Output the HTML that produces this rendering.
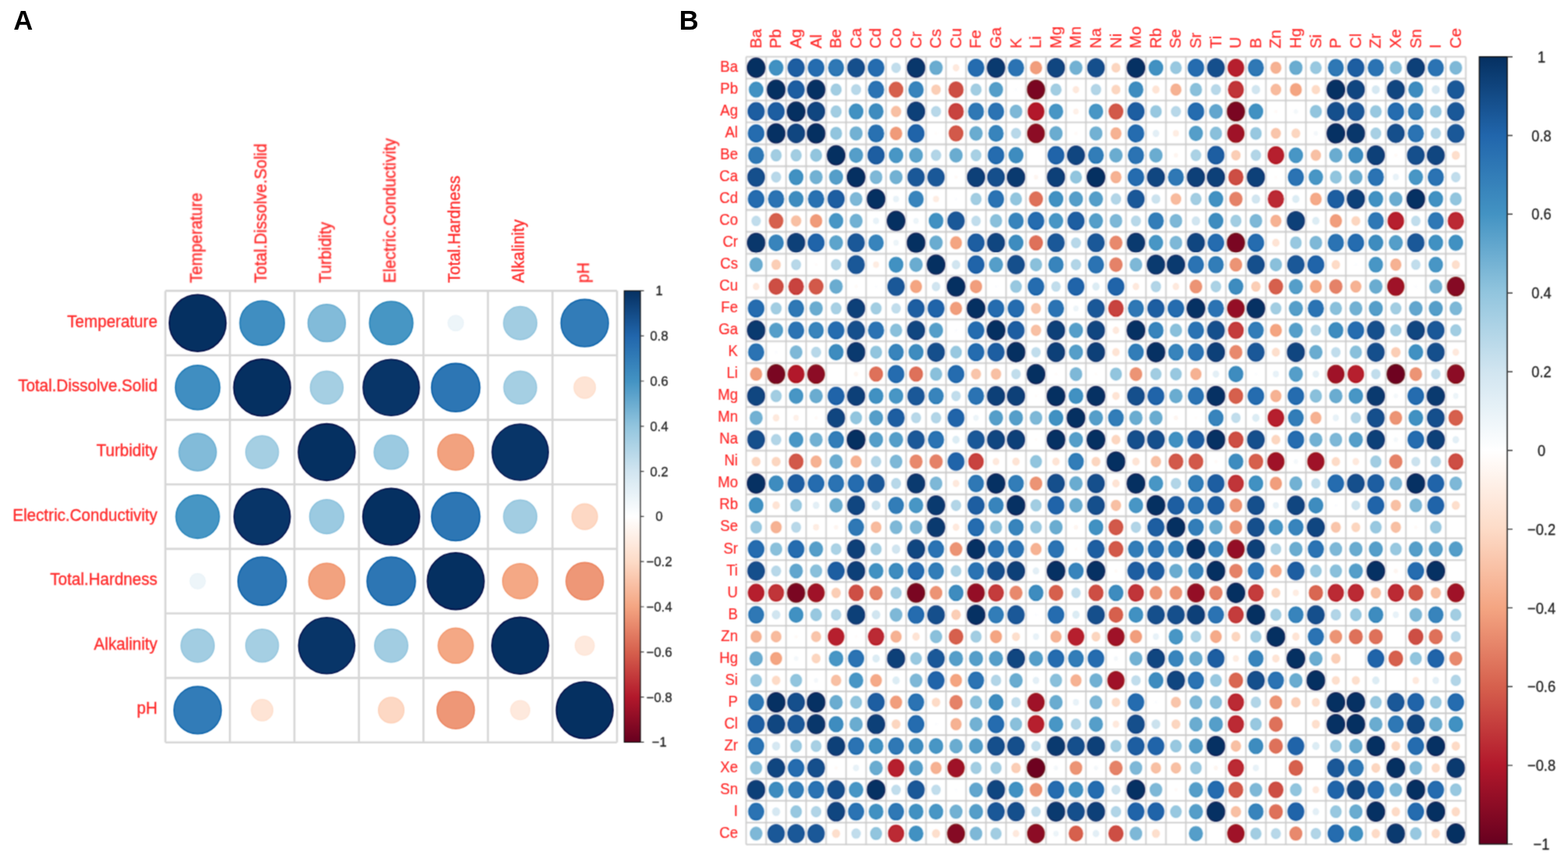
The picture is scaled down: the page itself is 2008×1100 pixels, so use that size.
<!DOCTYPE html>
<html><head><meta charset="utf-8"><title>Correlation plots</title>
<style>html,body{margin:0;padding:0;background:#fff;width:2008px;height:1100px;overflow:hidden}svg{display:block}</style>
</head><body>
<svg width="2008" height="1100" viewBox="0 0 2008 1100">
<style>text{font-family:"Liberation Sans",Arial,Helvetica,sans-serif}.t{fill:#ff2a2a;stroke:#ff2a2a;stroke-width:0.35px}.ta{font-size:20.6px}.tb{font-size:18.56px;stroke-width:0.2px}.e{text-anchor:end}.m{text-anchor:middle}.k{fill:#222;stroke:#222;stroke-width:0.3px}.ka{font-size:16.7px}.kb{font-size:18.3px}.p{font-weight:bold;font-size:34.5px;fill:#000}.h{fill:#fff}</style>
<defs><linearGradient id="cb" x1="0" y1="1" x2="0" y2="0"><stop offset="0.0" stop-color="#67001F"/><stop offset="0.1" stop-color="#B2182B"/><stop offset="0.2" stop-color="#D6604D"/><stop offset="0.3" stop-color="#F4A582"/><stop offset="0.4" stop-color="#FDDBC7"/><stop offset="0.5" stop-color="#FFFFFF"/><stop offset="0.6" stop-color="#D1E5F0"/><stop offset="0.7" stop-color="#92C5DE"/><stop offset="0.8" stop-color="#4393C3"/><stop offset="0.9" stop-color="#2166AC"/><stop offset="1.0" stop-color="#053061"/></linearGradient><filter id="soft" filterUnits="userSpaceOnUse" x="0" y="0" width="2008" height="1100" color-interpolation-filters="sRGB"><feConvolveMatrix order="3" kernelMatrix="1 2 1 2 8 2 1 2 1" divisor="20" edgeMode="duplicate"/></filter></defs>
<rect width="2008" height="1100" fill="#fff"/>
<text class="p" x="17.2" y="37.6">A</text>
<text class="p" x="869.8" y="37.6">B</text>
<g filter="url(#soft)">
<path d="M211.8 372.4V950.74M294.42 372.4V950.74M377.04 372.4V950.74M459.66 372.4V950.74M542.28 372.4V950.74M624.9 372.4V950.74M707.52 372.4V950.74M790.14 372.4V950.74M211.8 372.4H790.14M211.8 455.02H790.14M211.8 537.64H790.14M211.8 620.26H790.14M211.8 702.88H790.14M211.8 785.5H790.14M211.8 868.12H790.14M211.8 950.74H790.14" fill="none" stroke="#d6d6d6" stroke-width="2.6"/>
<circle class="h" cx="253.1" cy="413.7" r="38.68"/>
<circle class="h" cx="335.7" cy="413.7" r="30.77"/>
<circle class="h" cx="418.4" cy="413.7" r="26.16"/>
<circle class="h" cx="501" cy="413.7" r="30.06"/>
<circle class="h" cx="583.6" cy="413.7" r="12.02"/>
<circle class="h" cx="666.2" cy="413.7" r="23.5"/>
<circle class="h" cx="748.8" cy="413.7" r="32.61"/>
<circle class="h" cx="253.1" cy="496.3" r="30.77"/>
<circle class="h" cx="335.7" cy="496.3" r="38.68"/>
<circle class="h" cx="418.4" cy="496.3" r="23.18"/>
<circle class="h" cx="501" cy="496.3" r="38.31"/>
<circle class="h" cx="583.6" cy="496.3" r="33.27"/>
<circle class="h" cx="666.2" cy="496.3" r="23.18"/>
<circle class="h" cx="748.8" cy="496.3" r="15.9"/>
<circle class="h" cx="253.1" cy="579" r="26.16"/>
<circle class="h" cx="335.7" cy="579" r="23.18"/>
<circle class="h" cx="418.4" cy="579" r="38.68"/>
<circle class="h" cx="501" cy="579" r="24.12"/>
<circle class="h" cx="583.6" cy="579" r="25.31"/>
<circle class="h" cx="666.2" cy="579" r="38.31"/>
<circle class="h" cx="253.1" cy="661.6" r="30.06"/>
<circle class="h" cx="335.7" cy="661.6" r="38.31"/>
<circle class="h" cx="418.4" cy="661.6" r="24.12"/>
<circle class="h" cx="501" cy="661.6" r="38.68"/>
<circle class="h" cx="583.6" cy="661.6" r="33.27"/>
<circle class="h" cx="666.2" cy="661.6" r="23.5"/>
<circle class="h" cx="748.8" cy="661.6" r="18.54"/>
<circle class="h" cx="253.1" cy="744.2" r="12.02"/>
<circle class="h" cx="335.7" cy="744.2" r="33.27"/>
<circle class="h" cx="418.4" cy="744.2" r="25.31"/>
<circle class="h" cx="501" cy="744.2" r="33.27"/>
<circle class="h" cx="583.6" cy="744.2" r="38.68"/>
<circle class="h" cx="666.2" cy="744.2" r="24.72"/>
<circle class="h" cx="748.8" cy="744.2" r="26.16"/>
<circle class="h" cx="253.1" cy="826.8" r="23.5"/>
<circle class="h" cx="335.7" cy="826.8" r="23.18"/>
<circle class="h" cx="418.4" cy="826.8" r="38.31"/>
<circle class="h" cx="501" cy="826.8" r="23.5"/>
<circle class="h" cx="583.6" cy="826.8" r="24.72"/>
<circle class="h" cx="666.2" cy="826.8" r="38.68"/>
<circle class="h" cx="748.8" cy="826.8" r="14.38"/>
<circle class="h" cx="253.1" cy="909.4" r="32.61"/>
<circle class="h" cx="335.7" cy="909.4" r="15.9"/>
<circle class="h" cx="501" cy="909.4" r="18.54"/>
<circle class="h" cx="583.6" cy="909.4" r="26.16"/>
<circle class="h" cx="666.2" cy="909.4" r="14.38"/>
<circle class="h" cx="748.8" cy="909.4" r="38.68"/>
<circle cx="253.1" cy="413.7" r="36.38" fill="#053061" stroke="#000b45" stroke-width="1.6"/>
<circle cx="335.7" cy="413.7" r="28.47" fill="#408ec1" stroke="#1e7ab6" stroke-width="1.6"/>
<circle cx="418.4" cy="413.7" r="23.86" fill="#82bbd9" stroke="#6cafd2" stroke-width="1.6"/>
<circle cx="501" cy="413.7" r="27.76" fill="#4796c4" stroke="#2683b9" stroke-width="1.6"/>
<circle cx="583.6" cy="413.7" r="9.72" fill="#edf5f9" stroke="#eaf3f8" stroke-width="1.6"/>
<circle cx="666.2" cy="413.7" r="21.2" fill="#a2cde2" stroke="#91c4dd" stroke-width="1.6"/>
<circle cx="748.8" cy="413.7" r="30.31" fill="#327cb8" stroke="#0d64ab" stroke-width="1.6"/>
<circle cx="253.1" cy="496.3" r="28.47" fill="#408ec1" stroke="#1e7ab6" stroke-width="1.6"/>
<circle cx="335.7" cy="496.3" r="36.38" fill="#053061" stroke="#000b45" stroke-width="1.6"/>
<circle cx="418.4" cy="496.3" r="20.88" fill="#a5cfe3" stroke="#95c6de" stroke-width="1.6"/>
<circle cx="501" cy="496.3" r="36.01" fill="#083568" stroke="#00114d" stroke-width="1.6"/>
<circle cx="583.6" cy="496.3" r="30.97" fill="#2d76b4" stroke="#075da6" stroke-width="1.6"/>
<circle cx="666.2" cy="496.3" r="20.88" fill="#a5cfe3" stroke="#95c6de" stroke-width="1.6"/>
<circle cx="748.8" cy="496.3" r="13.6" fill="#fee4d5" stroke="#fedfcd" stroke-width="1.6"/>
<circle cx="253.1" cy="579" r="23.86" fill="#82bbd9" stroke="#6cafd2" stroke-width="1.6"/>
<circle cx="335.7" cy="579" r="20.88" fill="#a5cfe3" stroke="#95c6de" stroke-width="1.6"/>
<circle cx="418.4" cy="579" r="36.38" fill="#053061" stroke="#000b45" stroke-width="1.6"/>
<circle cx="501" cy="579" r="21.82" fill="#9bcae1" stroke="#89c0dc" stroke-width="1.6"/>
<circle cx="583.6" cy="579" r="23.01" fill="#f2a27f" stroke="#f09168" stroke-width="1.6"/>
<circle cx="666.2" cy="579" r="36.01" fill="#083568" stroke="#00114d" stroke-width="1.6"/>
<circle cx="253.1" cy="661.6" r="27.76" fill="#4796c4" stroke="#2683b9" stroke-width="1.6"/>
<circle cx="335.7" cy="661.6" r="36.01" fill="#083568" stroke="#00114d" stroke-width="1.6"/>
<circle cx="418.4" cy="661.6" r="21.82" fill="#9bcae1" stroke="#89c0dc" stroke-width="1.6"/>
<circle cx="501" cy="661.6" r="36.38" fill="#053061" stroke="#000b45" stroke-width="1.6"/>
<circle cx="583.6" cy="661.6" r="30.97" fill="#2d76b4" stroke="#075da6" stroke-width="1.6"/>
<circle cx="666.2" cy="661.6" r="21.2" fill="#a2cde2" stroke="#91c4dd" stroke-width="1.6"/>
<circle cx="748.8" cy="661.6" r="16.24" fill="#fdd8c4" stroke="#fdd1b9" stroke-width="1.6"/>
<circle cx="253.1" cy="744.2" r="9.72" fill="#edf5f9" stroke="#eaf3f8" stroke-width="1.6"/>
<circle cx="335.7" cy="744.2" r="30.97" fill="#2d76b4" stroke="#075da6" stroke-width="1.6"/>
<circle cx="418.4" cy="744.2" r="23.01" fill="#f2a27f" stroke="#f09168" stroke-width="1.6"/>
<circle cx="501" cy="744.2" r="30.97" fill="#2d76b4" stroke="#075da6" stroke-width="1.6"/>
<circle cx="583.6" cy="744.2" r="36.38" fill="#053061" stroke="#000b45" stroke-width="1.6"/>
<circle cx="666.2" cy="744.2" r="22.42" fill="#f4a885" stroke="#f2986f" stroke-width="1.6"/>
<circle cx="748.8" cy="744.2" r="23.86" fill="#ee9777" stroke="#eb845f" stroke-width="1.6"/>
<circle cx="253.1" cy="826.8" r="21.2" fill="#a2cde2" stroke="#91c4dd" stroke-width="1.6"/>
<circle cx="335.7" cy="826.8" r="20.88" fill="#a5cfe3" stroke="#95c6de" stroke-width="1.6"/>
<circle cx="418.4" cy="826.8" r="36.01" fill="#083568" stroke="#00114d" stroke-width="1.6"/>
<circle cx="501" cy="826.8" r="21.2" fill="#a2cde2" stroke="#91c4dd" stroke-width="1.6"/>
<circle cx="583.6" cy="826.8" r="22.42" fill="#f4a885" stroke="#f2986f" stroke-width="1.6"/>
<circle cx="666.2" cy="826.8" r="36.38" fill="#053061" stroke="#000b45" stroke-width="1.6"/>
<circle cx="748.8" cy="826.8" r="12.08" fill="#fee9dd" stroke="#fee5d7" stroke-width="1.6"/>
<circle cx="253.1" cy="909.4" r="30.31" fill="#327cb8" stroke="#0d64ab" stroke-width="1.6"/>
<circle cx="335.7" cy="909.4" r="13.6" fill="#fee4d5" stroke="#fedfcd" stroke-width="1.6"/>
<circle cx="501" cy="909.4" r="16.24" fill="#fdd8c4" stroke="#fdd1b9" stroke-width="1.6"/>
<circle cx="583.6" cy="909.4" r="23.86" fill="#ee9777" stroke="#eb845f" stroke-width="1.6"/>
<circle cx="666.2" cy="909.4" r="12.08" fill="#fee9dd" stroke="#fee5d7" stroke-width="1.6"/>
<circle cx="748.8" cy="909.4" r="36.38" fill="#053061" stroke="#000b45" stroke-width="1.6"/>
<text class="t ta e" transform="translate(201.6,418.7) scale(1,1.04)">Temperature</text>
<text class="t ta e" transform="translate(201.6,501.3) scale(1,1.04)">Total.Dissolve.Solid</text>
<text class="t ta e" transform="translate(201.6,584) scale(1,1.04)">Turbidity</text>
<text class="t ta e" transform="translate(201.6,666.6) scale(1,1.04)">Electric.Conductivity</text>
<text class="t ta e" transform="translate(201.6,749.2) scale(1,1.04)">Total.Hardness</text>
<text class="t ta e" transform="translate(201.6,831.8) scale(1,1.04)">Alkalinity</text>
<text class="t ta e" transform="translate(201.6,914.4) scale(1,1.04)">pH</text>
<text class="t ta" transform="translate(258.3,362.3) rotate(-90) scale(1,1.04)">Temperature</text>
<text class="t ta" transform="translate(340.9,362.3) rotate(-90) scale(1,1.04)">Total.Dissolve.Solid</text>
<text class="t ta" transform="translate(423.6,362.3) rotate(-90) scale(1,1.04)">Turbidity</text>
<text class="t ta" transform="translate(506.2,362.3) rotate(-90) scale(1,1.04)">Electric.Conductivity</text>
<text class="t ta" transform="translate(588.8,362.3) rotate(-90) scale(1,1.04)">Total.Hardness</text>
<text class="t ta" transform="translate(671.4,362.3) rotate(-90) scale(1,1.04)">Alkalinity</text>
<text class="t ta" transform="translate(754,362.3) rotate(-90) scale(1,1.04)">pH</text>
<rect x="799.4" y="372.4" width="20.7" height="578" fill="url(#cb)" stroke="#111" stroke-width="1.2"/>
<text class="k ka m" x="844.2" y="378.4">1</text>
<text class="k ka m" x="844.2" y="436.2">0.8</text>
<text class="k ka m" x="844.2" y="494">0.6</text>
<text class="k ka m" x="844.2" y="551.8">0.4</text>
<text class="k ka m" x="844.2" y="609.6">0.2</text>
<text class="k ka m" x="844.2" y="667.4">0</text>
<text class="k ka m" x="844.2" y="725.2">−0.2</text>
<text class="k ka m" x="844.2" y="783">−0.4</text>
<text class="k ka m" x="844.2" y="840.8">−0.6</text>
<text class="k ka m" x="844.2" y="898.6">−0.8</text>
<text class="k ka m" x="844.2" y="956.4">−1</text>
<path d="M820.1 372.4h4.5M820.1 430.2h4.5M820.1 488h4.5M820.1 545.8h4.5M820.1 603.6h4.5M820.1 661.4h4.5M820.1 719.2h4.5M820.1 777h4.5M820.1 834.8h4.5M820.1 892.6h4.5M820.1 950.4h4.5" stroke="#333" stroke-width="1.2"/>
<g transform="translate(955.5,72.7) scale(1,1.09453)">
<path d="M0 0V921.6M25.6 0V921.6M51.2 0V921.6M76.8 0V921.6M102.4 0V921.6M128 0V921.6M153.6 0V921.6M179.2 0V921.6M204.8 0V921.6M230.4 0V921.6M256 0V921.6M281.6 0V921.6M307.2 0V921.6M332.8 0V921.6M358.4 0V921.6M384 0V921.6M409.6 0V921.6M435.2 0V921.6M460.8 0V921.6M486.4 0V921.6M512 0V921.6M537.6 0V921.6M563.2 0V921.6M588.8 0V921.6M614.4 0V921.6M640 0V921.6M665.6 0V921.6M691.2 0V921.6M716.8 0V921.6M742.4 0V921.6M768 0V921.6M793.6 0V921.6M819.2 0V921.6M844.8 0V921.6M870.4 0V921.6M896 0V921.6M921.6 0V921.6M0 0H921.6M0 25.6H921.6M0 51.2H921.6M0 76.8H921.6M0 102.4H921.6M0 128H921.6M0 153.6H921.6M0 179.2H921.6M0 204.8H921.6M0 230.4H921.6M0 256H921.6M0 281.6H921.6M0 307.2H921.6M0 332.8H921.6M0 358.4H921.6M0 384H921.6M0 409.6H921.6M0 435.2H921.6M0 460.8H921.6M0 486.4H921.6M0 512H921.6M0 537.6H921.6M0 563.2H921.6M0 588.8H921.6M0 614.4H921.6M0 640H921.6M0 665.6H921.6M0 691.2H921.6M0 716.8H921.6M0 742.4H921.6M0 768H921.6M0 793.6H921.6M0 819.2H921.6M0 844.8H921.6M0 870.4H921.6M0 896H921.6M0 921.6H921.6" fill="none" stroke="#cacaca" stroke-width="1.7"/>
<circle class="h" cx="12.8" cy="12.8" r="12.9"/>
<circle class="h" cx="38.4" cy="12.8" r="10.3"/>
<circle class="h" cx="64" cy="12.8" r="11.85"/>
<circle class="h" cx="89.6" cy="12.8" r="11.48"/>
<circle class="h" cx="115.2" cy="12.8" r="11.1"/>
<circle class="h" cx="140.8" cy="12.8" r="12.2"/>
<circle class="h" cx="166.4" cy="12.8" r="11.48"/>
<circle class="h" cx="217.6" cy="12.8" r="12.74"/>
<circle class="h" cx="243.2" cy="12.8" r="9.42"/>
<circle class="h" cx="294.4" cy="12.8" r="11.48"/>
<circle class="h" cx="320" cy="12.8" r="12.68"/>
<circle class="h" cx="345.6" cy="12.8" r="11.25"/>
<circle class="h" cx="371.2" cy="12.8" r="8.71"/>
<circle class="h" cx="396.8" cy="12.8" r="12.41"/>
<circle class="h" cx="422.4" cy="12.8" r="9.25"/>
<circle class="h" cx="448" cy="12.8" r="12.2"/>
<circle class="h" cx="499.2" cy="12.8" r="12.87"/>
<circle class="h" cx="524.8" cy="12.8" r="10.3"/>
<circle class="h" cx="550.4" cy="12.8" r="8.34"/>
<circle class="h" cx="576" cy="12.8" r="11.48"/>
<circle class="h" cx="601.6" cy="12.8" r="12.2"/>
<circle class="h" cx="627.2" cy="12.8" r="11.51"/>
<circle class="h" cx="652.8" cy="12.8" r="11.1"/>
<circle class="h" cx="678.4" cy="12.8" r="8.04"/>
<circle class="h" cx="704" cy="12.8" r="9.42"/>
<circle class="h" cx="729.6" cy="12.8" r="8.34"/>
<circle class="h" cx="755.2" cy="12.8" r="11.1"/>
<circle class="h" cx="780.8" cy="12.8" r="11.85"/>
<circle class="h" cx="806.4" cy="12.8" r="11.25"/>
<circle class="h" cx="832" cy="12.8" r="8.71"/>
<circle class="h" cx="857.6" cy="12.8" r="12.54"/>
<circle class="h" cx="883.2" cy="12.8" r="11.25"/>
<circle class="h" cx="908.8" cy="12.8" r="8.99"/>
<circle class="h" cx="12.8" cy="38.4" r="10.3"/>
<circle class="h" cx="38.4" cy="38.4" r="12.9"/>
<circle class="h" cx="64" cy="38.4" r="11.85"/>
<circle class="h" cx="89.6" cy="38.4" r="12.87"/>
<circle class="h" cx="115.2" cy="38.4" r="8.04"/>
<circle class="h" cx="140.8" cy="38.4" r="7.3"/>
<circle class="h" cx="166.4" cy="38.4" r="11.25"/>
<circle class="h" cx="192" cy="38.4" r="10.22"/>
<circle class="h" cx="217.6" cy="38.4" r="10.71"/>
<circle class="h" cx="268.8" cy="38.4" r="10.6"/>
<circle class="h" cx="294.4" cy="38.4" r="8.04"/>
<circle class="h" cx="320" cy="38.4" r="9.87"/>
<circle class="h" cx="371.2" cy="38.4" r="12.6"/>
<circle class="h" cx="396.8" cy="38.4" r="8.04"/>
<circle class="h" cx="448" cy="38.4" r="7.52"/>
<circle class="h" cx="499.2" cy="38.4" r="10.46"/>
<circle class="h" cx="550.4" cy="38.4" r="8.04"/>
<circle class="h" cx="576" cy="38.4" r="8.71"/>
<circle class="h" cx="601.6" cy="38.4" r="7.3"/>
<circle class="h" cx="627.2" cy="38.4" r="11.1"/>
<circle class="h" cx="678.4" cy="38.4" r="7.73"/>
<circle class="h" cx="704" cy="38.4" r="8.53"/>
<circle class="h" cx="755.2" cy="38.4" r="12.87"/>
<circle class="h" cx="780.8" cy="38.4" r="12.41"/>
<circle class="h" cx="832" cy="38.4" r="12.41"/>
<circle class="h" cx="857.6" cy="38.4" r="10.46"/>
<circle class="h" cx="908.8" cy="38.4" r="11.99"/>
<circle class="h" cx="12.8" cy="64" r="11.85"/>
<circle class="h" cx="38.4" cy="64" r="11.85"/>
<circle class="h" cx="64" cy="64" r="12.9"/>
<circle class="h" cx="89.6" cy="64" r="12.41"/>
<circle class="h" cx="115.2" cy="64" r="8.04"/>
<circle class="h" cx="140.8" cy="64" r="10.3"/>
<circle class="h" cx="166.4" cy="64" r="10.46"/>
<circle class="h" cx="192" cy="64" r="7.52"/>
<circle class="h" cx="217.6" cy="64" r="12.54"/>
<circle class="h" cx="243.2" cy="64" r="7.3"/>
<circle class="h" cx="268.8" cy="64" r="10.82"/>
<circle class="h" cx="294.4" cy="64" r="11.1"/>
<circle class="h" cx="320" cy="64" r="11.25"/>
<circle class="h" cx="345.6" cy="64" r="8.99"/>
<circle class="h" cx="371.2" cy="64" r="11.65"/>
<circle class="h" cx="396.8" cy="64" r="10.13"/>
<circle class="h" cx="448" cy="64" r="10.13"/>
<circle class="h" cx="473.6" cy="64" r="10.37"/>
<circle class="h" cx="499.2" cy="64" r="11.85"/>
<circle class="h" cx="524.8" cy="64" r="8.34"/>
<circle class="h" cx="550.4" cy="64" r="7.3"/>
<circle class="h" cx="576" cy="64" r="11.48"/>
<circle class="h" cx="601.6" cy="64" r="9.6"/>
<circle class="h" cx="627.2" cy="64" r="12.6"/>
<circle class="h" cx="652.8" cy="64" r="10.3"/>
<circle class="h" cx="729.6" cy="64" r="8.53"/>
<circle class="h" cx="755.2" cy="64" r="12.2"/>
<circle class="h" cx="780.8" cy="64" r="11.99"/>
<circle class="h" cx="806.4" cy="64" r="8.34"/>
<circle class="h" cx="832" cy="64" r="11.48"/>
<circle class="h" cx="857.6" cy="64" r="10.95"/>
<circle class="h" cx="883.2" cy="64" r="8.34"/>
<circle class="h" cx="908.8" cy="64" r="11.99"/>
<circle class="h" cx="12.8" cy="89.6" r="11.48"/>
<circle class="h" cx="38.4" cy="89.6" r="12.87"/>
<circle class="h" cx="64" cy="89.6" r="12.41"/>
<circle class="h" cx="89.6" cy="89.6" r="12.9"/>
<circle class="h" cx="115.2" cy="89.6" r="8.53"/>
<circle class="h" cx="140.8" cy="89.6" r="9.25"/>
<circle class="h" cx="166.4" cy="89.6" r="11.33"/>
<circle class="h" cx="192" cy="89.6" r="8.81"/>
<circle class="h" cx="217.6" cy="89.6" r="11.7"/>
<circle class="h" cx="268.8" cy="89.6" r="10.37"/>
<circle class="h" cx="294.4" cy="89.6" r="9.42"/>
<circle class="h" cx="320" cy="89.6" r="10.71"/>
<circle class="h" cx="345.6" cy="89.6" r="7.3"/>
<circle class="h" cx="371.2" cy="89.6" r="12.29"/>
<circle class="h" cx="396.8" cy="89.6" r="9.42"/>
<circle class="h" cx="448" cy="89.6" r="9.25"/>
<circle class="h" cx="473.6" cy="89.6" r="8.04"/>
<circle class="h" cx="499.2" cy="89.6" r="11.48"/>
<circle class="h" cx="576" cy="89.6" r="9.87"/>
<circle class="h" cx="601.6" cy="89.6" r="8.71"/>
<circle class="h" cx="627.2" cy="89.6" r="11.97"/>
<circle class="h" cx="652.8" cy="89.6" r="8.34"/>
<circle class="h" cx="678.4" cy="89.6" r="7.3"/>
<circle class="h" cx="755.2" cy="89.6" r="12.87"/>
<circle class="h" cx="780.8" cy="89.6" r="12.74"/>
<circle class="h" cx="806.4" cy="89.6" r="7.84"/>
<circle class="h" cx="832" cy="89.6" r="12.2"/>
<circle class="h" cx="857.6" cy="89.6" r="11.25"/>
<circle class="h" cx="883.2" cy="89.6" r="7.52"/>
<circle class="h" cx="908.8" cy="89.6" r="11.99"/>
<circle class="h" cx="12.8" cy="115.2" r="11.1"/>
<circle class="h" cx="38.4" cy="115.2" r="8.04"/>
<circle class="h" cx="64" cy="115.2" r="8.04"/>
<circle class="h" cx="89.6" cy="115.2" r="8.53"/>
<circle class="h" cx="115.2" cy="115.2" r="12.9"/>
<circle class="h" cx="140.8" cy="115.2" r="9.87"/>
<circle class="h" cx="166.4" cy="115.2" r="11.85"/>
<circle class="h" cx="192" cy="115.2" r="10.13"/>
<circle class="h" cx="217.6" cy="115.2" r="9.69"/>
<circle class="h" cx="243.2" cy="115.2" r="7.52"/>
<circle class="h" cx="268.8" cy="115.2" r="9.42"/>
<circle class="h" cx="294.4" cy="115.2" r="7.84"/>
<circle class="h" cx="320" cy="115.2" r="11.48"/>
<circle class="h" cx="345.6" cy="115.2" r="10.46"/>
<circle class="h" cx="396.8" cy="115.2" r="11.7"/>
<circle class="h" cx="422.4" cy="115.2" r="12.41"/>
<circle class="h" cx="448" cy="115.2" r="10.95"/>
<circle class="h" cx="473.6" cy="115.2" r="9.42"/>
<circle class="h" cx="499.2" cy="115.2" r="11.25"/>
<circle class="h" cx="524.8" cy="115.2" r="9.42"/>
<circle class="h" cx="576" cy="115.2" r="7.73"/>
<circle class="h" cx="601.6" cy="115.2" r="11.85"/>
<circle class="h" cx="652.8" cy="115.2" r="7.52"/>
<circle class="h" cx="678.4" cy="115.2" r="11.51"/>
<circle class="h" cx="704" cy="115.2" r="10.13"/>
<circle class="h" cx="729.6" cy="115.2" r="7.52"/>
<circle class="h" cx="755.2" cy="115.2" r="9.42"/>
<circle class="h" cx="780.8" cy="115.2" r="10.46"/>
<circle class="h" cx="806.4" cy="115.2" r="12.54"/>
<circle class="h" cx="857.6" cy="115.2" r="12.2"/>
<circle class="h" cx="883.2" cy="115.2" r="12.41"/>
<circle class="h" cx="12.8" cy="140.8" r="12.2"/>
<circle class="h" cx="38.4" cy="140.8" r="7.3"/>
<circle class="h" cx="64" cy="140.8" r="10.3"/>
<circle class="h" cx="89.6" cy="140.8" r="9.25"/>
<circle class="h" cx="115.2" cy="140.8" r="9.87"/>
<circle class="h" cx="140.8" cy="140.8" r="12.9"/>
<circle class="h" cx="166.4" cy="140.8" r="8.99"/>
<circle class="h" cx="192" cy="140.8" r="9.25"/>
<circle class="h" cx="217.6" cy="140.8" r="11.99"/>
<circle class="h" cx="243.2" cy="140.8" r="11.99"/>
<circle class="h" cx="294.4" cy="140.8" r="12.54"/>
<circle class="h" cx="320" cy="140.8" r="12.2"/>
<circle class="h" cx="345.6" cy="140.8" r="12.68"/>
<circle class="h" cx="396.8" cy="140.8" r="12.54"/>
<circle class="h" cx="422.4" cy="140.8" r="8.53"/>
<circle class="h" cx="448" cy="140.8" r="12.9"/>
<circle class="h" cx="473.6" cy="140.8" r="8.04"/>
<circle class="h" cx="499.2" cy="140.8" r="11.48"/>
<circle class="h" cx="524.8" cy="140.8" r="12.41"/>
<circle class="h" cx="550.4" cy="140.8" r="11.1"/>
<circle class="h" cx="576" cy="140.8" r="12.54"/>
<circle class="h" cx="601.6" cy="140.8" r="12.54"/>
<circle class="h" cx="627.2" cy="140.8" r="10.6"/>
<circle class="h" cx="652.8" cy="140.8" r="12.54"/>
<circle class="h" cx="704" cy="140.8" r="11.25"/>
<circle class="h" cx="729.6" cy="140.8" r="10.13"/>
<circle class="h" cx="755.2" cy="140.8" r="8.53"/>
<circle class="h" cx="780.8" cy="140.8" r="9.42"/>
<circle class="h" cx="806.4" cy="140.8" r="11.25"/>
<circle class="h" cx="857.6" cy="140.8" r="10.13"/>
<circle class="h" cx="883.2" cy="140.8" r="11.25"/>
<circle class="h" cx="12.8" cy="166.4" r="11.48"/>
<circle class="h" cx="38.4" cy="166.4" r="11.25"/>
<circle class="h" cx="64" cy="166.4" r="10.46"/>
<circle class="h" cx="89.6" cy="166.4" r="11.33"/>
<circle class="h" cx="115.2" cy="166.4" r="11.85"/>
<circle class="h" cx="140.8" cy="166.4" r="8.99"/>
<circle class="h" cx="166.4" cy="166.4" r="12.9"/>
<circle class="h" cx="217.6" cy="166.4" r="10.71"/>
<circle class="h" cx="294.4" cy="166.4" r="8.04"/>
<circle class="h" cx="320" cy="166.4" r="11.25"/>
<circle class="h" cx="345.6" cy="166.4" r="8.53"/>
<circle class="h" cx="371.2" cy="166.4" r="9.83"/>
<circle class="h" cx="396.8" cy="166.4" r="10.3"/>
<circle class="h" cx="422.4" cy="166.4" r="9.87"/>
<circle class="h" cx="448" cy="166.4" r="9.87"/>
<circle class="h" cx="473.6" cy="166.4" r="7.52"/>
<circle class="h" cx="499.2" cy="166.4" r="11.99"/>
<circle class="h" cx="550.4" cy="166.4" r="7.73"/>
<circle class="h" cx="576" cy="166.4" r="8.04"/>
<circle class="h" cx="601.6" cy="166.4" r="10.3"/>
<circle class="h" cx="627.2" cy="166.4" r="9.42"/>
<circle class="h" cx="678.4" cy="166.4" r="11.31"/>
<circle class="h" cx="729.6" cy="166.4" r="8.34"/>
<circle class="h" cx="755.2" cy="166.4" r="11.85"/>
<circle class="h" cx="780.8" cy="166.4" r="12.54"/>
<circle class="h" cx="806.4" cy="166.4" r="10.3"/>
<circle class="h" cx="832" cy="166.4" r="9.42"/>
<circle class="h" cx="857.6" cy="166.4" r="12.87"/>
<circle class="h" cx="883.2" cy="166.4" r="10.3"/>
<circle class="h" cx="908.8" cy="166.4" r="8.53"/>
<circle class="h" cx="38.4" cy="192" r="10.22"/>
<circle class="h" cx="64" cy="192" r="7.52"/>
<circle class="h" cx="89.6" cy="192" r="8.81"/>
<circle class="h" cx="115.2" cy="192" r="10.13"/>
<circle class="h" cx="140.8" cy="192" r="9.25"/>
<circle class="h" cx="192" cy="192" r="12.9"/>
<circle class="h" cx="243.2" cy="192" r="10.3"/>
<circle class="h" cx="268.8" cy="192" r="11.99"/>
<circle class="h" cx="320" cy="192" r="8.71"/>
<circle class="h" cx="345.6" cy="192" r="10.71"/>
<circle class="h" cx="371.2" cy="192" r="11.48"/>
<circle class="h" cx="396.8" cy="192" r="10.13"/>
<circle class="h" cx="422.4" cy="192" r="11.85"/>
<circle class="h" cx="448" cy="192" r="9.87"/>
<circle class="h" cx="473.6" cy="192" r="8.99"/>
<circle class="h" cx="499.2" cy="192" r="7.3"/>
<circle class="h" cx="524.8" cy="192" r="10.95"/>
<circle class="h" cx="550.4" cy="192" r="8.99"/>
<circle class="h" cx="601.6" cy="192" r="10.46"/>
<circle class="h" cx="627.2" cy="192" r="8.04"/>
<circle class="h" cx="652.8" cy="192" r="8.99"/>
<circle class="h" cx="678.4" cy="192" r="8.04"/>
<circle class="h" cx="704" cy="192" r="12.54"/>
<circle class="h" cx="755.2" cy="192" r="8.71"/>
<circle class="h" cx="806.4" cy="192" r="11.1"/>
<circle class="h" cx="832" cy="192" r="11.51"/>
<circle class="h" cx="883.2" cy="192" r="11.1"/>
<circle class="h" cx="908.8" cy="192" r="11.31"/>
<circle class="h" cx="12.8" cy="217.6" r="12.74"/>
<circle class="h" cx="38.4" cy="217.6" r="10.71"/>
<circle class="h" cx="64" cy="217.6" r="12.54"/>
<circle class="h" cx="89.6" cy="217.6" r="11.7"/>
<circle class="h" cx="115.2" cy="217.6" r="9.69"/>
<circle class="h" cx="140.8" cy="217.6" r="11.99"/>
<circle class="h" cx="166.4" cy="217.6" r="10.71"/>
<circle class="h" cx="217.6" cy="217.6" r="12.9"/>
<circle class="h" cx="243.2" cy="217.6" r="9.42"/>
<circle class="h" cx="268.8" cy="217.6" r="8.53"/>
<circle class="h" cx="294.4" cy="217.6" r="11.85"/>
<circle class="h" cx="320" cy="217.6" r="12.41"/>
<circle class="h" cx="345.6" cy="217.6" r="10.46"/>
<circle class="h" cx="371.2" cy="217.6" r="9.83"/>
<circle class="h" cx="396.8" cy="217.6" r="11.99"/>
<circle class="h" cx="422.4" cy="217.6" r="7.3"/>
<circle class="h" cx="448" cy="217.6" r="11.99"/>
<circle class="h" cx="473.6" cy="217.6" r="9.25"/>
<circle class="h" cx="499.2" cy="217.6" r="12.68"/>
<circle class="h" cx="524.8" cy="217.6" r="10.13"/>
<circle class="h" cx="550.4" cy="217.6" r="8.99"/>
<circle class="h" cx="576" cy="217.6" r="12.41"/>
<circle class="h" cx="601.6" cy="217.6" r="11.48"/>
<circle class="h" cx="627.2" cy="217.6" r="12.6"/>
<circle class="h" cx="652.8" cy="217.6" r="11.48"/>
<circle class="h" cx="704" cy="217.6" r="8.34"/>
<circle class="h" cx="729.6" cy="217.6" r="8.99"/>
<circle class="h" cx="755.2" cy="217.6" r="11.25"/>
<circle class="h" cx="780.8" cy="217.6" r="11.48"/>
<circle class="h" cx="806.4" cy="217.6" r="10.46"/>
<circle class="h" cx="832" cy="217.6" r="9.87"/>
<circle class="h" cx="857.6" cy="217.6" r="11.99"/>
<circle class="h" cx="883.2" cy="217.6" r="10.3"/>
<circle class="h" cx="908.8" cy="217.6" r="10.3"/>
<circle class="h" cx="12.8" cy="243.2" r="9.42"/>
<circle class="h" cx="64" cy="243.2" r="7.3"/>
<circle class="h" cx="115.2" cy="243.2" r="7.52"/>
<circle class="h" cx="140.8" cy="243.2" r="11.99"/>
<circle class="h" cx="192" cy="243.2" r="10.3"/>
<circle class="h" cx="217.6" cy="243.2" r="9.42"/>
<circle class="h" cx="243.2" cy="243.2" r="12.9"/>
<circle class="h" cx="294.4" cy="243.2" r="11.7"/>
<circle class="h" cx="320" cy="243.2" r="9.87"/>
<circle class="h" cx="345.6" cy="243.2" r="12.2"/>
<circle class="h" cx="371.2" cy="243.2" r="8.71"/>
<circle class="h" cx="396.8" cy="243.2" r="10.71"/>
<circle class="h" cx="422.4" cy="243.2" r="7.52"/>
<circle class="h" cx="448" cy="243.2" r="11.25"/>
<circle class="h" cx="473.6" cy="243.2" r="9.42"/>
<circle class="h" cx="499.2" cy="243.2" r="8.99"/>
<circle class="h" cx="524.8" cy="243.2" r="12.68"/>
<circle class="h" cx="550.4" cy="243.2" r="12.68"/>
<circle class="h" cx="576" cy="243.2" r="11.25"/>
<circle class="h" cx="601.6" cy="243.2" r="10.95"/>
<circle class="h" cx="627.2" cy="243.2" r="8.99"/>
<circle class="h" cx="652.8" cy="243.2" r="12.2"/>
<circle class="h" cx="678.4" cy="243.2" r="8.71"/>
<circle class="h" cx="704" cy="243.2" r="11.99"/>
<circle class="h" cx="729.6" cy="243.2" r="11.7"/>
<circle class="h" cx="806.4" cy="243.2" r="10.13"/>
<circle class="h" cx="832" cy="243.2" r="8.04"/>
<circle class="h" cx="883.2" cy="243.2" r="10.13"/>
<circle class="h" cx="38.4" cy="268.8" r="10.6"/>
<circle class="h" cx="64" cy="268.8" r="10.82"/>
<circle class="h" cx="89.6" cy="268.8" r="10.37"/>
<circle class="h" cx="115.2" cy="268.8" r="9.42"/>
<circle class="h" cx="192" cy="268.8" r="11.99"/>
<circle class="h" cx="217.6" cy="268.8" r="8.53"/>
<circle class="h" cx="268.8" cy="268.8" r="12.9"/>
<circle class="h" cx="294.4" cy="268.8" r="8.71"/>
<circle class="h" cx="345.6" cy="268.8" r="8.34"/>
<circle class="h" cx="371.2" cy="268.8" r="11.48"/>
<circle class="h" cx="422.4" cy="268.8" r="11.7"/>
<circle class="h" cx="473.6" cy="268.8" r="11.7"/>
<circle class="h" cx="524.8" cy="268.8" r="7.52"/>
<circle class="h" cx="576" cy="268.8" r="8.99"/>
<circle class="h" cx="601.6" cy="268.8" r="7.73"/>
<circle class="h" cx="627.2" cy="268.8" r="10.46"/>
<circle class="h" cx="678.4" cy="268.8" r="10.22"/>
<circle class="h" cx="704" cy="268.8" r="9.87"/>
<circle class="h" cx="729.6" cy="268.8" r="8.53"/>
<circle class="h" cx="755.2" cy="268.8" r="9.42"/>
<circle class="h" cx="780.8" cy="268.8" r="8.04"/>
<circle class="h" cx="806.4" cy="268.8" r="9.42"/>
<circle class="h" cx="832" cy="268.8" r="11.97"/>
<circle class="h" cx="883.2" cy="268.8" r="9.25"/>
<circle class="h" cx="908.8" cy="268.8" r="12.42"/>
<circle class="h" cx="12.8" cy="294.4" r="11.48"/>
<circle class="h" cx="38.4" cy="294.4" r="8.04"/>
<circle class="h" cx="64" cy="294.4" r="11.1"/>
<circle class="h" cx="89.6" cy="294.4" r="9.42"/>
<circle class="h" cx="115.2" cy="294.4" r="7.84"/>
<circle class="h" cx="140.8" cy="294.4" r="12.54"/>
<circle class="h" cx="166.4" cy="294.4" r="8.04"/>
<circle class="h" cx="217.6" cy="294.4" r="11.85"/>
<circle class="h" cx="243.2" cy="294.4" r="11.7"/>
<circle class="h" cx="268.8" cy="294.4" r="8.71"/>
<circle class="h" cx="294.4" cy="294.4" r="12.9"/>
<circle class="h" cx="320" cy="294.4" r="11.48"/>
<circle class="h" cx="345.6" cy="294.4" r="11.48"/>
<circle class="h" cx="371.2" cy="294.4" r="7.3"/>
<circle class="h" cx="396.8" cy="294.4" r="11.25"/>
<circle class="h" cx="448" cy="294.4" r="11.99"/>
<circle class="h" cx="473.6" cy="294.4" r="10.82"/>
<circle class="h" cx="499.2" cy="294.4" r="11.1"/>
<circle class="h" cx="524.8" cy="294.4" r="11.85"/>
<circle class="h" cx="550.4" cy="294.4" r="11.48"/>
<circle class="h" cx="576" cy="294.4" r="12.87"/>
<circle class="h" cx="601.6" cy="294.4" r="11.25"/>
<circle class="h" cx="627.2" cy="294.4" r="12.17"/>
<circle class="h" cx="652.8" cy="294.4" r="12.87"/>
<circle class="h" cx="678.4" cy="294.4" r="8.04"/>
<circle class="h" cx="704" cy="294.4" r="9.87"/>
<circle class="h" cx="729.6" cy="294.4" r="11.25"/>
<circle class="h" cx="755.2" cy="294.4" r="8.71"/>
<circle class="h" cx="780.8" cy="294.4" r="9.25"/>
<circle class="h" cx="806.4" cy="294.4" r="9.87"/>
<circle class="h" cx="832" cy="294.4" r="8.04"/>
<circle class="h" cx="857.6" cy="294.4" r="9.6"/>
<circle class="h" cx="883.2" cy="294.4" r="9.87"/>
<circle class="h" cx="908.8" cy="294.4" r="8.99"/>
<circle class="h" cx="12.8" cy="320" r="12.68"/>
<circle class="h" cx="38.4" cy="320" r="9.87"/>
<circle class="h" cx="64" cy="320" r="11.25"/>
<circle class="h" cx="89.6" cy="320" r="10.71"/>
<circle class="h" cx="115.2" cy="320" r="11.48"/>
<circle class="h" cx="140.8" cy="320" r="12.2"/>
<circle class="h" cx="166.4" cy="320" r="11.25"/>
<circle class="h" cx="192" cy="320" r="8.71"/>
<circle class="h" cx="217.6" cy="320" r="12.41"/>
<circle class="h" cx="243.2" cy="320" r="9.87"/>
<circle class="h" cx="294.4" cy="320" r="11.48"/>
<circle class="h" cx="320" cy="320" r="12.9"/>
<circle class="h" cx="345.6" cy="320" r="11.85"/>
<circle class="h" cx="371.2" cy="320" r="7.52"/>
<circle class="h" cx="396.8" cy="320" r="12.54"/>
<circle class="h" cx="422.4" cy="320" r="9.87"/>
<circle class="h" cx="448" cy="320" r="12.41"/>
<circle class="h" cx="499.2" cy="320" r="12.87"/>
<circle class="h" cx="524.8" cy="320" r="10.71"/>
<circle class="h" cx="550.4" cy="320" r="8.71"/>
<circle class="h" cx="576" cy="320" r="11.25"/>
<circle class="h" cx="601.6" cy="320" r="12.2"/>
<circle class="h" cx="627.2" cy="320" r="10.96"/>
<circle class="h" cx="652.8" cy="320" r="10.95"/>
<circle class="h" cx="678.4" cy="320" r="8.53"/>
<circle class="h" cx="704" cy="320" r="9.87"/>
<circle class="h" cx="729.6" cy="320" r="7.52"/>
<circle class="h" cx="755.2" cy="320" r="10.46"/>
<circle class="h" cx="780.8" cy="320" r="11.48"/>
<circle class="h" cx="806.4" cy="320" r="12.2"/>
<circle class="h" cx="832" cy="320" r="8.04"/>
<circle class="h" cx="857.6" cy="320" r="12.41"/>
<circle class="h" cx="883.2" cy="320" r="11.99"/>
<circle class="h" cx="908.8" cy="320" r="8.04"/>
<circle class="h" cx="12.8" cy="345.6" r="11.25"/>
<circle class="h" cx="64" cy="345.6" r="8.99"/>
<circle class="h" cx="89.6" cy="345.6" r="7.3"/>
<circle class="h" cx="115.2" cy="345.6" r="10.46"/>
<circle class="h" cx="140.8" cy="345.6" r="12.68"/>
<circle class="h" cx="166.4" cy="345.6" r="8.53"/>
<circle class="h" cx="192" cy="345.6" r="10.71"/>
<circle class="h" cx="217.6" cy="345.6" r="10.46"/>
<circle class="h" cx="243.2" cy="345.6" r="12.2"/>
<circle class="h" cx="268.8" cy="345.6" r="8.34"/>
<circle class="h" cx="294.4" cy="345.6" r="11.48"/>
<circle class="h" cx="320" cy="345.6" r="11.85"/>
<circle class="h" cx="345.6" cy="345.6" r="12.9"/>
<circle class="h" cx="396.8" cy="345.6" r="12.54"/>
<circle class="h" cx="422.4" cy="345.6" r="9.87"/>
<circle class="h" cx="448" cy="345.6" r="12.54"/>
<circle class="h" cx="499.2" cy="345.6" r="10.95"/>
<circle class="h" cx="524.8" cy="345.6" r="12.87"/>
<circle class="h" cx="550.4" cy="345.6" r="10.71"/>
<circle class="h" cx="576" cy="345.6" r="11.25"/>
<circle class="h" cx="601.6" cy="345.6" r="12.54"/>
<circle class="h" cx="627.2" cy="345.6" r="9.25"/>
<circle class="h" cx="652.8" cy="345.6" r="11.99"/>
<circle class="h" cx="704" cy="345.6" r="12.41"/>
<circle class="h" cx="729.6" cy="345.6" r="9.42"/>
<circle class="h" cx="780.8" cy="345.6" r="8.71"/>
<circle class="h" cx="806.4" cy="345.6" r="12.2"/>
<circle class="h" cx="857.6" cy="345.6" r="10.3"/>
<circle class="h" cx="883.2" cy="345.6" r="12.2"/>
<circle class="h" cx="12.8" cy="371.2" r="8.71"/>
<circle class="h" cx="38.4" cy="371.2" r="12.6"/>
<circle class="h" cx="64" cy="371.2" r="11.65"/>
<circle class="h" cx="89.6" cy="371.2" r="12.29"/>
<circle class="h" cx="166.4" cy="371.2" r="9.83"/>
<circle class="h" cx="192" cy="371.2" r="11.48"/>
<circle class="h" cx="217.6" cy="371.2" r="9.83"/>
<circle class="h" cx="243.2" cy="371.2" r="8.71"/>
<circle class="h" cx="268.8" cy="371.2" r="11.48"/>
<circle class="h" cx="294.4" cy="371.2" r="7.3"/>
<circle class="h" cx="320" cy="371.2" r="7.52"/>
<circle class="h" cx="371.2" cy="371.2" r="12.9"/>
<circle class="h" cx="422.4" cy="371.2" r="8.99"/>
<circle class="h" cx="473.6" cy="371.2" r="8.53"/>
<circle class="h" cx="499.2" cy="371.2" r="8.99"/>
<circle class="h" cx="524.8" cy="371.2" r="8.04"/>
<circle class="h" cx="550.4" cy="371.2" r="8.34"/>
<circle class="h" cx="576" cy="371.2" r="8.04"/>
<circle class="h" cx="627.2" cy="371.2" r="10.46"/>
<circle class="h" cx="704" cy="371.2" r="9.87"/>
<circle class="h" cx="755.2" cy="371.2" r="11.97"/>
<circle class="h" cx="780.8" cy="371.2" r="11.51"/>
<circle class="h" cx="832" cy="371.2" r="12.78"/>
<circle class="h" cx="857.6" cy="371.2" r="8.99"/>
<circle class="h" cx="908.8" cy="371.2" r="12.29"/>
<circle class="h" cx="12.8" cy="396.8" r="12.41"/>
<circle class="h" cx="38.4" cy="396.8" r="8.04"/>
<circle class="h" cx="64" cy="396.8" r="10.13"/>
<circle class="h" cx="89.6" cy="396.8" r="9.42"/>
<circle class="h" cx="115.2" cy="396.8" r="11.7"/>
<circle class="h" cx="140.8" cy="396.8" r="12.54"/>
<circle class="h" cx="166.4" cy="396.8" r="10.3"/>
<circle class="h" cx="192" cy="396.8" r="10.13"/>
<circle class="h" cx="217.6" cy="396.8" r="11.99"/>
<circle class="h" cx="243.2" cy="396.8" r="10.71"/>
<circle class="h" cx="294.4" cy="396.8" r="11.25"/>
<circle class="h" cx="320" cy="396.8" r="12.54"/>
<circle class="h" cx="345.6" cy="396.8" r="12.54"/>
<circle class="h" cx="396.8" cy="396.8" r="12.9"/>
<circle class="h" cx="422.4" cy="396.8" r="10.3"/>
<circle class="h" cx="448" cy="396.8" r="12.87"/>
<circle class="h" cx="499.2" cy="396.8" r="12.2"/>
<circle class="h" cx="524.8" cy="396.8" r="11.7"/>
<circle class="h" cx="550.4" cy="396.8" r="9.42"/>
<circle class="h" cx="576" cy="396.8" r="11.25"/>
<circle class="h" cx="601.6" cy="396.8" r="12.87"/>
<circle class="h" cx="627.2" cy="396.8" r="10.22"/>
<circle class="h" cx="652.8" cy="396.8" r="11.48"/>
<circle class="h" cx="678.4" cy="396.8" r="8.04"/>
<circle class="h" cx="704" cy="396.8" r="11.48"/>
<circle class="h" cx="729.6" cy="396.8" r="8.71"/>
<circle class="h" cx="755.2" cy="396.8" r="9.42"/>
<circle class="h" cx="780.8" cy="396.8" r="10.13"/>
<circle class="h" cx="806.4" cy="396.8" r="12.68"/>
<circle class="h" cx="857.6" cy="396.8" r="11.48"/>
<circle class="h" cx="883.2" cy="396.8" r="12.68"/>
<circle class="h" cx="12.8" cy="422.4" r="9.25"/>
<circle class="h" cx="115.2" cy="422.4" r="12.41"/>
<circle class="h" cx="140.8" cy="422.4" r="8.53"/>
<circle class="h" cx="166.4" cy="422.4" r="9.87"/>
<circle class="h" cx="192" cy="422.4" r="11.85"/>
<circle class="h" cx="217.6" cy="422.4" r="7.3"/>
<circle class="h" cx="243.2" cy="422.4" r="7.52"/>
<circle class="h" cx="268.8" cy="422.4" r="11.7"/>
<circle class="h" cx="320" cy="422.4" r="9.87"/>
<circle class="h" cx="345.6" cy="422.4" r="9.87"/>
<circle class="h" cx="371.2" cy="422.4" r="8.99"/>
<circle class="h" cx="396.8" cy="422.4" r="10.3"/>
<circle class="h" cx="422.4" cy="422.4" r="12.9"/>
<circle class="h" cx="448" cy="422.4" r="9.87"/>
<circle class="h" cx="473.6" cy="422.4" r="10.95"/>
<circle class="h" cx="499.2" cy="422.4" r="9.42"/>
<circle class="h" cx="524.8" cy="422.4" r="9.42"/>
<circle class="h" cx="601.6" cy="422.4" r="10.71"/>
<circle class="h" cx="678.4" cy="422.4" r="11.51"/>
<circle class="h" cx="704" cy="422.4" r="10.95"/>
<circle class="h" cx="729.6" cy="422.4" r="8.04"/>
<circle class="h" cx="780.8" cy="422.4" r="7.52"/>
<circle class="h" cx="806.4" cy="422.4" r="12.2"/>
<circle class="h" cx="832" cy="422.4" r="8.99"/>
<circle class="h" cx="857.6" cy="422.4" r="10.3"/>
<circle class="h" cx="883.2" cy="422.4" r="12.2"/>
<circle class="h" cx="908.8" cy="422.4" r="10.22"/>
<circle class="h" cx="12.8" cy="448" r="12.2"/>
<circle class="h" cx="38.4" cy="448" r="7.52"/>
<circle class="h" cx="64" cy="448" r="10.13"/>
<circle class="h" cx="89.6" cy="448" r="9.25"/>
<circle class="h" cx="115.2" cy="448" r="10.95"/>
<circle class="h" cx="140.8" cy="448" r="12.9"/>
<circle class="h" cx="166.4" cy="448" r="9.87"/>
<circle class="h" cx="192" cy="448" r="9.87"/>
<circle class="h" cx="217.6" cy="448" r="11.99"/>
<circle class="h" cx="243.2" cy="448" r="11.25"/>
<circle class="h" cx="294.4" cy="448" r="11.99"/>
<circle class="h" cx="320" cy="448" r="12.41"/>
<circle class="h" cx="345.6" cy="448" r="12.54"/>
<circle class="h" cx="396.8" cy="448" r="12.87"/>
<circle class="h" cx="422.4" cy="448" r="9.87"/>
<circle class="h" cx="448" cy="448" r="12.9"/>
<circle class="h" cx="499.2" cy="448" r="12.2"/>
<circle class="h" cx="524.8" cy="448" r="12.2"/>
<circle class="h" cx="550.4" cy="448" r="10.3"/>
<circle class="h" cx="576" cy="448" r="11.85"/>
<circle class="h" cx="601.6" cy="448" r="12.87"/>
<circle class="h" cx="627.2" cy="448" r="10.6"/>
<circle class="h" cx="652.8" cy="448" r="12.2"/>
<circle class="h" cx="704" cy="448" r="11.48"/>
<circle class="h" cx="729.6" cy="448" r="9.25"/>
<circle class="h" cx="755.2" cy="448" r="8.99"/>
<circle class="h" cx="780.8" cy="448" r="9.87"/>
<circle class="h" cx="806.4" cy="448" r="12.54"/>
<circle class="h" cx="857.6" cy="448" r="11.48"/>
<circle class="h" cx="883.2" cy="448" r="12.54"/>
<circle class="h" cx="64" cy="473.6" r="10.37"/>
<circle class="h" cx="89.6" cy="473.6" r="8.04"/>
<circle class="h" cx="115.2" cy="473.6" r="9.42"/>
<circle class="h" cx="140.8" cy="473.6" r="8.04"/>
<circle class="h" cx="166.4" cy="473.6" r="7.52"/>
<circle class="h" cx="192" cy="473.6" r="8.99"/>
<circle class="h" cx="217.6" cy="473.6" r="9.25"/>
<circle class="h" cx="243.2" cy="473.6" r="9.42"/>
<circle class="h" cx="268.8" cy="473.6" r="11.7"/>
<circle class="h" cx="294.4" cy="473.6" r="10.82"/>
<circle class="h" cx="371.2" cy="473.6" r="8.53"/>
<circle class="h" cx="422.4" cy="473.6" r="10.95"/>
<circle class="h" cx="473.6" cy="473.6" r="12.9"/>
<circle class="h" cx="524.8" cy="473.6" r="7.52"/>
<circle class="h" cx="550.4" cy="473.6" r="10.37"/>
<circle class="h" cx="576" cy="473.6" r="10.37"/>
<circle class="h" cx="627.2" cy="473.6" r="10.46"/>
<circle class="h" cx="652.8" cy="473.6" r="10.22"/>
<circle class="h" cx="678.4" cy="473.6" r="11.97"/>
<circle class="h" cx="729.6" cy="473.6" r="11.97"/>
<circle class="h" cx="806.4" cy="473.6" r="8.04"/>
<circle class="h" cx="832" cy="473.6" r="9.42"/>
<circle class="h" cx="883.2" cy="473.6" r="7.52"/>
<circle class="h" cx="908.8" cy="473.6" r="10.6"/>
<circle class="h" cx="12.8" cy="499.2" r="12.87"/>
<circle class="h" cx="38.4" cy="499.2" r="10.46"/>
<circle class="h" cx="64" cy="499.2" r="11.85"/>
<circle class="h" cx="89.6" cy="499.2" r="11.48"/>
<circle class="h" cx="115.2" cy="499.2" r="11.25"/>
<circle class="h" cx="140.8" cy="499.2" r="11.48"/>
<circle class="h" cx="166.4" cy="499.2" r="11.99"/>
<circle class="h" cx="192" cy="499.2" r="7.3"/>
<circle class="h" cx="217.6" cy="499.2" r="12.68"/>
<circle class="h" cx="243.2" cy="499.2" r="8.99"/>
<circle class="h" cx="294.4" cy="499.2" r="11.1"/>
<circle class="h" cx="320" cy="499.2" r="12.87"/>
<circle class="h" cx="345.6" cy="499.2" r="10.95"/>
<circle class="h" cx="371.2" cy="499.2" r="8.99"/>
<circle class="h" cx="396.8" cy="499.2" r="12.2"/>
<circle class="h" cx="422.4" cy="499.2" r="9.42"/>
<circle class="h" cx="448" cy="499.2" r="12.2"/>
<circle class="h" cx="499.2" cy="499.2" r="12.9"/>
<circle class="h" cx="524.8" cy="499.2" r="10.13"/>
<circle class="h" cx="550.4" cy="499.2" r="7.52"/>
<circle class="h" cx="576" cy="499.2" r="10.95"/>
<circle class="h" cx="601.6" cy="499.2" r="11.85"/>
<circle class="h" cx="627.2" cy="499.2" r="11.1"/>
<circle class="h" cx="652.8" cy="499.2" r="10.3"/>
<circle class="h" cx="678.4" cy="499.2" r="8.71"/>
<circle class="h" cx="704" cy="499.2" r="9.25"/>
<circle class="h" cx="755.2" cy="499.2" r="11.48"/>
<circle class="h" cx="780.8" cy="499.2" r="12.2"/>
<circle class="h" cx="806.4" cy="499.2" r="11.85"/>
<circle class="h" cx="832" cy="499.2" r="8.99"/>
<circle class="h" cx="857.6" cy="499.2" r="12.87"/>
<circle class="h" cx="883.2" cy="499.2" r="11.7"/>
<circle class="h" cx="908.8" cy="499.2" r="8.99"/>
<circle class="h" cx="12.8" cy="524.8" r="10.3"/>
<circle class="h" cx="64" cy="524.8" r="8.34"/>
<circle class="h" cx="115.2" cy="524.8" r="9.42"/>
<circle class="h" cx="140.8" cy="524.8" r="12.41"/>
<circle class="h" cx="192" cy="524.8" r="10.95"/>
<circle class="h" cx="217.6" cy="524.8" r="10.13"/>
<circle class="h" cx="243.2" cy="524.8" r="12.68"/>
<circle class="h" cx="268.8" cy="524.8" r="7.52"/>
<circle class="h" cx="294.4" cy="524.8" r="11.85"/>
<circle class="h" cx="320" cy="524.8" r="10.71"/>
<circle class="h" cx="345.6" cy="524.8" r="12.87"/>
<circle class="h" cx="371.2" cy="524.8" r="8.04"/>
<circle class="h" cx="396.8" cy="524.8" r="11.7"/>
<circle class="h" cx="422.4" cy="524.8" r="9.42"/>
<circle class="h" cx="448" cy="524.8" r="12.2"/>
<circle class="h" cx="473.6" cy="524.8" r="7.52"/>
<circle class="h" cx="499.2" cy="524.8" r="10.13"/>
<circle class="h" cx="524.8" cy="524.8" r="12.9"/>
<circle class="h" cx="550.4" cy="524.8" r="11.85"/>
<circle class="h" cx="576" cy="524.8" r="11.25"/>
<circle class="h" cx="601.6" cy="524.8" r="11.85"/>
<circle class="h" cx="627.2" cy="524.8" r="8.99"/>
<circle class="h" cx="652.8" cy="524.8" r="12.2"/>
<circle class="h" cx="704" cy="524.8" r="12.41"/>
<circle class="h" cx="729.6" cy="524.8" r="10.46"/>
<circle class="h" cx="806.4" cy="524.8" r="11.7"/>
<circle class="h" cx="832" cy="524.8" r="7.52"/>
<circle class="h" cx="857.6" cy="524.8" r="8.99"/>
<circle class="h" cx="883.2" cy="524.8" r="11.7"/>
<circle class="h" cx="12.8" cy="550.4" r="8.34"/>
<circle class="h" cx="38.4" cy="550.4" r="8.04"/>
<circle class="h" cx="64" cy="550.4" r="7.3"/>
<circle class="h" cx="140.8" cy="550.4" r="11.1"/>
<circle class="h" cx="166.4" cy="550.4" r="7.73"/>
<circle class="h" cx="192" cy="550.4" r="8.99"/>
<circle class="h" cx="217.6" cy="550.4" r="8.99"/>
<circle class="h" cx="243.2" cy="550.4" r="12.68"/>
<circle class="h" cx="294.4" cy="550.4" r="11.48"/>
<circle class="h" cx="320" cy="550.4" r="8.71"/>
<circle class="h" cx="345.6" cy="550.4" r="10.71"/>
<circle class="h" cx="371.2" cy="550.4" r="8.34"/>
<circle class="h" cx="396.8" cy="550.4" r="9.42"/>
<circle class="h" cx="448" cy="550.4" r="10.3"/>
<circle class="h" cx="473.6" cy="550.4" r="10.37"/>
<circle class="h" cx="499.2" cy="550.4" r="7.52"/>
<circle class="h" cx="524.8" cy="550.4" r="11.85"/>
<circle class="h" cx="550.4" cy="550.4" r="12.9"/>
<circle class="h" cx="576" cy="550.4" r="10.95"/>
<circle class="h" cx="601.6" cy="550.4" r="9.42"/>
<circle class="h" cx="627.2" cy="550.4" r="8.99"/>
<circle class="h" cx="652.8" cy="550.4" r="12.2"/>
<circle class="h" cx="678.4" cy="550.4" r="10.13"/>
<circle class="h" cx="704" cy="550.4" r="10.71"/>
<circle class="h" cx="729.6" cy="550.4" r="12.41"/>
<circle class="h" cx="755.2" cy="550.4" r="7.3"/>
<circle class="h" cx="806.4" cy="550.4" r="8.34"/>
<circle class="h" cx="832" cy="550.4" r="7.52"/>
<circle class="h" cx="883.2" cy="550.4" r="8.34"/>
<circle class="h" cx="12.8" cy="576" r="11.48"/>
<circle class="h" cx="38.4" cy="576" r="8.71"/>
<circle class="h" cx="64" cy="576" r="11.48"/>
<circle class="h" cx="89.6" cy="576" r="9.87"/>
<circle class="h" cx="115.2" cy="576" r="7.73"/>
<circle class="h" cx="140.8" cy="576" r="12.54"/>
<circle class="h" cx="166.4" cy="576" r="8.04"/>
<circle class="h" cx="217.6" cy="576" r="12.41"/>
<circle class="h" cx="243.2" cy="576" r="11.25"/>
<circle class="h" cx="268.8" cy="576" r="8.99"/>
<circle class="h" cx="294.4" cy="576" r="12.87"/>
<circle class="h" cx="320" cy="576" r="11.25"/>
<circle class="h" cx="345.6" cy="576" r="11.25"/>
<circle class="h" cx="371.2" cy="576" r="8.04"/>
<circle class="h" cx="396.8" cy="576" r="11.25"/>
<circle class="h" cx="448" cy="576" r="11.85"/>
<circle class="h" cx="473.6" cy="576" r="10.37"/>
<circle class="h" cx="499.2" cy="576" r="10.95"/>
<circle class="h" cx="524.8" cy="576" r="11.25"/>
<circle class="h" cx="550.4" cy="576" r="10.95"/>
<circle class="h" cx="576" cy="576" r="12.9"/>
<circle class="h" cx="601.6" cy="576" r="10.71"/>
<circle class="h" cx="627.2" cy="576" r="12.17"/>
<circle class="h" cx="652.8" cy="576" r="12.54"/>
<circle class="h" cx="678.4" cy="576" r="7.73"/>
<circle class="h" cx="704" cy="576" r="9.42"/>
<circle class="h" cx="729.6" cy="576" r="11.25"/>
<circle class="h" cx="755.2" cy="576" r="8.99"/>
<circle class="h" cx="780.8" cy="576" r="9.42"/>
<circle class="h" cx="806.4" cy="576" r="9.87"/>
<circle class="h" cx="832" cy="576" r="8.34"/>
<circle class="h" cx="857.6" cy="576" r="9.87"/>
<circle class="h" cx="883.2" cy="576" r="9.87"/>
<circle class="h" cx="908.8" cy="576" r="9.87"/>
<circle class="h" cx="12.8" cy="601.6" r="12.2"/>
<circle class="h" cx="38.4" cy="601.6" r="7.3"/>
<circle class="h" cx="64" cy="601.6" r="9.6"/>
<circle class="h" cx="89.6" cy="601.6" r="8.71"/>
<circle class="h" cx="115.2" cy="601.6" r="11.85"/>
<circle class="h" cx="140.8" cy="601.6" r="12.54"/>
<circle class="h" cx="166.4" cy="601.6" r="10.3"/>
<circle class="h" cx="192" cy="601.6" r="10.46"/>
<circle class="h" cx="217.6" cy="601.6" r="11.48"/>
<circle class="h" cx="243.2" cy="601.6" r="10.95"/>
<circle class="h" cx="268.8" cy="601.6" r="7.73"/>
<circle class="h" cx="294.4" cy="601.6" r="11.25"/>
<circle class="h" cx="320" cy="601.6" r="12.2"/>
<circle class="h" cx="345.6" cy="601.6" r="12.54"/>
<circle class="h" cx="396.8" cy="601.6" r="12.87"/>
<circle class="h" cx="422.4" cy="601.6" r="10.71"/>
<circle class="h" cx="448" cy="601.6" r="12.87"/>
<circle class="h" cx="499.2" cy="601.6" r="11.85"/>
<circle class="h" cx="524.8" cy="601.6" r="11.85"/>
<circle class="h" cx="550.4" cy="601.6" r="9.42"/>
<circle class="h" cx="576" cy="601.6" r="10.71"/>
<circle class="h" cx="601.6" cy="601.6" r="12.9"/>
<circle class="h" cx="627.2" cy="601.6" r="9.42"/>
<circle class="h" cx="652.8" cy="601.6" r="11.25"/>
<circle class="h" cx="678.4" cy="601.6" r="8.34"/>
<circle class="h" cx="704" cy="601.6" r="11.85"/>
<circle class="h" cx="729.6" cy="601.6" r="8.34"/>
<circle class="h" cx="755.2" cy="601.6" r="8.71"/>
<circle class="h" cx="780.8" cy="601.6" r="9.87"/>
<circle class="h" cx="806.4" cy="601.6" r="12.87"/>
<circle class="h" cx="857.6" cy="601.6" r="11.48"/>
<circle class="h" cx="883.2" cy="601.6" r="12.87"/>
<circle class="h" cx="12.8" cy="627.2" r="11.51"/>
<circle class="h" cx="38.4" cy="627.2" r="11.1"/>
<circle class="h" cx="64" cy="627.2" r="12.6"/>
<circle class="h" cx="89.6" cy="627.2" r="11.97"/>
<circle class="h" cx="140.8" cy="627.2" r="10.6"/>
<circle class="h" cx="166.4" cy="627.2" r="9.42"/>
<circle class="h" cx="192" cy="627.2" r="8.04"/>
<circle class="h" cx="217.6" cy="627.2" r="12.6"/>
<circle class="h" cx="243.2" cy="627.2" r="8.99"/>
<circle class="h" cx="268.8" cy="627.2" r="10.46"/>
<circle class="h" cx="294.4" cy="627.2" r="12.17"/>
<circle class="h" cx="320" cy="627.2" r="10.96"/>
<circle class="h" cx="345.6" cy="627.2" r="9.25"/>
<circle class="h" cx="371.2" cy="627.2" r="10.46"/>
<circle class="h" cx="396.8" cy="627.2" r="10.22"/>
<circle class="h" cx="448" cy="627.2" r="10.6"/>
<circle class="h" cx="473.6" cy="627.2" r="10.46"/>
<circle class="h" cx="499.2" cy="627.2" r="11.1"/>
<circle class="h" cx="524.8" cy="627.2" r="8.99"/>
<circle class="h" cx="550.4" cy="627.2" r="8.99"/>
<circle class="h" cx="576" cy="627.2" r="12.17"/>
<circle class="h" cx="601.6" cy="627.2" r="9.42"/>
<circle class="h" cx="627.2" cy="627.2" r="12.9"/>
<circle class="h" cx="652.8" cy="627.2" r="10.96"/>
<circle class="h" cx="729.6" cy="627.2" r="10.07"/>
<circle class="h" cx="755.2" cy="627.2" r="11.31"/>
<circle class="h" cx="780.8" cy="627.2" r="11.31"/>
<circle class="h" cx="806.4" cy="627.2" r="7.52"/>
<circle class="h" cx="832" cy="627.2" r="11.31"/>
<circle class="h" cx="857.6" cy="627.2" r="10.37"/>
<circle class="h" cx="883.2" cy="627.2" r="7.52"/>
<circle class="h" cx="908.8" cy="627.2" r="11.97"/>
<circle class="h" cx="12.8" cy="652.8" r="11.1"/>
<circle class="h" cx="64" cy="652.8" r="10.3"/>
<circle class="h" cx="89.6" cy="652.8" r="8.34"/>
<circle class="h" cx="115.2" cy="652.8" r="7.52"/>
<circle class="h" cx="140.8" cy="652.8" r="12.54"/>
<circle class="h" cx="192" cy="652.8" r="8.99"/>
<circle class="h" cx="217.6" cy="652.8" r="11.48"/>
<circle class="h" cx="243.2" cy="652.8" r="12.2"/>
<circle class="h" cx="294.4" cy="652.8" r="12.87"/>
<circle class="h" cx="320" cy="652.8" r="10.95"/>
<circle class="h" cx="345.6" cy="652.8" r="11.99"/>
<circle class="h" cx="396.8" cy="652.8" r="11.48"/>
<circle class="h" cx="448" cy="652.8" r="12.2"/>
<circle class="h" cx="473.6" cy="652.8" r="10.22"/>
<circle class="h" cx="499.2" cy="652.8" r="10.3"/>
<circle class="h" cx="524.8" cy="652.8" r="12.2"/>
<circle class="h" cx="550.4" cy="652.8" r="12.2"/>
<circle class="h" cx="576" cy="652.8" r="12.54"/>
<circle class="h" cx="601.6" cy="652.8" r="11.25"/>
<circle class="h" cx="627.2" cy="652.8" r="10.96"/>
<circle class="h" cx="652.8" cy="652.8" r="12.9"/>
<circle class="h" cx="678.4" cy="652.8" r="8.04"/>
<circle class="h" cx="704" cy="652.8" r="10.71"/>
<circle class="h" cx="729.6" cy="652.8" r="12.2"/>
<circle class="h" cx="755.2" cy="652.8" r="7.52"/>
<circle class="h" cx="780.8" cy="652.8" r="8.34"/>
<circle class="h" cx="806.4" cy="652.8" r="10.46"/>
<circle class="h" cx="857.6" cy="652.8" r="8.99"/>
<circle class="h" cx="883.2" cy="652.8" r="10.71"/>
<circle class="h" cx="908.8" cy="652.8" r="8.04"/>
<circle class="h" cx="12.8" cy="678.4" r="8.04"/>
<circle class="h" cx="38.4" cy="678.4" r="7.73"/>
<circle class="h" cx="89.6" cy="678.4" r="7.3"/>
<circle class="h" cx="115.2" cy="678.4" r="11.51"/>
<circle class="h" cx="166.4" cy="678.4" r="11.31"/>
<circle class="h" cx="192" cy="678.4" r="8.04"/>
<circle class="h" cx="243.2" cy="678.4" r="8.71"/>
<circle class="h" cx="268.8" cy="678.4" r="10.22"/>
<circle class="h" cx="294.4" cy="678.4" r="8.04"/>
<circle class="h" cx="320" cy="678.4" r="8.53"/>
<circle class="h" cx="396.8" cy="678.4" r="8.04"/>
<circle class="h" cx="422.4" cy="678.4" r="11.51"/>
<circle class="h" cx="473.6" cy="678.4" r="11.97"/>
<circle class="h" cx="499.2" cy="678.4" r="8.71"/>
<circle class="h" cx="550.4" cy="678.4" r="10.13"/>
<circle class="h" cx="576" cy="678.4" r="7.73"/>
<circle class="h" cx="601.6" cy="678.4" r="8.34"/>
<circle class="h" cx="652.8" cy="678.4" r="8.04"/>
<circle class="h" cx="678.4" cy="678.4" r="12.9"/>
<circle class="h" cx="729.6" cy="678.4" r="11.25"/>
<circle class="h" cx="755.2" cy="678.4" r="8.99"/>
<circle class="h" cx="780.8" cy="678.4" r="9.83"/>
<circle class="h" cx="806.4" cy="678.4" r="9.83"/>
<circle class="h" cx="857.6" cy="678.4" r="10.6"/>
<circle class="h" cx="883.2" cy="678.4" r="9.83"/>
<circle class="h" cx="908.8" cy="678.4" r="7.3"/>
<circle class="h" cx="12.8" cy="704" r="9.42"/>
<circle class="h" cx="38.4" cy="704" r="8.53"/>
<circle class="h" cx="115.2" cy="704" r="10.13"/>
<circle class="h" cx="140.8" cy="704" r="11.25"/>
<circle class="h" cx="192" cy="704" r="12.54"/>
<circle class="h" cx="217.6" cy="704" r="8.34"/>
<circle class="h" cx="243.2" cy="704" r="11.99"/>
<circle class="h" cx="268.8" cy="704" r="9.87"/>
<circle class="h" cx="294.4" cy="704" r="9.87"/>
<circle class="h" cx="320" cy="704" r="9.87"/>
<circle class="h" cx="345.6" cy="704" r="12.41"/>
<circle class="h" cx="371.2" cy="704" r="9.87"/>
<circle class="h" cx="396.8" cy="704" r="11.48"/>
<circle class="h" cx="422.4" cy="704" r="10.95"/>
<circle class="h" cx="448" cy="704" r="11.48"/>
<circle class="h" cx="499.2" cy="704" r="9.25"/>
<circle class="h" cx="524.8" cy="704" r="12.41"/>
<circle class="h" cx="550.4" cy="704" r="10.71"/>
<circle class="h" cx="576" cy="704" r="9.42"/>
<circle class="h" cx="601.6" cy="704" r="11.85"/>
<circle class="h" cx="652.8" cy="704" r="10.71"/>
<circle class="h" cx="704" cy="704" r="12.9"/>
<circle class="h" cx="729.6" cy="704" r="9.42"/>
<circle class="h" cx="806.4" cy="704" r="11.7"/>
<circle class="h" cx="832" cy="704" r="10.22"/>
<circle class="h" cx="857.6" cy="704" r="8.53"/>
<circle class="h" cx="883.2" cy="704" r="11.7"/>
<circle class="h" cx="908.8" cy="704" r="9.25"/>
<circle class="h" cx="12.8" cy="729.6" r="8.34"/>
<circle class="h" cx="64" cy="729.6" r="8.53"/>
<circle class="h" cx="115.2" cy="729.6" r="7.52"/>
<circle class="h" cx="140.8" cy="729.6" r="10.13"/>
<circle class="h" cx="166.4" cy="729.6" r="8.34"/>
<circle class="h" cx="217.6" cy="729.6" r="8.99"/>
<circle class="h" cx="243.2" cy="729.6" r="11.7"/>
<circle class="h" cx="268.8" cy="729.6" r="8.53"/>
<circle class="h" cx="294.4" cy="729.6" r="11.25"/>
<circle class="h" cx="320" cy="729.6" r="7.52"/>
<circle class="h" cx="345.6" cy="729.6" r="9.42"/>
<circle class="h" cx="396.8" cy="729.6" r="8.71"/>
<circle class="h" cx="422.4" cy="729.6" r="8.04"/>
<circle class="h" cx="448" cy="729.6" r="9.25"/>
<circle class="h" cx="473.6" cy="729.6" r="11.97"/>
<circle class="h" cx="524.8" cy="729.6" r="10.46"/>
<circle class="h" cx="550.4" cy="729.6" r="12.41"/>
<circle class="h" cx="576" cy="729.6" r="11.25"/>
<circle class="h" cx="601.6" cy="729.6" r="8.34"/>
<circle class="h" cx="627.2" cy="729.6" r="10.07"/>
<circle class="h" cx="652.8" cy="729.6" r="12.2"/>
<circle class="h" cx="678.4" cy="729.6" r="11.25"/>
<circle class="h" cx="704" cy="729.6" r="9.42"/>
<circle class="h" cx="729.6" cy="729.6" r="12.9"/>
<circle class="h" cx="908.8" cy="729.6" r="7.52"/>
<circle class="h" cx="12.8" cy="755.2" r="11.1"/>
<circle class="h" cx="38.4" cy="755.2" r="12.87"/>
<circle class="h" cx="64" cy="755.2" r="12.2"/>
<circle class="h" cx="89.6" cy="755.2" r="12.87"/>
<circle class="h" cx="115.2" cy="755.2" r="9.42"/>
<circle class="h" cx="140.8" cy="755.2" r="8.53"/>
<circle class="h" cx="166.4" cy="755.2" r="11.85"/>
<circle class="h" cx="192" cy="755.2" r="8.71"/>
<circle class="h" cx="217.6" cy="755.2" r="11.25"/>
<circle class="h" cx="268.8" cy="755.2" r="9.42"/>
<circle class="h" cx="294.4" cy="755.2" r="8.71"/>
<circle class="h" cx="320" cy="755.2" r="10.46"/>
<circle class="h" cx="371.2" cy="755.2" r="11.97"/>
<circle class="h" cx="396.8" cy="755.2" r="9.42"/>
<circle class="h" cx="448" cy="755.2" r="8.99"/>
<circle class="h" cx="499.2" cy="755.2" r="11.48"/>
<circle class="h" cx="550.4" cy="755.2" r="7.3"/>
<circle class="h" cx="576" cy="755.2" r="8.99"/>
<circle class="h" cx="601.6" cy="755.2" r="8.71"/>
<circle class="h" cx="627.2" cy="755.2" r="11.31"/>
<circle class="h" cx="652.8" cy="755.2" r="7.52"/>
<circle class="h" cx="678.4" cy="755.2" r="8.99"/>
<circle class="h" cx="755.2" cy="755.2" r="12.9"/>
<circle class="h" cx="780.8" cy="755.2" r="12.87"/>
<circle class="h" cx="806.4" cy="755.2" r="8.34"/>
<circle class="h" cx="832" cy="755.2" r="11.99"/>
<circle class="h" cx="857.6" cy="755.2" r="11.7"/>
<circle class="h" cx="883.2" cy="755.2" r="8.34"/>
<circle class="h" cx="908.8" cy="755.2" r="11.48"/>
<circle class="h" cx="12.8" cy="780.8" r="11.85"/>
<circle class="h" cx="38.4" cy="780.8" r="12.41"/>
<circle class="h" cx="64" cy="780.8" r="11.99"/>
<circle class="h" cx="89.6" cy="780.8" r="12.74"/>
<circle class="h" cx="115.2" cy="780.8" r="10.46"/>
<circle class="h" cx="140.8" cy="780.8" r="9.42"/>
<circle class="h" cx="166.4" cy="780.8" r="12.54"/>
<circle class="h" cx="217.6" cy="780.8" r="11.48"/>
<circle class="h" cx="268.8" cy="780.8" r="8.04"/>
<circle class="h" cx="294.4" cy="780.8" r="9.25"/>
<circle class="h" cx="320" cy="780.8" r="11.48"/>
<circle class="h" cx="345.6" cy="780.8" r="8.71"/>
<circle class="h" cx="371.2" cy="780.8" r="11.51"/>
<circle class="h" cx="396.8" cy="780.8" r="10.13"/>
<circle class="h" cx="422.4" cy="780.8" r="7.52"/>
<circle class="h" cx="448" cy="780.8" r="9.87"/>
<circle class="h" cx="499.2" cy="780.8" r="12.2"/>
<circle class="h" cx="576" cy="780.8" r="9.42"/>
<circle class="h" cx="601.6" cy="780.8" r="9.87"/>
<circle class="h" cx="627.2" cy="780.8" r="11.31"/>
<circle class="h" cx="652.8" cy="780.8" r="8.34"/>
<circle class="h" cx="678.4" cy="780.8" r="9.83"/>
<circle class="h" cx="755.2" cy="780.8" r="12.87"/>
<circle class="h" cx="780.8" cy="780.8" r="12.9"/>
<circle class="h" cx="806.4" cy="780.8" r="9.42"/>
<circle class="h" cx="832" cy="780.8" r="11.1"/>
<circle class="h" cx="857.6" cy="780.8" r="12.41"/>
<circle class="h" cx="883.2" cy="780.8" r="9.42"/>
<circle class="h" cx="908.8" cy="780.8" r="10.3"/>
<circle class="h" cx="12.8" cy="806.4" r="11.25"/>
<circle class="h" cx="64" cy="806.4" r="8.34"/>
<circle class="h" cx="89.6" cy="806.4" r="7.84"/>
<circle class="h" cx="115.2" cy="806.4" r="12.54"/>
<circle class="h" cx="140.8" cy="806.4" r="11.25"/>
<circle class="h" cx="166.4" cy="806.4" r="10.3"/>
<circle class="h" cx="192" cy="806.4" r="11.1"/>
<circle class="h" cx="217.6" cy="806.4" r="10.46"/>
<circle class="h" cx="243.2" cy="806.4" r="10.13"/>
<circle class="h" cx="268.8" cy="806.4" r="9.42"/>
<circle class="h" cx="294.4" cy="806.4" r="9.87"/>
<circle class="h" cx="320" cy="806.4" r="12.2"/>
<circle class="h" cx="345.6" cy="806.4" r="12.2"/>
<circle class="h" cx="396.8" cy="806.4" r="12.68"/>
<circle class="h" cx="422.4" cy="806.4" r="12.2"/>
<circle class="h" cx="448" cy="806.4" r="12.54"/>
<circle class="h" cx="473.6" cy="806.4" r="8.04"/>
<circle class="h" cx="499.2" cy="806.4" r="11.85"/>
<circle class="h" cx="524.8" cy="806.4" r="11.7"/>
<circle class="h" cx="550.4" cy="806.4" r="8.34"/>
<circle class="h" cx="576" cy="806.4" r="9.87"/>
<circle class="h" cx="601.6" cy="806.4" r="12.87"/>
<circle class="h" cx="627.2" cy="806.4" r="7.52"/>
<circle class="h" cx="652.8" cy="806.4" r="10.46"/>
<circle class="h" cx="678.4" cy="806.4" r="9.83"/>
<circle class="h" cx="704" cy="806.4" r="11.7"/>
<circle class="h" cx="755.2" cy="806.4" r="8.34"/>
<circle class="h" cx="780.8" cy="806.4" r="9.42"/>
<circle class="h" cx="806.4" cy="806.4" r="12.9"/>
<circle class="h" cx="857.6" cy="806.4" r="11.48"/>
<circle class="h" cx="883.2" cy="806.4" r="12.87"/>
<circle class="h" cx="12.8" cy="832" r="8.71"/>
<circle class="h" cx="38.4" cy="832" r="12.41"/>
<circle class="h" cx="64" cy="832" r="11.48"/>
<circle class="h" cx="89.6" cy="832" r="12.2"/>
<circle class="h" cx="166.4" cy="832" r="9.42"/>
<circle class="h" cx="192" cy="832" r="11.51"/>
<circle class="h" cx="217.6" cy="832" r="9.87"/>
<circle class="h" cx="243.2" cy="832" r="8.04"/>
<circle class="h" cx="268.8" cy="832" r="11.97"/>
<circle class="h" cx="294.4" cy="832" r="8.04"/>
<circle class="h" cx="320" cy="832" r="8.04"/>
<circle class="h" cx="371.2" cy="832" r="12.78"/>
<circle class="h" cx="422.4" cy="832" r="8.99"/>
<circle class="h" cx="473.6" cy="832" r="9.42"/>
<circle class="h" cx="499.2" cy="832" r="8.99"/>
<circle class="h" cx="524.8" cy="832" r="7.52"/>
<circle class="h" cx="550.4" cy="832" r="7.52"/>
<circle class="h" cx="576" cy="832" r="8.34"/>
<circle class="h" cx="627.2" cy="832" r="11.31"/>
<circle class="h" cx="704" cy="832" r="10.22"/>
<circle class="h" cx="755.2" cy="832" r="11.99"/>
<circle class="h" cx="780.8" cy="832" r="11.1"/>
<circle class="h" cx="832" cy="832" r="12.9"/>
<circle class="h" cx="857.6" cy="832" r="8.99"/>
<circle class="h" cx="908.8" cy="832" r="12.68"/>
<circle class="h" cx="12.8" cy="857.6" r="12.54"/>
<circle class="h" cx="38.4" cy="857.6" r="10.46"/>
<circle class="h" cx="64" cy="857.6" r="10.95"/>
<circle class="h" cx="89.6" cy="857.6" r="11.25"/>
<circle class="h" cx="115.2" cy="857.6" r="12.2"/>
<circle class="h" cx="140.8" cy="857.6" r="10.13"/>
<circle class="h" cx="166.4" cy="857.6" r="12.87"/>
<circle class="h" cx="217.6" cy="857.6" r="11.99"/>
<circle class="h" cx="294.4" cy="857.6" r="9.6"/>
<circle class="h" cx="320" cy="857.6" r="12.41"/>
<circle class="h" cx="345.6" cy="857.6" r="10.3"/>
<circle class="h" cx="371.2" cy="857.6" r="8.99"/>
<circle class="h" cx="396.8" cy="857.6" r="11.48"/>
<circle class="h" cx="422.4" cy="857.6" r="10.3"/>
<circle class="h" cx="448" cy="857.6" r="11.48"/>
<circle class="h" cx="499.2" cy="857.6" r="12.87"/>
<circle class="h" cx="524.8" cy="857.6" r="8.99"/>
<circle class="h" cx="576" cy="857.6" r="9.87"/>
<circle class="h" cx="601.6" cy="857.6" r="11.48"/>
<circle class="h" cx="627.2" cy="857.6" r="10.37"/>
<circle class="h" cx="652.8" cy="857.6" r="8.99"/>
<circle class="h" cx="678.4" cy="857.6" r="10.6"/>
<circle class="h" cx="704" cy="857.6" r="8.53"/>
<circle class="h" cx="755.2" cy="857.6" r="11.7"/>
<circle class="h" cx="780.8" cy="857.6" r="12.41"/>
<circle class="h" cx="806.4" cy="857.6" r="11.48"/>
<circle class="h" cx="832" cy="857.6" r="8.99"/>
<circle class="h" cx="857.6" cy="857.6" r="12.9"/>
<circle class="h" cx="883.2" cy="857.6" r="11.48"/>
<circle class="h" cx="908.8" cy="857.6" r="8.34"/>
<circle class="h" cx="12.8" cy="883.2" r="11.25"/>
<circle class="h" cx="64" cy="883.2" r="8.34"/>
<circle class="h" cx="89.6" cy="883.2" r="7.52"/>
<circle class="h" cx="115.2" cy="883.2" r="12.41"/>
<circle class="h" cx="140.8" cy="883.2" r="11.25"/>
<circle class="h" cx="166.4" cy="883.2" r="10.3"/>
<circle class="h" cx="192" cy="883.2" r="11.1"/>
<circle class="h" cx="217.6" cy="883.2" r="10.3"/>
<circle class="h" cx="243.2" cy="883.2" r="10.13"/>
<circle class="h" cx="268.8" cy="883.2" r="9.25"/>
<circle class="h" cx="294.4" cy="883.2" r="9.87"/>
<circle class="h" cx="320" cy="883.2" r="11.99"/>
<circle class="h" cx="345.6" cy="883.2" r="12.2"/>
<circle class="h" cx="396.8" cy="883.2" r="12.68"/>
<circle class="h" cx="422.4" cy="883.2" r="12.2"/>
<circle class="h" cx="448" cy="883.2" r="12.54"/>
<circle class="h" cx="473.6" cy="883.2" r="7.52"/>
<circle class="h" cx="499.2" cy="883.2" r="11.7"/>
<circle class="h" cx="524.8" cy="883.2" r="11.7"/>
<circle class="h" cx="550.4" cy="883.2" r="8.34"/>
<circle class="h" cx="576" cy="883.2" r="9.87"/>
<circle class="h" cx="601.6" cy="883.2" r="12.87"/>
<circle class="h" cx="627.2" cy="883.2" r="7.52"/>
<circle class="h" cx="652.8" cy="883.2" r="10.71"/>
<circle class="h" cx="678.4" cy="883.2" r="9.83"/>
<circle class="h" cx="704" cy="883.2" r="11.7"/>
<circle class="h" cx="755.2" cy="883.2" r="8.34"/>
<circle class="h" cx="780.8" cy="883.2" r="9.42"/>
<circle class="h" cx="806.4" cy="883.2" r="12.87"/>
<circle class="h" cx="857.6" cy="883.2" r="11.48"/>
<circle class="h" cx="883.2" cy="883.2" r="12.9"/>
<circle class="h" cx="12.8" cy="908.8" r="8.99"/>
<circle class="h" cx="38.4" cy="908.8" r="11.99"/>
<circle class="h" cx="64" cy="908.8" r="11.99"/>
<circle class="h" cx="89.6" cy="908.8" r="11.99"/>
<circle class="h" cx="166.4" cy="908.8" r="8.53"/>
<circle class="h" cx="192" cy="908.8" r="11.31"/>
<circle class="h" cx="217.6" cy="908.8" r="10.3"/>
<circle class="h" cx="268.8" cy="908.8" r="12.42"/>
<circle class="h" cx="294.4" cy="908.8" r="8.99"/>
<circle class="h" cx="320" cy="908.8" r="8.04"/>
<circle class="h" cx="371.2" cy="908.8" r="12.29"/>
<circle class="h" cx="422.4" cy="908.8" r="10.22"/>
<circle class="h" cx="473.6" cy="908.8" r="10.6"/>
<circle class="h" cx="499.2" cy="908.8" r="8.99"/>
<circle class="h" cx="576" cy="908.8" r="9.87"/>
<circle class="h" cx="627.2" cy="908.8" r="11.97"/>
<circle class="h" cx="652.8" cy="908.8" r="8.04"/>
<circle class="h" cx="678.4" cy="908.8" r="7.3"/>
<circle class="h" cx="704" cy="908.8" r="9.25"/>
<circle class="h" cx="729.6" cy="908.8" r="7.52"/>
<circle class="h" cx="755.2" cy="908.8" r="11.48"/>
<circle class="h" cx="780.8" cy="908.8" r="10.3"/>
<circle class="h" cx="832" cy="908.8" r="12.68"/>
<circle class="h" cx="857.6" cy="908.8" r="8.34"/>
<circle class="h" cx="908.8" cy="908.8" r="12.9"/>
<circle cx="12.8" cy="12.8" r="11.35" fill="#053061" stroke="#000b45" stroke-width="1.1"/>
<circle cx="38.4" cy="12.8" r="8.75" fill="#4191c2" stroke="#1f7db7" stroke-width="1.1"/>
<circle cx="64" cy="12.8" r="10.3" fill="#1d5ea1" stroke="#004190" stroke-width="1.1"/>
<circle cx="89.6" cy="12.8" r="9.93" fill="#256caf" stroke="#0052a1" stroke-width="1.1"/>
<circle cx="115.2" cy="12.8" r="9.55" fill="#2f78b5" stroke="#0a60a8" stroke-width="1.1"/>
<circle cx="140.8" cy="12.8" r="10.65" fill="#154f8c" stroke="#002f77" stroke-width="1.1"/>
<circle cx="166.4" cy="12.8" r="9.93" fill="#256caf" stroke="#0052a1" stroke-width="1.1"/>
<circle cx="192" cy="12.8" r="5.4" fill="#c1ddec" stroke="#b6d7e9" stroke-width="1.1"/>
<circle cx="217.6" cy="12.8" r="11.19" fill="#09376b" stroke="#001350" stroke-width="1.1"/>
<circle cx="243.2" cy="12.8" r="7.87" fill="#6aacd0" stroke="#4f9dc8" stroke-width="1.1"/>
<circle cx="268.8" cy="12.8" r="3.57" fill="#fee9dd" stroke="#fee5d7" stroke-width="1.1"/>
<circle cx="294.4" cy="12.8" r="9.93" fill="#256caf" stroke="#0052a1" stroke-width="1.1"/>
<circle cx="320" cy="12.8" r="11.13" fill="#0a3a6f" stroke="#001755" stroke-width="1.1"/>
<circle cx="345.6" cy="12.8" r="9.7" fill="#2b73b3" stroke="#055aa5" stroke-width="1.1"/>
<circle cx="371.2" cy="12.8" r="7.16" fill="#f19e7d" stroke="#ee8d66" stroke-width="1.1"/>
<circle cx="396.8" cy="12.8" r="10.86" fill="#104680" stroke="#002569" stroke-width="1.1"/>
<circle cx="422.4" cy="12.8" r="7.7" fill="#72b1d3" stroke="#59a3cb" stroke-width="1.1"/>
<circle cx="448" cy="12.8" r="10.65" fill="#154f8c" stroke="#002f77" stroke-width="1.1"/>
<circle cx="473.6" cy="12.8" r="5.03" fill="#fcd6c0" stroke="#fbcfb5" stroke-width="1.1"/>
<circle cx="499.2" cy="12.8" r="11.32" fill="#063163" stroke="#000c47" stroke-width="1.1"/>
<circle cx="524.8" cy="12.8" r="8.75" fill="#4191c2" stroke="#1f7db7" stroke-width="1.1"/>
<circle cx="550.4" cy="12.8" r="6.79" fill="#98c8e0" stroke="#85beda" stroke-width="1.1"/>
<circle cx="576" cy="12.8" r="9.93" fill="#256caf" stroke="#0052a1" stroke-width="1.1"/>
<circle cx="601.6" cy="12.8" r="10.65" fill="#154f8c" stroke="#002f77" stroke-width="1.1"/>
<circle cx="627.2" cy="12.8" r="9.96" fill="#b61f2e" stroke="#a90008" stroke-width="1.1"/>
<circle cx="652.8" cy="12.8" r="9.55" fill="#2f78b5" stroke="#0a60a8" stroke-width="1.1"/>
<circle cx="678.4" cy="12.8" r="6.49" fill="#f6b293" stroke="#f4a480" stroke-width="1.1"/>
<circle cx="704" cy="12.8" r="7.87" fill="#6aacd0" stroke="#4f9dc8" stroke-width="1.1"/>
<circle cx="729.6" cy="12.8" r="6.79" fill="#98c8e0" stroke="#85beda" stroke-width="1.1"/>
<circle cx="755.2" cy="12.8" r="9.55" fill="#2f78b5" stroke="#0a60a8" stroke-width="1.1"/>
<circle cx="780.8" cy="12.8" r="10.3" fill="#1d5ea1" stroke="#004190" stroke-width="1.1"/>
<circle cx="806.4" cy="12.8" r="9.7" fill="#2b73b3" stroke="#055aa5" stroke-width="1.1"/>
<circle cx="832" cy="12.8" r="7.16" fill="#8ac0db" stroke="#75b5d5" stroke-width="1.1"/>
<circle cx="857.6" cy="12.8" r="10.99" fill="#0d4078" stroke="#001e60" stroke-width="1.1"/>
<circle cx="883.2" cy="12.8" r="9.7" fill="#2b73b3" stroke="#055aa5" stroke-width="1.1"/>
<circle cx="908.8" cy="12.8" r="7.44" fill="#7eb8d7" stroke="#67abd0" stroke-width="1.1"/>
<circle cx="12.8" cy="38.4" r="8.75" fill="#4191c2" stroke="#1f7db7" stroke-width="1.1"/>
<circle cx="38.4" cy="38.4" r="11.35" fill="#053061" stroke="#000b45" stroke-width="1.1"/>
<circle cx="64" cy="38.4" r="10.3" fill="#1d5ea1" stroke="#004190" stroke-width="1.1"/>
<circle cx="89.6" cy="38.4" r="11.32" fill="#063163" stroke="#000c47" stroke-width="1.1"/>
<circle cx="115.2" cy="38.4" r="6.49" fill="#a2cde2" stroke="#91c4dd" stroke-width="1.1"/>
<circle cx="140.8" cy="38.4" r="5.75" fill="#b8d8e9" stroke="#abd1e5" stroke-width="1.1"/>
<circle cx="166.4" cy="38.4" r="9.7" fill="#2b73b3" stroke="#055aa5" stroke-width="1.1"/>
<circle cx="192" cy="38.4" r="8.67" fill="#d6604d" stroke="#cf432d" stroke-width="1.1"/>
<circle cx="217.6" cy="38.4" r="9.16" fill="#3884bc" stroke="#146eb0" stroke-width="1.1"/>
<circle cx="243.2" cy="38.4" r="5.4" fill="#fbceb6" stroke="#fac5a9" stroke-width="1.1"/>
<circle cx="268.8" cy="38.4" r="9.05" fill="#cd4e44" stroke="#c42e22" stroke-width="1.1"/>
<circle cx="294.4" cy="38.4" r="6.49" fill="#a2cde2" stroke="#91c4dd" stroke-width="1.1"/>
<circle cx="320" cy="38.4" r="8.32" fill="#559ec9" stroke="#368dbf" stroke-width="1.1"/>
<circle cx="345.6" cy="38.4" r="1.26" fill="#fafcfe" stroke="#f9fbfe" stroke-width="0.84"/>
<circle cx="371.2" cy="38.4" r="11.05" fill="#7a0622" stroke="#620000" stroke-width="1.1"/>
<circle cx="396.8" cy="38.4" r="6.49" fill="#a2cde2" stroke="#91c4dd" stroke-width="1.1"/>
<circle cx="422.4" cy="38.4" r="3.57" fill="#fee9dd" stroke="#fee5d7" stroke-width="1.1"/>
<circle cx="448" cy="38.4" r="5.97" fill="#b2d5e7" stroke="#a4cde3" stroke-width="1.1"/>
<circle cx="473.6" cy="38.4" r="5.03" fill="#fcd6c0" stroke="#fbcfb5" stroke-width="1.1"/>
<circle cx="499.2" cy="38.4" r="8.91" fill="#3e8cbf" stroke="#1b77b3" stroke-width="1.1"/>
<circle cx="524.8" cy="38.4" r="4.06" fill="#fee4d5" stroke="#fedfcd" stroke-width="1.1"/>
<circle cx="550.4" cy="38.4" r="6.49" fill="#f6b293" stroke="#f4a480" stroke-width="1.1"/>
<circle cx="576" cy="38.4" r="7.16" fill="#8ac0db" stroke="#75b5d5" stroke-width="1.1"/>
<circle cx="601.6" cy="38.4" r="5.75" fill="#b8d8e9" stroke="#abd1e5" stroke-width="1.1"/>
<circle cx="627.2" cy="38.4" r="9.55" fill="#c03539" stroke="#b51115" stroke-width="1.1"/>
<circle cx="652.8" cy="38.4" r="4.77" fill="#d1e5f0" stroke="#c9e0ed" stroke-width="1.1"/>
<circle cx="678.4" cy="38.4" r="6.18" fill="#f8bb9e" stroke="#f7af8d" stroke-width="1.1"/>
<circle cx="704" cy="38.4" r="6.98" fill="#f4a582" stroke="#f2956c" stroke-width="1.1"/>
<circle cx="729.6" cy="38.4" r="4.77" fill="#fddbc7" stroke="#fdd5bd" stroke-width="1.1"/>
<circle cx="755.2" cy="38.4" r="11.32" fill="#063163" stroke="#000c47" stroke-width="1.1"/>
<circle cx="780.8" cy="38.4" r="10.86" fill="#104680" stroke="#002569" stroke-width="1.1"/>
<circle cx="806.4" cy="38.4" r="4.5" fill="#d6e8f2" stroke="#cfe4f0" stroke-width="1.1"/>
<circle cx="832" cy="38.4" r="10.86" fill="#104680" stroke="#002569" stroke-width="1.1"/>
<circle cx="857.6" cy="38.4" r="8.91" fill="#3e8cbf" stroke="#1b77b3" stroke-width="1.1"/>
<circle cx="883.2" cy="38.4" r="4.5" fill="#d6e8f2" stroke="#cfe4f0" stroke-width="1.1"/>
<circle cx="908.8" cy="38.4" r="10.44" fill="#1a5898" stroke="#003a85" stroke-width="1.1"/>
<circle cx="12.8" cy="64" r="10.3" fill="#1d5ea1" stroke="#004190" stroke-width="1.1"/>
<circle cx="38.4" cy="64" r="10.3" fill="#1d5ea1" stroke="#004190" stroke-width="1.1"/>
<circle cx="64" cy="64" r="11.35" fill="#053061" stroke="#000b45" stroke-width="1.1"/>
<circle cx="89.6" cy="64" r="10.86" fill="#104680" stroke="#002569" stroke-width="1.1"/>
<circle cx="115.2" cy="64" r="6.49" fill="#a2cde2" stroke="#91c4dd" stroke-width="1.1"/>
<circle cx="140.8" cy="64" r="8.75" fill="#4191c2" stroke="#1f7db7" stroke-width="1.1"/>
<circle cx="166.4" cy="64" r="8.91" fill="#3e8cbf" stroke="#1b77b3" stroke-width="1.1"/>
<circle cx="192" cy="64" r="5.97" fill="#f8c0a4" stroke="#f7b594" stroke-width="1.1"/>
<circle cx="217.6" cy="64" r="10.99" fill="#0d4078" stroke="#001e60" stroke-width="1.1"/>
<circle cx="243.2" cy="64" r="5.75" fill="#b8d8e9" stroke="#abd1e5" stroke-width="1.1"/>
<circle cx="268.8" cy="64" r="9.27" fill="#c8433f" stroke="#be211c" stroke-width="1.1"/>
<circle cx="294.4" cy="64" r="9.55" fill="#2f78b5" stroke="#0a60a8" stroke-width="1.1"/>
<circle cx="320" cy="64" r="9.7" fill="#2b73b3" stroke="#055aa5" stroke-width="1.1"/>
<circle cx="345.6" cy="64" r="7.44" fill="#7eb8d7" stroke="#67abd0" stroke-width="1.1"/>
<circle cx="371.2" cy="64" r="10.1" fill="#b2182b" stroke="#a40005" stroke-width="1.1"/>
<circle cx="396.8" cy="64" r="8.58" fill="#4896c5" stroke="#2783bb" stroke-width="1.1"/>
<circle cx="422.4" cy="64" r="2.82" fill="#fef1e9" stroke="#feeee5" stroke-width="1.1"/>
<circle cx="448" cy="64" r="8.58" fill="#4896c5" stroke="#2783bb" stroke-width="1.1"/>
<circle cx="473.6" cy="64" r="8.82" fill="#d2594a" stroke="#ca3b29" stroke-width="1.1"/>
<circle cx="499.2" cy="64" r="10.3" fill="#1d5ea1" stroke="#004190" stroke-width="1.1"/>
<circle cx="524.8" cy="64" r="6.79" fill="#98c8e0" stroke="#85beda" stroke-width="1.1"/>
<circle cx="550.4" cy="64" r="5.75" fill="#b8d8e9" stroke="#abd1e5" stroke-width="1.1"/>
<circle cx="576" cy="64" r="9.93" fill="#256caf" stroke="#0052a1" stroke-width="1.1"/>
<circle cx="601.6" cy="64" r="8.05" fill="#62a6ce" stroke="#4696c5" stroke-width="1.1"/>
<circle cx="627.2" cy="64" r="11.05" fill="#7a0622" stroke="#620000" stroke-width="1.1"/>
<circle cx="652.8" cy="64" r="8.75" fill="#4191c2" stroke="#1f7db7" stroke-width="1.1"/>
<circle cx="678.4" cy="64" r="1.55" fill="#fffaf7" stroke="#fff9f6" stroke-width="1.03"/>
<circle cx="704" cy="64" r="2.11" fill="#f4f8fb" stroke="#f2f7fa" stroke-width="1.1"/>
<circle cx="729.6" cy="64" r="6.98" fill="#92c5de" stroke="#7ebbd8" stroke-width="1.1"/>
<circle cx="755.2" cy="64" r="10.65" fill="#154f8c" stroke="#002f77" stroke-width="1.1"/>
<circle cx="780.8" cy="64" r="10.44" fill="#1a5898" stroke="#003a85" stroke-width="1.1"/>
<circle cx="806.4" cy="64" r="6.79" fill="#98c8e0" stroke="#85beda" stroke-width="1.1"/>
<circle cx="832" cy="64" r="9.93" fill="#256caf" stroke="#0052a1" stroke-width="1.1"/>
<circle cx="857.6" cy="64" r="9.4" fill="#327db8" stroke="#0d66ab" stroke-width="1.1"/>
<circle cx="883.2" cy="64" r="6.79" fill="#98c8e0" stroke="#85beda" stroke-width="1.1"/>
<circle cx="908.8" cy="64" r="10.44" fill="#1a5898" stroke="#003a85" stroke-width="1.1"/>
<circle cx="12.8" cy="89.6" r="9.93" fill="#256caf" stroke="#0052a1" stroke-width="1.1"/>
<circle cx="38.4" cy="89.6" r="11.32" fill="#063163" stroke="#000c47" stroke-width="1.1"/>
<circle cx="64" cy="89.6" r="10.86" fill="#104680" stroke="#002569" stroke-width="1.1"/>
<circle cx="89.6" cy="89.6" r="11.35" fill="#053061" stroke="#000b45" stroke-width="1.1"/>
<circle cx="115.2" cy="89.6" r="6.98" fill="#92c5de" stroke="#7ebbd8" stroke-width="1.1"/>
<circle cx="140.8" cy="89.6" r="7.7" fill="#72b1d3" stroke="#59a3cb" stroke-width="1.1"/>
<circle cx="166.4" cy="89.6" r="9.78" fill="#2971b1" stroke="#0257a3" stroke-width="1.1"/>
<circle cx="192" cy="89.6" r="7.26" fill="#f09b7a" stroke="#ed8962" stroke-width="1.1"/>
<circle cx="217.6" cy="89.6" r="10.15" fill="#2064a9" stroke="#00489a" stroke-width="1.1"/>
<circle cx="243.2" cy="89.6" r="1.26" fill="#fffbf9" stroke="#fffaf8" stroke-width="0.84"/>
<circle cx="268.8" cy="89.6" r="8.82" fill="#d2594a" stroke="#ca3b29" stroke-width="1.1"/>
<circle cx="294.4" cy="89.6" r="7.87" fill="#6aacd0" stroke="#4f9dc8" stroke-width="1.1"/>
<circle cx="320" cy="89.6" r="9.16" fill="#3884bc" stroke="#146eb0" stroke-width="1.1"/>
<circle cx="345.6" cy="89.6" r="5.75" fill="#b8d8e9" stroke="#abd1e5" stroke-width="1.1"/>
<circle cx="371.2" cy="89.6" r="10.74" fill="#8c0c25" stroke="#770000" stroke-width="1.1"/>
<circle cx="396.8" cy="89.6" r="7.87" fill="#6aacd0" stroke="#4f9dc8" stroke-width="1.1"/>
<circle cx="422.4" cy="89.6" r="1.55" fill="#fffaf7" stroke="#fff9f6" stroke-width="1.03"/>
<circle cx="448" cy="89.6" r="7.7" fill="#72b1d3" stroke="#59a3cb" stroke-width="1.1"/>
<circle cx="473.6" cy="89.6" r="6.49" fill="#f6b293" stroke="#f4a480" stroke-width="1.1"/>
<circle cx="499.2" cy="89.6" r="9.93" fill="#256caf" stroke="#0052a1" stroke-width="1.1"/>
<circle cx="524.8" cy="89.6" r="3.57" fill="#e3eff6" stroke="#deecf4" stroke-width="1.1"/>
<circle cx="550.4" cy="89.6" r="3.21" fill="#feede3" stroke="#feeade" stroke-width="1.1"/>
<circle cx="576" cy="89.6" r="8.32" fill="#559ec9" stroke="#368dbf" stroke-width="1.1"/>
<circle cx="601.6" cy="89.6" r="7.16" fill="#8ac0db" stroke="#75b5d5" stroke-width="1.1"/>
<circle cx="627.2" cy="89.6" r="10.42" fill="#9f1228" stroke="#8e0001" stroke-width="1.1"/>
<circle cx="652.8" cy="89.6" r="6.79" fill="#98c8e0" stroke="#85beda" stroke-width="1.1"/>
<circle cx="678.4" cy="89.6" r="5.75" fill="#f9c5ab" stroke="#f8bb9c" stroke-width="1.1"/>
<circle cx="704" cy="89.6" r="5.03" fill="#fcd6c0" stroke="#fbcfb5" stroke-width="1.1"/>
<circle cx="729.6" cy="89.6" r="2.11" fill="#f4f8fb" stroke="#f2f7fa" stroke-width="1.1"/>
<circle cx="755.2" cy="89.6" r="11.32" fill="#063163" stroke="#000c47" stroke-width="1.1"/>
<circle cx="780.8" cy="89.6" r="11.19" fill="#09376b" stroke="#001350" stroke-width="1.1"/>
<circle cx="806.4" cy="89.6" r="6.29" fill="#a8d0e4" stroke="#98c8df" stroke-width="1.1"/>
<circle cx="832" cy="89.6" r="10.65" fill="#154f8c" stroke="#002f77" stroke-width="1.1"/>
<circle cx="857.6" cy="89.6" r="9.7" fill="#2b73b3" stroke="#055aa5" stroke-width="1.1"/>
<circle cx="883.2" cy="89.6" r="5.97" fill="#b2d5e7" stroke="#a4cde3" stroke-width="1.1"/>
<circle cx="908.8" cy="89.6" r="10.44" fill="#1a5898" stroke="#003a85" stroke-width="1.1"/>
<circle cx="12.8" cy="115.2" r="9.55" fill="#2f78b5" stroke="#0a60a8" stroke-width="1.1"/>
<circle cx="38.4" cy="115.2" r="6.49" fill="#a2cde2" stroke="#91c4dd" stroke-width="1.1"/>
<circle cx="64" cy="115.2" r="6.49" fill="#a2cde2" stroke="#91c4dd" stroke-width="1.1"/>
<circle cx="89.6" cy="115.2" r="6.98" fill="#92c5de" stroke="#7ebbd8" stroke-width="1.1"/>
<circle cx="115.2" cy="115.2" r="11.35" fill="#053061" stroke="#000b45" stroke-width="1.1"/>
<circle cx="140.8" cy="115.2" r="8.32" fill="#559ec9" stroke="#368dbf" stroke-width="1.1"/>
<circle cx="166.4" cy="115.2" r="10.3" fill="#1d5ea1" stroke="#004190" stroke-width="1.1"/>
<circle cx="192" cy="115.2" r="8.58" fill="#4896c5" stroke="#2783bb" stroke-width="1.1"/>
<circle cx="217.6" cy="115.2" r="8.14" fill="#5da4cc" stroke="#4094c3" stroke-width="1.1"/>
<circle cx="243.2" cy="115.2" r="5.97" fill="#b2d5e7" stroke="#a4cde3" stroke-width="1.1"/>
<circle cx="268.8" cy="115.2" r="7.87" fill="#6aacd0" stroke="#4f9dc8" stroke-width="1.1"/>
<circle cx="294.4" cy="115.2" r="6.29" fill="#a8d0e4" stroke="#98c8df" stroke-width="1.1"/>
<circle cx="320" cy="115.2" r="9.93" fill="#256caf" stroke="#0052a1" stroke-width="1.1"/>
<circle cx="345.6" cy="115.2" r="8.91" fill="#3e8cbf" stroke="#1b77b3" stroke-width="1.1"/>
<circle cx="396.8" cy="115.2" r="10.15" fill="#2064a9" stroke="#00489a" stroke-width="1.1"/>
<circle cx="422.4" cy="115.2" r="10.86" fill="#104680" stroke="#002569" stroke-width="1.1"/>
<circle cx="448" cy="115.2" r="9.4" fill="#327db8" stroke="#0d66ab" stroke-width="1.1"/>
<circle cx="473.6" cy="115.2" r="7.87" fill="#6aacd0" stroke="#4f9dc8" stroke-width="1.1"/>
<circle cx="499.2" cy="115.2" r="9.7" fill="#2b73b3" stroke="#055aa5" stroke-width="1.1"/>
<circle cx="524.8" cy="115.2" r="7.87" fill="#6aacd0" stroke="#4f9dc8" stroke-width="1.1"/>
<circle cx="550.4" cy="115.2" r="2.11" fill="#fef6f1" stroke="#fef4ee" stroke-width="1.1"/>
<circle cx="576" cy="115.2" r="6.18" fill="#abd2e5" stroke="#9ccae0" stroke-width="1.1"/>
<circle cx="601.6" cy="115.2" r="10.3" fill="#1d5ea1" stroke="#004190" stroke-width="1.1"/>
<circle cx="627.2" cy="115.2" r="5.4" fill="#fbceb6" stroke="#fac5a9" stroke-width="1.1"/>
<circle cx="652.8" cy="115.2" r="5.97" fill="#b2d5e7" stroke="#a4cde3" stroke-width="1.1"/>
<circle cx="678.4" cy="115.2" r="9.96" fill="#b61f2e" stroke="#a90008" stroke-width="1.1"/>
<circle cx="704" cy="115.2" r="8.58" fill="#4896c5" stroke="#2783bb" stroke-width="1.1"/>
<circle cx="729.6" cy="115.2" r="5.97" fill="#f8c0a4" stroke="#f7b594" stroke-width="1.1"/>
<circle cx="755.2" cy="115.2" r="7.87" fill="#6aacd0" stroke="#4f9dc8" stroke-width="1.1"/>
<circle cx="780.8" cy="115.2" r="8.91" fill="#3e8cbf" stroke="#1b77b3" stroke-width="1.1"/>
<circle cx="806.4" cy="115.2" r="10.99" fill="#0d4078" stroke="#001e60" stroke-width="1.1"/>
<circle cx="832" cy="115.2" r="1.55" fill="#fffaf7" stroke="#fff9f6" stroke-width="1.03"/>
<circle cx="857.6" cy="115.2" r="10.65" fill="#154f8c" stroke="#002f77" stroke-width="1.1"/>
<circle cx="883.2" cy="115.2" r="10.86" fill="#104680" stroke="#002569" stroke-width="1.1"/>
<circle cx="908.8" cy="115.2" r="4.5" fill="#fddfcd" stroke="#fdd9c4" stroke-width="1.1"/>
<circle cx="12.8" cy="140.8" r="10.65" fill="#154f8c" stroke="#002f77" stroke-width="1.1"/>
<circle cx="38.4" cy="140.8" r="5.75" fill="#b8d8e9" stroke="#abd1e5" stroke-width="1.1"/>
<circle cx="64" cy="140.8" r="8.75" fill="#4191c2" stroke="#1f7db7" stroke-width="1.1"/>
<circle cx="89.6" cy="140.8" r="7.7" fill="#72b1d3" stroke="#59a3cb" stroke-width="1.1"/>
<circle cx="115.2" cy="140.8" r="8.32" fill="#559ec9" stroke="#368dbf" stroke-width="1.1"/>
<circle cx="140.8" cy="140.8" r="11.35" fill="#053061" stroke="#000b45" stroke-width="1.1"/>
<circle cx="166.4" cy="140.8" r="7.44" fill="#7eb8d7" stroke="#67abd0" stroke-width="1.1"/>
<circle cx="192" cy="140.8" r="7.7" fill="#72b1d3" stroke="#59a3cb" stroke-width="1.1"/>
<circle cx="217.6" cy="140.8" r="10.44" fill="#1a5898" stroke="#003a85" stroke-width="1.1"/>
<circle cx="243.2" cy="140.8" r="10.44" fill="#1a5898" stroke="#003a85" stroke-width="1.1"/>
<circle cx="268.8" cy="140.8" r="1.55" fill="#fffaf7" stroke="#fff9f6" stroke-width="1.03"/>
<circle cx="294.4" cy="140.8" r="10.99" fill="#0d4078" stroke="#001e60" stroke-width="1.1"/>
<circle cx="320" cy="140.8" r="10.65" fill="#154f8c" stroke="#002f77" stroke-width="1.1"/>
<circle cx="345.6" cy="140.8" r="11.13" fill="#0a3a6f" stroke="#001755" stroke-width="1.1"/>
<circle cx="371.2" cy="140.8" r="2.11" fill="#fef6f1" stroke="#fef4ee" stroke-width="1.1"/>
<circle cx="396.8" cy="140.8" r="10.99" fill="#0d4078" stroke="#001e60" stroke-width="1.1"/>
<circle cx="422.4" cy="140.8" r="6.98" fill="#92c5de" stroke="#7ebbd8" stroke-width="1.1"/>
<circle cx="448" cy="140.8" r="11.35" fill="#053061" stroke="#000b45" stroke-width="1.1"/>
<circle cx="473.6" cy="140.8" r="6.49" fill="#f6b293" stroke="#f4a480" stroke-width="1.1"/>
<circle cx="499.2" cy="140.8" r="9.93" fill="#256caf" stroke="#0052a1" stroke-width="1.1"/>
<circle cx="524.8" cy="140.8" r="10.86" fill="#104680" stroke="#002569" stroke-width="1.1"/>
<circle cx="550.4" cy="140.8" r="9.55" fill="#2f78b5" stroke="#0a60a8" stroke-width="1.1"/>
<circle cx="576" cy="140.8" r="10.99" fill="#0d4078" stroke="#001e60" stroke-width="1.1"/>
<circle cx="601.6" cy="140.8" r="10.99" fill="#0d4078" stroke="#001e60" stroke-width="1.1"/>
<circle cx="627.2" cy="140.8" r="9.05" fill="#cd4e44" stroke="#c42e22" stroke-width="1.1"/>
<circle cx="652.8" cy="140.8" r="10.99" fill="#0d4078" stroke="#001e60" stroke-width="1.1"/>
<circle cx="678.4" cy="140.8" r="1.26" fill="#fffbf9" stroke="#fffaf8" stroke-width="0.84"/>
<circle cx="704" cy="140.8" r="9.7" fill="#2b73b3" stroke="#055aa5" stroke-width="1.1"/>
<circle cx="729.6" cy="140.8" r="8.58" fill="#4896c5" stroke="#2783bb" stroke-width="1.1"/>
<circle cx="755.2" cy="140.8" r="6.98" fill="#92c5de" stroke="#7ebbd8" stroke-width="1.1"/>
<circle cx="780.8" cy="140.8" r="7.87" fill="#6aacd0" stroke="#4f9dc8" stroke-width="1.1"/>
<circle cx="806.4" cy="140.8" r="9.7" fill="#2b73b3" stroke="#055aa5" stroke-width="1.1"/>
<circle cx="832" cy="140.8" r="3.21" fill="#e8f2f8" stroke="#e4f0f7" stroke-width="1.1"/>
<circle cx="857.6" cy="140.8" r="8.58" fill="#4896c5" stroke="#2783bb" stroke-width="1.1"/>
<circle cx="883.2" cy="140.8" r="9.7" fill="#2b73b3" stroke="#055aa5" stroke-width="1.1"/>
<circle cx="908.8" cy="140.8" r="5.4" fill="#c1ddec" stroke="#b6d7e9" stroke-width="1.1"/>
<circle cx="12.8" cy="166.4" r="9.93" fill="#256caf" stroke="#0052a1" stroke-width="1.1"/>
<circle cx="38.4" cy="166.4" r="9.7" fill="#2b73b3" stroke="#055aa5" stroke-width="1.1"/>
<circle cx="64" cy="166.4" r="8.91" fill="#3e8cbf" stroke="#1b77b3" stroke-width="1.1"/>
<circle cx="89.6" cy="166.4" r="9.78" fill="#2971b1" stroke="#0257a3" stroke-width="1.1"/>
<circle cx="115.2" cy="166.4" r="10.3" fill="#1d5ea1" stroke="#004190" stroke-width="1.1"/>
<circle cx="140.8" cy="166.4" r="7.44" fill="#7eb8d7" stroke="#67abd0" stroke-width="1.1"/>
<circle cx="166.4" cy="166.4" r="11.35" fill="#053061" stroke="#000b45" stroke-width="1.1"/>
<circle cx="192" cy="166.4" r="3.21" fill="#e8f2f8" stroke="#e4f0f7" stroke-width="1.1"/>
<circle cx="217.6" cy="166.4" r="9.16" fill="#3884bc" stroke="#146eb0" stroke-width="1.1"/>
<circle cx="243.2" cy="166.4" r="3.21" fill="#feede3" stroke="#feeade" stroke-width="1.1"/>
<circle cx="268.8" cy="166.4" r="1.26" fill="#fafcfe" stroke="#f9fbfe" stroke-width="0.84"/>
<circle cx="294.4" cy="166.4" r="6.49" fill="#a2cde2" stroke="#91c4dd" stroke-width="1.1"/>
<circle cx="320" cy="166.4" r="9.7" fill="#2b73b3" stroke="#055aa5" stroke-width="1.1"/>
<circle cx="345.6" cy="166.4" r="6.98" fill="#92c5de" stroke="#7ebbd8" stroke-width="1.1"/>
<circle cx="371.2" cy="166.4" r="8.28" fill="#de715a" stroke="#d8573c" stroke-width="1.1"/>
<circle cx="396.8" cy="166.4" r="8.75" fill="#4191c2" stroke="#1f7db7" stroke-width="1.1"/>
<circle cx="422.4" cy="166.4" r="8.32" fill="#559ec9" stroke="#368dbf" stroke-width="1.1"/>
<circle cx="448" cy="166.4" r="8.32" fill="#559ec9" stroke="#368dbf" stroke-width="1.1"/>
<circle cx="473.6" cy="166.4" r="5.97" fill="#b2d5e7" stroke="#a4cde3" stroke-width="1.1"/>
<circle cx="499.2" cy="166.4" r="10.44" fill="#1a5898" stroke="#003a85" stroke-width="1.1"/>
<circle cx="524.8" cy="166.4" r="5.03" fill="#cbe2ee" stroke="#c2ddeb" stroke-width="1.1"/>
<circle cx="550.4" cy="166.4" r="6.18" fill="#f8bb9e" stroke="#f7af8d" stroke-width="1.1"/>
<circle cx="576" cy="166.4" r="6.49" fill="#a2cde2" stroke="#91c4dd" stroke-width="1.1"/>
<circle cx="601.6" cy="166.4" r="8.75" fill="#4191c2" stroke="#1f7db7" stroke-width="1.1"/>
<circle cx="627.2" cy="166.4" r="7.87" fill="#e58268" stroke="#e06c4d" stroke-width="1.1"/>
<circle cx="652.8" cy="166.4" r="4.77" fill="#d1e5f0" stroke="#c9e0ed" stroke-width="1.1"/>
<circle cx="678.4" cy="166.4" r="9.76" fill="#bb2a34" stroke="#af040f" stroke-width="1.1"/>
<circle cx="704" cy="166.4" r="4.06" fill="#dcecf4" stroke="#d6e9f2" stroke-width="1.1"/>
<circle cx="729.6" cy="166.4" r="6.79" fill="#f5aa89" stroke="#f39b74" stroke-width="1.1"/>
<circle cx="755.2" cy="166.4" r="10.3" fill="#1d5ea1" stroke="#004190" stroke-width="1.1"/>
<circle cx="780.8" cy="166.4" r="10.99" fill="#0d4078" stroke="#001e60" stroke-width="1.1"/>
<circle cx="806.4" cy="166.4" r="8.75" fill="#4191c2" stroke="#1f7db7" stroke-width="1.1"/>
<circle cx="832" cy="166.4" r="7.87" fill="#6aacd0" stroke="#4f9dc8" stroke-width="1.1"/>
<circle cx="857.6" cy="166.4" r="11.32" fill="#063163" stroke="#000c47" stroke-width="1.1"/>
<circle cx="883.2" cy="166.4" r="8.75" fill="#4191c2" stroke="#1f7db7" stroke-width="1.1"/>
<circle cx="908.8" cy="166.4" r="6.98" fill="#92c5de" stroke="#7ebbd8" stroke-width="1.1"/>
<circle cx="12.8" cy="192" r="5.4" fill="#c1ddec" stroke="#b6d7e9" stroke-width="1.1"/>
<circle cx="38.4" cy="192" r="8.67" fill="#d6604d" stroke="#cf432d" stroke-width="1.1"/>
<circle cx="64" cy="192" r="5.97" fill="#f8c0a4" stroke="#f7b594" stroke-width="1.1"/>
<circle cx="89.6" cy="192" r="7.26" fill="#f09b7a" stroke="#ed8962" stroke-width="1.1"/>
<circle cx="115.2" cy="192" r="8.58" fill="#4896c5" stroke="#2783bb" stroke-width="1.1"/>
<circle cx="140.8" cy="192" r="7.7" fill="#72b1d3" stroke="#59a3cb" stroke-width="1.1"/>
<circle cx="166.4" cy="192" r="3.21" fill="#e8f2f8" stroke="#e4f0f7" stroke-width="1.1"/>
<circle cx="192" cy="192" r="11.35" fill="#053061" stroke="#000b45" stroke-width="1.1"/>
<circle cx="217.6" cy="192" r="2.82" fill="#edf5f9" stroke="#eaf3f8" stroke-width="1.1"/>
<circle cx="243.2" cy="192" r="8.75" fill="#4191c2" stroke="#1f7db7" stroke-width="1.1"/>
<circle cx="268.8" cy="192" r="10.44" fill="#1a5898" stroke="#003a85" stroke-width="1.1"/>
<circle cx="294.4" cy="192" r="5.4" fill="#c1ddec" stroke="#b6d7e9" stroke-width="1.1"/>
<circle cx="320" cy="192" r="7.16" fill="#8ac0db" stroke="#75b5d5" stroke-width="1.1"/>
<circle cx="345.6" cy="192" r="9.16" fill="#3884bc" stroke="#146eb0" stroke-width="1.1"/>
<circle cx="371.2" cy="192" r="9.93" fill="#256caf" stroke="#0052a1" stroke-width="1.1"/>
<circle cx="396.8" cy="192" r="8.58" fill="#4896c5" stroke="#2783bb" stroke-width="1.1"/>
<circle cx="422.4" cy="192" r="10.3" fill="#1d5ea1" stroke="#004190" stroke-width="1.1"/>
<circle cx="448" cy="192" r="8.32" fill="#559ec9" stroke="#368dbf" stroke-width="1.1"/>
<circle cx="473.6" cy="192" r="7.44" fill="#7eb8d7" stroke="#67abd0" stroke-width="1.1"/>
<circle cx="499.2" cy="192" r="5.75" fill="#b8d8e9" stroke="#abd1e5" stroke-width="1.1"/>
<circle cx="524.8" cy="192" r="9.4" fill="#327db8" stroke="#0d66ab" stroke-width="1.1"/>
<circle cx="550.4" cy="192" r="7.44" fill="#7eb8d7" stroke="#67abd0" stroke-width="1.1"/>
<circle cx="576" cy="192" r="4.77" fill="#d1e5f0" stroke="#c9e0ed" stroke-width="1.1"/>
<circle cx="601.6" cy="192" r="8.91" fill="#3e8cbf" stroke="#1b77b3" stroke-width="1.1"/>
<circle cx="627.2" cy="192" r="6.49" fill="#a2cde2" stroke="#91c4dd" stroke-width="1.1"/>
<circle cx="652.8" cy="192" r="7.44" fill="#7eb8d7" stroke="#67abd0" stroke-width="1.1"/>
<circle cx="678.4" cy="192" r="6.49" fill="#f6b293" stroke="#f4a480" stroke-width="1.1"/>
<circle cx="704" cy="192" r="10.99" fill="#0d4078" stroke="#001e60" stroke-width="1.1"/>
<circle cx="729.6" cy="192" r="4.06" fill="#dcecf4" stroke="#d6e9f2" stroke-width="1.1"/>
<circle cx="755.2" cy="192" r="7.16" fill="#f19e7d" stroke="#ee8d66" stroke-width="1.1"/>
<circle cx="780.8" cy="192" r="5.03" fill="#fcd6c0" stroke="#fbcfb5" stroke-width="1.1"/>
<circle cx="806.4" cy="192" r="9.55" fill="#2f78b5" stroke="#0a60a8" stroke-width="1.1"/>
<circle cx="832" cy="192" r="9.96" fill="#b61f2e" stroke="#a90008" stroke-width="1.1"/>
<circle cx="857.6" cy="192" r="5.4" fill="#c1ddec" stroke="#b6d7e9" stroke-width="1.1"/>
<circle cx="883.2" cy="192" r="9.55" fill="#2f78b5" stroke="#0a60a8" stroke-width="1.1"/>
<circle cx="908.8" cy="192" r="9.76" fill="#bb2a34" stroke="#af040f" stroke-width="1.1"/>
<circle cx="12.8" cy="217.6" r="11.19" fill="#09376b" stroke="#001350" stroke-width="1.1"/>
<circle cx="38.4" cy="217.6" r="9.16" fill="#3884bc" stroke="#146eb0" stroke-width="1.1"/>
<circle cx="64" cy="217.6" r="10.99" fill="#0d4078" stroke="#001e60" stroke-width="1.1"/>
<circle cx="89.6" cy="217.6" r="10.15" fill="#2064a9" stroke="#00489a" stroke-width="1.1"/>
<circle cx="115.2" cy="217.6" r="8.14" fill="#5da4cc" stroke="#4094c3" stroke-width="1.1"/>
<circle cx="140.8" cy="217.6" r="10.44" fill="#1a5898" stroke="#003a85" stroke-width="1.1"/>
<circle cx="166.4" cy="217.6" r="9.16" fill="#3884bc" stroke="#146eb0" stroke-width="1.1"/>
<circle cx="192" cy="217.6" r="2.82" fill="#edf5f9" stroke="#eaf3f8" stroke-width="1.1"/>
<circle cx="217.6" cy="217.6" r="11.35" fill="#053061" stroke="#000b45" stroke-width="1.1"/>
<circle cx="243.2" cy="217.6" r="7.87" fill="#6aacd0" stroke="#4f9dc8" stroke-width="1.1"/>
<circle cx="268.8" cy="217.6" r="6.98" fill="#f4a582" stroke="#f2956c" stroke-width="1.1"/>
<circle cx="294.4" cy="217.6" r="10.3" fill="#1d5ea1" stroke="#004190" stroke-width="1.1"/>
<circle cx="320" cy="217.6" r="10.86" fill="#104680" stroke="#002569" stroke-width="1.1"/>
<circle cx="345.6" cy="217.6" r="8.91" fill="#3e8cbf" stroke="#1b77b3" stroke-width="1.1"/>
<circle cx="371.2" cy="217.6" r="8.28" fill="#de715a" stroke="#d8573c" stroke-width="1.1"/>
<circle cx="396.8" cy="217.6" r="10.44" fill="#1a5898" stroke="#003a85" stroke-width="1.1"/>
<circle cx="422.4" cy="217.6" r="5.75" fill="#b8d8e9" stroke="#abd1e5" stroke-width="1.1"/>
<circle cx="448" cy="217.6" r="10.44" fill="#1a5898" stroke="#003a85" stroke-width="1.1"/>
<circle cx="473.6" cy="217.6" r="7.7" fill="#e8896d" stroke="#e47453" stroke-width="1.1"/>
<circle cx="499.2" cy="217.6" r="11.13" fill="#0a3a6f" stroke="#001755" stroke-width="1.1"/>
<circle cx="524.8" cy="217.6" r="8.58" fill="#4896c5" stroke="#2783bb" stroke-width="1.1"/>
<circle cx="550.4" cy="217.6" r="7.44" fill="#7eb8d7" stroke="#67abd0" stroke-width="1.1"/>
<circle cx="576" cy="217.6" r="10.86" fill="#104680" stroke="#002569" stroke-width="1.1"/>
<circle cx="601.6" cy="217.6" r="9.93" fill="#256caf" stroke="#0052a1" stroke-width="1.1"/>
<circle cx="627.2" cy="217.6" r="11.05" fill="#7a0622" stroke="#620000" stroke-width="1.1"/>
<circle cx="652.8" cy="217.6" r="9.93" fill="#256caf" stroke="#0052a1" stroke-width="1.1"/>
<circle cx="678.4" cy="217.6" r="4.06" fill="#fee4d5" stroke="#fedfcd" stroke-width="1.1"/>
<circle cx="704" cy="217.6" r="6.79" fill="#98c8e0" stroke="#85beda" stroke-width="1.1"/>
<circle cx="729.6" cy="217.6" r="7.44" fill="#7eb8d7" stroke="#67abd0" stroke-width="1.1"/>
<circle cx="755.2" cy="217.6" r="9.7" fill="#2b73b3" stroke="#055aa5" stroke-width="1.1"/>
<circle cx="780.8" cy="217.6" r="9.93" fill="#256caf" stroke="#0052a1" stroke-width="1.1"/>
<circle cx="806.4" cy="217.6" r="8.91" fill="#3e8cbf" stroke="#1b77b3" stroke-width="1.1"/>
<circle cx="832" cy="217.6" r="8.32" fill="#559ec9" stroke="#368dbf" stroke-width="1.1"/>
<circle cx="857.6" cy="217.6" r="10.44" fill="#1a5898" stroke="#003a85" stroke-width="1.1"/>
<circle cx="883.2" cy="217.6" r="8.75" fill="#4191c2" stroke="#1f7db7" stroke-width="1.1"/>
<circle cx="908.8" cy="217.6" r="8.75" fill="#4191c2" stroke="#1f7db7" stroke-width="1.1"/>
<circle cx="12.8" cy="243.2" r="7.87" fill="#6aacd0" stroke="#4f9dc8" stroke-width="1.1"/>
<circle cx="38.4" cy="243.2" r="5.4" fill="#fbceb6" stroke="#fac5a9" stroke-width="1.1"/>
<circle cx="64" cy="243.2" r="5.75" fill="#b8d8e9" stroke="#abd1e5" stroke-width="1.1"/>
<circle cx="89.6" cy="243.2" r="1.26" fill="#fffbf9" stroke="#fffaf8" stroke-width="0.84"/>
<circle cx="115.2" cy="243.2" r="5.97" fill="#b2d5e7" stroke="#a4cde3" stroke-width="1.1"/>
<circle cx="140.8" cy="243.2" r="10.44" fill="#1a5898" stroke="#003a85" stroke-width="1.1"/>
<circle cx="166.4" cy="243.2" r="3.21" fill="#feede3" stroke="#feeade" stroke-width="1.1"/>
<circle cx="192" cy="243.2" r="8.75" fill="#4191c2" stroke="#1f7db7" stroke-width="1.1"/>
<circle cx="217.6" cy="243.2" r="7.87" fill="#6aacd0" stroke="#4f9dc8" stroke-width="1.1"/>
<circle cx="243.2" cy="243.2" r="11.35" fill="#053061" stroke="#000b45" stroke-width="1.1"/>
<circle cx="268.8" cy="243.2" r="4.77" fill="#d1e5f0" stroke="#c9e0ed" stroke-width="1.1"/>
<circle cx="294.4" cy="243.2" r="10.15" fill="#2064a9" stroke="#00489a" stroke-width="1.1"/>
<circle cx="320" cy="243.2" r="8.32" fill="#559ec9" stroke="#368dbf" stroke-width="1.1"/>
<circle cx="345.6" cy="243.2" r="10.65" fill="#154f8c" stroke="#002f77" stroke-width="1.1"/>
<circle cx="371.2" cy="243.2" r="7.16" fill="#8ac0db" stroke="#75b5d5" stroke-width="1.1"/>
<circle cx="396.8" cy="243.2" r="9.16" fill="#3884bc" stroke="#146eb0" stroke-width="1.1"/>
<circle cx="422.4" cy="243.2" r="5.97" fill="#b2d5e7" stroke="#a4cde3" stroke-width="1.1"/>
<circle cx="448" cy="243.2" r="9.7" fill="#2b73b3" stroke="#055aa5" stroke-width="1.1"/>
<circle cx="473.6" cy="243.2" r="7.87" fill="#e58268" stroke="#e06c4d" stroke-width="1.1"/>
<circle cx="499.2" cy="243.2" r="7.44" fill="#7eb8d7" stroke="#67abd0" stroke-width="1.1"/>
<circle cx="524.8" cy="243.2" r="11.13" fill="#0a3a6f" stroke="#001755" stroke-width="1.1"/>
<circle cx="550.4" cy="243.2" r="11.13" fill="#0a3a6f" stroke="#001755" stroke-width="1.1"/>
<circle cx="576" cy="243.2" r="9.7" fill="#2b73b3" stroke="#055aa5" stroke-width="1.1"/>
<circle cx="601.6" cy="243.2" r="9.4" fill="#327db8" stroke="#0d66ab" stroke-width="1.1"/>
<circle cx="627.2" cy="243.2" r="7.44" fill="#ec9475" stroke="#e9815c" stroke-width="1.1"/>
<circle cx="652.8" cy="243.2" r="10.65" fill="#154f8c" stroke="#002f77" stroke-width="1.1"/>
<circle cx="678.4" cy="243.2" r="7.16" fill="#8ac0db" stroke="#75b5d5" stroke-width="1.1"/>
<circle cx="704" cy="243.2" r="10.44" fill="#1a5898" stroke="#003a85" stroke-width="1.1"/>
<circle cx="729.6" cy="243.2" r="10.15" fill="#2064a9" stroke="#00489a" stroke-width="1.1"/>
<circle cx="755.2" cy="243.2" r="4.77" fill="#fddbc7" stroke="#fdd5bd" stroke-width="1.1"/>
<circle cx="780.8" cy="243.2" r="1.26" fill="#fafcfe" stroke="#f9fbfe" stroke-width="0.84"/>
<circle cx="806.4" cy="243.2" r="8.58" fill="#4896c5" stroke="#2783bb" stroke-width="1.1"/>
<circle cx="832" cy="243.2" r="6.49" fill="#f6b293" stroke="#f4a480" stroke-width="1.1"/>
<circle cx="857.6" cy="243.2" r="5.4" fill="#c1ddec" stroke="#b6d7e9" stroke-width="1.1"/>
<circle cx="883.2" cy="243.2" r="8.58" fill="#4896c5" stroke="#2783bb" stroke-width="1.1"/>
<circle cx="908.8" cy="243.2" r="4.5" fill="#fddfcd" stroke="#fdd9c4" stroke-width="1.1"/>
<circle cx="12.8" cy="268.8" r="3.57" fill="#fee9dd" stroke="#fee5d7" stroke-width="1.1"/>
<circle cx="38.4" cy="268.8" r="9.05" fill="#cd4e44" stroke="#c42e22" stroke-width="1.1"/>
<circle cx="64" cy="268.8" r="9.27" fill="#c8433f" stroke="#be211c" stroke-width="1.1"/>
<circle cx="89.6" cy="268.8" r="8.82" fill="#d2594a" stroke="#ca3b29" stroke-width="1.1"/>
<circle cx="115.2" cy="268.8" r="7.87" fill="#6aacd0" stroke="#4f9dc8" stroke-width="1.1"/>
<circle cx="140.8" cy="268.8" r="1.55" fill="#fffaf7" stroke="#fff9f6" stroke-width="1.03"/>
<circle cx="166.4" cy="268.8" r="1.26" fill="#fafcfe" stroke="#f9fbfe" stroke-width="0.84"/>
<circle cx="192" cy="268.8" r="10.44" fill="#1a5898" stroke="#003a85" stroke-width="1.1"/>
<circle cx="217.6" cy="268.8" r="6.98" fill="#f4a582" stroke="#f2956c" stroke-width="1.1"/>
<circle cx="243.2" cy="268.8" r="4.77" fill="#d1e5f0" stroke="#c9e0ed" stroke-width="1.1"/>
<circle cx="268.8" cy="268.8" r="11.35" fill="#053061" stroke="#000b45" stroke-width="1.1"/>
<circle cx="294.4" cy="268.8" r="7.16" fill="#f19e7d" stroke="#ee8d66" stroke-width="1.1"/>
<circle cx="320" cy="268.8" r="1.26" fill="#fafcfe" stroke="#f9fbfe" stroke-width="0.84"/>
<circle cx="345.6" cy="268.8" r="6.79" fill="#98c8e0" stroke="#85beda" stroke-width="1.1"/>
<circle cx="371.2" cy="268.8" r="9.93" fill="#256caf" stroke="#0052a1" stroke-width="1.1"/>
<circle cx="396.8" cy="268.8" r="5.4" fill="#c1ddec" stroke="#b6d7e9" stroke-width="1.1"/>
<circle cx="422.4" cy="268.8" r="10.15" fill="#2064a9" stroke="#00489a" stroke-width="1.1"/>
<circle cx="448" cy="268.8" r="4.06" fill="#dcecf4" stroke="#d6e9f2" stroke-width="1.1"/>
<circle cx="473.6" cy="268.8" r="10.15" fill="#2064a9" stroke="#00489a" stroke-width="1.1"/>
<circle cx="499.2" cy="268.8" r="3.57" fill="#fee9dd" stroke="#fee5d7" stroke-width="1.1"/>
<circle cx="524.8" cy="268.8" r="5.97" fill="#b2d5e7" stroke="#a4cde3" stroke-width="1.1"/>
<circle cx="550.4" cy="268.8" r="3.57" fill="#fee9dd" stroke="#fee5d7" stroke-width="1.1"/>
<circle cx="576" cy="268.8" r="7.44" fill="#ec9475" stroke="#e9815c" stroke-width="1.1"/>
<circle cx="601.6" cy="268.8" r="6.18" fill="#abd2e5" stroke="#9ccae0" stroke-width="1.1"/>
<circle cx="627.2" cy="268.8" r="8.91" fill="#3e8cbf" stroke="#1b77b3" stroke-width="1.1"/>
<circle cx="652.8" cy="268.8" r="5.4" fill="#fbceb6" stroke="#fac5a9" stroke-width="1.1"/>
<circle cx="678.4" cy="268.8" r="8.67" fill="#d6604d" stroke="#cf432d" stroke-width="1.1"/>
<circle cx="704" cy="268.8" r="8.32" fill="#559ec9" stroke="#368dbf" stroke-width="1.1"/>
<circle cx="729.6" cy="268.8" r="6.98" fill="#f4a582" stroke="#f2956c" stroke-width="1.1"/>
<circle cx="755.2" cy="268.8" r="7.87" fill="#e58268" stroke="#e06c4d" stroke-width="1.1"/>
<circle cx="780.8" cy="268.8" r="6.49" fill="#f6b293" stroke="#f4a480" stroke-width="1.1"/>
<circle cx="806.4" cy="268.8" r="7.87" fill="#6aacd0" stroke="#4f9dc8" stroke-width="1.1"/>
<circle cx="832" cy="268.8" r="10.42" fill="#9f1228" stroke="#8e0001" stroke-width="1.1"/>
<circle cx="857.6" cy="268.8" r="1.26" fill="#fafcfe" stroke="#f9fbfe" stroke-width="0.84"/>
<circle cx="883.2" cy="268.8" r="7.7" fill="#72b1d3" stroke="#59a3cb" stroke-width="1.1"/>
<circle cx="908.8" cy="268.8" r="10.87" fill="#850a24" stroke="#6f0000" stroke-width="1.1"/>
<circle cx="12.8" cy="294.4" r="9.93" fill="#256caf" stroke="#0052a1" stroke-width="1.1"/>
<circle cx="38.4" cy="294.4" r="6.49" fill="#a2cde2" stroke="#91c4dd" stroke-width="1.1"/>
<circle cx="64" cy="294.4" r="9.55" fill="#2f78b5" stroke="#0a60a8" stroke-width="1.1"/>
<circle cx="89.6" cy="294.4" r="7.87" fill="#6aacd0" stroke="#4f9dc8" stroke-width="1.1"/>
<circle cx="115.2" cy="294.4" r="6.29" fill="#a8d0e4" stroke="#98c8df" stroke-width="1.1"/>
<circle cx="140.8" cy="294.4" r="10.99" fill="#0d4078" stroke="#001e60" stroke-width="1.1"/>
<circle cx="166.4" cy="294.4" r="6.49" fill="#a2cde2" stroke="#91c4dd" stroke-width="1.1"/>
<circle cx="192" cy="294.4" r="5.4" fill="#c1ddec" stroke="#b6d7e9" stroke-width="1.1"/>
<circle cx="217.6" cy="294.4" r="10.3" fill="#1d5ea1" stroke="#004190" stroke-width="1.1"/>
<circle cx="243.2" cy="294.4" r="10.15" fill="#2064a9" stroke="#00489a" stroke-width="1.1"/>
<circle cx="268.8" cy="294.4" r="7.16" fill="#f19e7d" stroke="#ee8d66" stroke-width="1.1"/>
<circle cx="294.4" cy="294.4" r="11.35" fill="#053061" stroke="#000b45" stroke-width="1.1"/>
<circle cx="320" cy="294.4" r="9.93" fill="#256caf" stroke="#0052a1" stroke-width="1.1"/>
<circle cx="345.6" cy="294.4" r="9.93" fill="#256caf" stroke="#0052a1" stroke-width="1.1"/>
<circle cx="371.2" cy="294.4" r="5.75" fill="#f9c5ab" stroke="#f8bb9c" stroke-width="1.1"/>
<circle cx="396.8" cy="294.4" r="9.7" fill="#2b73b3" stroke="#055aa5" stroke-width="1.1"/>
<circle cx="422.4" cy="294.4" r="2.82" fill="#edf5f9" stroke="#eaf3f8" stroke-width="1.1"/>
<circle cx="448" cy="294.4" r="10.44" fill="#1a5898" stroke="#003a85" stroke-width="1.1"/>
<circle cx="473.6" cy="294.4" r="9.27" fill="#c8433f" stroke="#be211c" stroke-width="1.1"/>
<circle cx="499.2" cy="294.4" r="9.55" fill="#2f78b5" stroke="#0a60a8" stroke-width="1.1"/>
<circle cx="524.8" cy="294.4" r="10.3" fill="#1d5ea1" stroke="#004190" stroke-width="1.1"/>
<circle cx="550.4" cy="294.4" r="9.93" fill="#256caf" stroke="#0052a1" stroke-width="1.1"/>
<circle cx="576" cy="294.4" r="11.32" fill="#063163" stroke="#000c47" stroke-width="1.1"/>
<circle cx="601.6" cy="294.4" r="9.7" fill="#2b73b3" stroke="#055aa5" stroke-width="1.1"/>
<circle cx="627.2" cy="294.4" r="10.62" fill="#940e26" stroke="#810000" stroke-width="1.1"/>
<circle cx="652.8" cy="294.4" r="11.32" fill="#063163" stroke="#000c47" stroke-width="1.1"/>
<circle cx="678.4" cy="294.4" r="6.49" fill="#a2cde2" stroke="#91c4dd" stroke-width="1.1"/>
<circle cx="704" cy="294.4" r="8.32" fill="#559ec9" stroke="#368dbf" stroke-width="1.1"/>
<circle cx="729.6" cy="294.4" r="9.7" fill="#2b73b3" stroke="#055aa5" stroke-width="1.1"/>
<circle cx="755.2" cy="294.4" r="7.16" fill="#8ac0db" stroke="#75b5d5" stroke-width="1.1"/>
<circle cx="780.8" cy="294.4" r="7.7" fill="#72b1d3" stroke="#59a3cb" stroke-width="1.1"/>
<circle cx="806.4" cy="294.4" r="8.32" fill="#559ec9" stroke="#368dbf" stroke-width="1.1"/>
<circle cx="832" cy="294.4" r="6.49" fill="#a2cde2" stroke="#91c4dd" stroke-width="1.1"/>
<circle cx="857.6" cy="294.4" r="8.05" fill="#62a6ce" stroke="#4696c5" stroke-width="1.1"/>
<circle cx="883.2" cy="294.4" r="8.32" fill="#559ec9" stroke="#368dbf" stroke-width="1.1"/>
<circle cx="908.8" cy="294.4" r="7.44" fill="#7eb8d7" stroke="#67abd0" stroke-width="1.1"/>
<circle cx="12.8" cy="320" r="11.13" fill="#0a3a6f" stroke="#001755" stroke-width="1.1"/>
<circle cx="38.4" cy="320" r="8.32" fill="#559ec9" stroke="#368dbf" stroke-width="1.1"/>
<circle cx="64" cy="320" r="9.7" fill="#2b73b3" stroke="#055aa5" stroke-width="1.1"/>
<circle cx="89.6" cy="320" r="9.16" fill="#3884bc" stroke="#146eb0" stroke-width="1.1"/>
<circle cx="115.2" cy="320" r="9.93" fill="#256caf" stroke="#0052a1" stroke-width="1.1"/>
<circle cx="140.8" cy="320" r="10.65" fill="#154f8c" stroke="#002f77" stroke-width="1.1"/>
<circle cx="166.4" cy="320" r="9.7" fill="#2b73b3" stroke="#055aa5" stroke-width="1.1"/>
<circle cx="192" cy="320" r="7.16" fill="#8ac0db" stroke="#75b5d5" stroke-width="1.1"/>
<circle cx="217.6" cy="320" r="10.86" fill="#104680" stroke="#002569" stroke-width="1.1"/>
<circle cx="243.2" cy="320" r="8.32" fill="#559ec9" stroke="#368dbf" stroke-width="1.1"/>
<circle cx="268.8" cy="320" r="1.26" fill="#fafcfe" stroke="#f9fbfe" stroke-width="0.84"/>
<circle cx="294.4" cy="320" r="9.93" fill="#256caf" stroke="#0052a1" stroke-width="1.1"/>
<circle cx="320" cy="320" r="11.35" fill="#053061" stroke="#000b45" stroke-width="1.1"/>
<circle cx="345.6" cy="320" r="10.3" fill="#1d5ea1" stroke="#004190" stroke-width="1.1"/>
<circle cx="371.2" cy="320" r="5.97" fill="#f8c0a4" stroke="#f7b594" stroke-width="1.1"/>
<circle cx="396.8" cy="320" r="10.99" fill="#0d4078" stroke="#001e60" stroke-width="1.1"/>
<circle cx="422.4" cy="320" r="8.32" fill="#559ec9" stroke="#368dbf" stroke-width="1.1"/>
<circle cx="448" cy="320" r="10.86" fill="#104680" stroke="#002569" stroke-width="1.1"/>
<circle cx="473.6" cy="320" r="3.57" fill="#fee9dd" stroke="#fee5d7" stroke-width="1.1"/>
<circle cx="499.2" cy="320" r="11.32" fill="#063163" stroke="#000c47" stroke-width="1.1"/>
<circle cx="524.8" cy="320" r="9.16" fill="#3884bc" stroke="#146eb0" stroke-width="1.1"/>
<circle cx="550.4" cy="320" r="7.16" fill="#8ac0db" stroke="#75b5d5" stroke-width="1.1"/>
<circle cx="576" cy="320" r="9.7" fill="#2b73b3" stroke="#055aa5" stroke-width="1.1"/>
<circle cx="601.6" cy="320" r="10.65" fill="#154f8c" stroke="#002f77" stroke-width="1.1"/>
<circle cx="627.2" cy="320" r="9.41" fill="#c43c3c" stroke="#b91919" stroke-width="1.1"/>
<circle cx="652.8" cy="320" r="9.4" fill="#327db8" stroke="#0d66ab" stroke-width="1.1"/>
<circle cx="678.4" cy="320" r="6.98" fill="#f4a582" stroke="#f2956c" stroke-width="1.1"/>
<circle cx="704" cy="320" r="8.32" fill="#559ec9" stroke="#368dbf" stroke-width="1.1"/>
<circle cx="729.6" cy="320" r="5.97" fill="#b2d5e7" stroke="#a4cde3" stroke-width="1.1"/>
<circle cx="755.2" cy="320" r="8.91" fill="#3e8cbf" stroke="#1b77b3" stroke-width="1.1"/>
<circle cx="780.8" cy="320" r="9.93" fill="#256caf" stroke="#0052a1" stroke-width="1.1"/>
<circle cx="806.4" cy="320" r="10.65" fill="#154f8c" stroke="#002f77" stroke-width="1.1"/>
<circle cx="832" cy="320" r="6.49" fill="#a2cde2" stroke="#91c4dd" stroke-width="1.1"/>
<circle cx="857.6" cy="320" r="10.86" fill="#104680" stroke="#002569" stroke-width="1.1"/>
<circle cx="883.2" cy="320" r="10.44" fill="#1a5898" stroke="#003a85" stroke-width="1.1"/>
<circle cx="908.8" cy="320" r="6.49" fill="#a2cde2" stroke="#91c4dd" stroke-width="1.1"/>
<circle cx="12.8" cy="345.6" r="9.7" fill="#2b73b3" stroke="#055aa5" stroke-width="1.1"/>
<circle cx="38.4" cy="345.6" r="1.26" fill="#fafcfe" stroke="#f9fbfe" stroke-width="0.84"/>
<circle cx="64" cy="345.6" r="7.44" fill="#7eb8d7" stroke="#67abd0" stroke-width="1.1"/>
<circle cx="89.6" cy="345.6" r="5.75" fill="#b8d8e9" stroke="#abd1e5" stroke-width="1.1"/>
<circle cx="115.2" cy="345.6" r="8.91" fill="#3e8cbf" stroke="#1b77b3" stroke-width="1.1"/>
<circle cx="140.8" cy="345.6" r="11.13" fill="#0a3a6f" stroke="#001755" stroke-width="1.1"/>
<circle cx="166.4" cy="345.6" r="6.98" fill="#92c5de" stroke="#7ebbd8" stroke-width="1.1"/>
<circle cx="192" cy="345.6" r="9.16" fill="#3884bc" stroke="#146eb0" stroke-width="1.1"/>
<circle cx="217.6" cy="345.6" r="8.91" fill="#3e8cbf" stroke="#1b77b3" stroke-width="1.1"/>
<circle cx="243.2" cy="345.6" r="10.65" fill="#154f8c" stroke="#002f77" stroke-width="1.1"/>
<circle cx="268.8" cy="345.6" r="6.79" fill="#98c8e0" stroke="#85beda" stroke-width="1.1"/>
<circle cx="294.4" cy="345.6" r="9.93" fill="#256caf" stroke="#0052a1" stroke-width="1.1"/>
<circle cx="320" cy="345.6" r="10.3" fill="#1d5ea1" stroke="#004190" stroke-width="1.1"/>
<circle cx="345.6" cy="345.6" r="11.35" fill="#053061" stroke="#000b45" stroke-width="1.1"/>
<circle cx="371.2" cy="345.6" r="5.4" fill="#c1ddec" stroke="#b6d7e9" stroke-width="1.1"/>
<circle cx="396.8" cy="345.6" r="10.99" fill="#0d4078" stroke="#001e60" stroke-width="1.1"/>
<circle cx="422.4" cy="345.6" r="8.32" fill="#559ec9" stroke="#368dbf" stroke-width="1.1"/>
<circle cx="448" cy="345.6" r="10.99" fill="#0d4078" stroke="#001e60" stroke-width="1.1"/>
<circle cx="473.6" cy="345.6" r="4.06" fill="#fee4d5" stroke="#fedfcd" stroke-width="1.1"/>
<circle cx="499.2" cy="345.6" r="9.4" fill="#327db8" stroke="#0d66ab" stroke-width="1.1"/>
<circle cx="524.8" cy="345.6" r="11.32" fill="#063163" stroke="#000c47" stroke-width="1.1"/>
<circle cx="550.4" cy="345.6" r="9.16" fill="#3884bc" stroke="#146eb0" stroke-width="1.1"/>
<circle cx="576" cy="345.6" r="9.7" fill="#2b73b3" stroke="#055aa5" stroke-width="1.1"/>
<circle cx="601.6" cy="345.6" r="10.99" fill="#0d4078" stroke="#001e60" stroke-width="1.1"/>
<circle cx="627.2" cy="345.6" r="7.7" fill="#e8896d" stroke="#e47453" stroke-width="1.1"/>
<circle cx="652.8" cy="345.6" r="10.44" fill="#1a5898" stroke="#003a85" stroke-width="1.1"/>
<circle cx="678.4" cy="345.6" r="4.5" fill="#fddfcd" stroke="#fdd9c4" stroke-width="1.1"/>
<circle cx="704" cy="345.6" r="10.86" fill="#104680" stroke="#002569" stroke-width="1.1"/>
<circle cx="729.6" cy="345.6" r="7.87" fill="#6aacd0" stroke="#4f9dc8" stroke-width="1.1"/>
<circle cx="755.2" cy="345.6" r="5.4" fill="#c1ddec" stroke="#b6d7e9" stroke-width="1.1"/>
<circle cx="780.8" cy="345.6" r="7.16" fill="#8ac0db" stroke="#75b5d5" stroke-width="1.1"/>
<circle cx="806.4" cy="345.6" r="10.65" fill="#154f8c" stroke="#002f77" stroke-width="1.1"/>
<circle cx="832" cy="345.6" r="5.4" fill="#fbceb6" stroke="#fac5a9" stroke-width="1.1"/>
<circle cx="857.6" cy="345.6" r="8.75" fill="#4191c2" stroke="#1f7db7" stroke-width="1.1"/>
<circle cx="883.2" cy="345.6" r="10.65" fill="#154f8c" stroke="#002f77" stroke-width="1.1"/>
<circle cx="908.8" cy="345.6" r="3.57" fill="#fee9dd" stroke="#fee5d7" stroke-width="1.1"/>
<circle cx="12.8" cy="371.2" r="7.16" fill="#f19e7d" stroke="#ee8d66" stroke-width="1.1"/>
<circle cx="38.4" cy="371.2" r="11.05" fill="#7a0622" stroke="#620000" stroke-width="1.1"/>
<circle cx="64" cy="371.2" r="10.1" fill="#b2182b" stroke="#a40005" stroke-width="1.1"/>
<circle cx="89.6" cy="371.2" r="10.74" fill="#8c0c25" stroke="#770000" stroke-width="1.1"/>
<circle cx="140.8" cy="371.2" r="2.11" fill="#fef6f1" stroke="#fef4ee" stroke-width="1.1"/>
<circle cx="166.4" cy="371.2" r="8.28" fill="#de715a" stroke="#d8573c" stroke-width="1.1"/>
<circle cx="192" cy="371.2" r="9.93" fill="#256caf" stroke="#0052a1" stroke-width="1.1"/>
<circle cx="217.6" cy="371.2" r="8.28" fill="#de715a" stroke="#d8573c" stroke-width="1.1"/>
<circle cx="243.2" cy="371.2" r="7.16" fill="#8ac0db" stroke="#75b5d5" stroke-width="1.1"/>
<circle cx="268.8" cy="371.2" r="9.93" fill="#256caf" stroke="#0052a1" stroke-width="1.1"/>
<circle cx="294.4" cy="371.2" r="5.75" fill="#f9c5ab" stroke="#f8bb9c" stroke-width="1.1"/>
<circle cx="320" cy="371.2" r="5.97" fill="#f8c0a4" stroke="#f7b594" stroke-width="1.1"/>
<circle cx="345.6" cy="371.2" r="5.4" fill="#c1ddec" stroke="#b6d7e9" stroke-width="1.1"/>
<circle cx="371.2" cy="371.2" r="11.35" fill="#053061" stroke="#000b45" stroke-width="1.1"/>
<circle cx="396.8" cy="371.2" r="1.26" fill="#fffbf9" stroke="#fffaf8" stroke-width="0.84"/>
<circle cx="422.4" cy="371.2" r="7.44" fill="#7eb8d7" stroke="#67abd0" stroke-width="1.1"/>
<circle cx="448" cy="371.2" r="1.26" fill="#fffbf9" stroke="#fffaf8" stroke-width="0.84"/>
<circle cx="473.6" cy="371.2" r="6.98" fill="#92c5de" stroke="#7ebbd8" stroke-width="1.1"/>
<circle cx="499.2" cy="371.2" r="7.44" fill="#ec9475" stroke="#e9815c" stroke-width="1.1"/>
<circle cx="524.8" cy="371.2" r="6.49" fill="#a2cde2" stroke="#91c4dd" stroke-width="1.1"/>
<circle cx="550.4" cy="371.2" r="6.79" fill="#98c8e0" stroke="#85beda" stroke-width="1.1"/>
<circle cx="576" cy="371.2" r="6.49" fill="#f6b293" stroke="#f4a480" stroke-width="1.1"/>
<circle cx="601.6" cy="371.2" r="3.57" fill="#e3eff6" stroke="#deecf4" stroke-width="1.1"/>
<circle cx="627.2" cy="371.2" r="8.91" fill="#3e8cbf" stroke="#1b77b3" stroke-width="1.1"/>
<circle cx="652.8" cy="371.2" r="1.26" fill="#fafcfe" stroke="#f9fbfe" stroke-width="0.84"/>
<circle cx="678.4" cy="371.2" r="3.21" fill="#e8f2f8" stroke="#e4f0f7" stroke-width="1.1"/>
<circle cx="704" cy="371.2" r="8.32" fill="#559ec9" stroke="#368dbf" stroke-width="1.1"/>
<circle cx="729.6" cy="371.2" r="3.57" fill="#e3eff6" stroke="#deecf4" stroke-width="1.1"/>
<circle cx="755.2" cy="371.2" r="10.42" fill="#9f1228" stroke="#8e0001" stroke-width="1.1"/>
<circle cx="780.8" cy="371.2" r="9.96" fill="#b61f2e" stroke="#a90008" stroke-width="1.1"/>
<circle cx="806.4" cy="371.2" r="5.4" fill="#c1ddec" stroke="#b6d7e9" stroke-width="1.1"/>
<circle cx="832" cy="371.2" r="11.23" fill="#6e0220" stroke="#540000" stroke-width="1.1"/>
<circle cx="857.6" cy="371.2" r="7.44" fill="#ec9475" stroke="#e9815c" stroke-width="1.1"/>
<circle cx="883.2" cy="371.2" r="5.4" fill="#c1ddec" stroke="#b6d7e9" stroke-width="1.1"/>
<circle cx="908.8" cy="371.2" r="10.74" fill="#8c0c25" stroke="#770000" stroke-width="1.1"/>
<circle cx="12.8" cy="396.8" r="10.86" fill="#104680" stroke="#002569" stroke-width="1.1"/>
<circle cx="38.4" cy="396.8" r="6.49" fill="#a2cde2" stroke="#91c4dd" stroke-width="1.1"/>
<circle cx="64" cy="396.8" r="8.58" fill="#4896c5" stroke="#2783bb" stroke-width="1.1"/>
<circle cx="89.6" cy="396.8" r="7.87" fill="#6aacd0" stroke="#4f9dc8" stroke-width="1.1"/>
<circle cx="115.2" cy="396.8" r="10.15" fill="#2064a9" stroke="#00489a" stroke-width="1.1"/>
<circle cx="140.8" cy="396.8" r="10.99" fill="#0d4078" stroke="#001e60" stroke-width="1.1"/>
<circle cx="166.4" cy="396.8" r="8.75" fill="#4191c2" stroke="#1f7db7" stroke-width="1.1"/>
<circle cx="192" cy="396.8" r="8.58" fill="#4896c5" stroke="#2783bb" stroke-width="1.1"/>
<circle cx="217.6" cy="396.8" r="10.44" fill="#1a5898" stroke="#003a85" stroke-width="1.1"/>
<circle cx="243.2" cy="396.8" r="9.16" fill="#3884bc" stroke="#146eb0" stroke-width="1.1"/>
<circle cx="268.8" cy="396.8" r="5.4" fill="#c1ddec" stroke="#b6d7e9" stroke-width="1.1"/>
<circle cx="294.4" cy="396.8" r="9.7" fill="#2b73b3" stroke="#055aa5" stroke-width="1.1"/>
<circle cx="320" cy="396.8" r="10.99" fill="#0d4078" stroke="#001e60" stroke-width="1.1"/>
<circle cx="345.6" cy="396.8" r="10.99" fill="#0d4078" stroke="#001e60" stroke-width="1.1"/>
<circle cx="371.2" cy="396.8" r="1.26" fill="#fffbf9" stroke="#fffaf8" stroke-width="0.84"/>
<circle cx="396.8" cy="396.8" r="11.35" fill="#053061" stroke="#000b45" stroke-width="1.1"/>
<circle cx="422.4" cy="396.8" r="8.75" fill="#4191c2" stroke="#1f7db7" stroke-width="1.1"/>
<circle cx="448" cy="396.8" r="11.32" fill="#063163" stroke="#000c47" stroke-width="1.1"/>
<circle cx="473.6" cy="396.8" r="4.06" fill="#fee4d5" stroke="#fedfcd" stroke-width="1.1"/>
<circle cx="499.2" cy="396.8" r="10.65" fill="#154f8c" stroke="#002f77" stroke-width="1.1"/>
<circle cx="524.8" cy="396.8" r="10.15" fill="#2064a9" stroke="#00489a" stroke-width="1.1"/>
<circle cx="550.4" cy="396.8" r="7.87" fill="#6aacd0" stroke="#4f9dc8" stroke-width="1.1"/>
<circle cx="576" cy="396.8" r="9.7" fill="#2b73b3" stroke="#055aa5" stroke-width="1.1"/>
<circle cx="601.6" cy="396.8" r="11.32" fill="#063163" stroke="#000c47" stroke-width="1.1"/>
<circle cx="627.2" cy="396.8" r="8.67" fill="#d6604d" stroke="#cf432d" stroke-width="1.1"/>
<circle cx="652.8" cy="396.8" r="9.93" fill="#256caf" stroke="#0052a1" stroke-width="1.1"/>
<circle cx="678.4" cy="396.8" r="6.49" fill="#f6b293" stroke="#f4a480" stroke-width="1.1"/>
<circle cx="704" cy="396.8" r="9.93" fill="#256caf" stroke="#0052a1" stroke-width="1.1"/>
<circle cx="729.6" cy="396.8" r="7.16" fill="#8ac0db" stroke="#75b5d5" stroke-width="1.1"/>
<circle cx="755.2" cy="396.8" r="7.87" fill="#6aacd0" stroke="#4f9dc8" stroke-width="1.1"/>
<circle cx="780.8" cy="396.8" r="8.58" fill="#4896c5" stroke="#2783bb" stroke-width="1.1"/>
<circle cx="806.4" cy="396.8" r="11.13" fill="#0a3a6f" stroke="#001755" stroke-width="1.1"/>
<circle cx="832" cy="396.8" r="2.11" fill="#f4f8fb" stroke="#f2f7fa" stroke-width="1.1"/>
<circle cx="857.6" cy="396.8" r="9.93" fill="#256caf" stroke="#0052a1" stroke-width="1.1"/>
<circle cx="883.2" cy="396.8" r="11.13" fill="#0a3a6f" stroke="#001755" stroke-width="1.1"/>
<circle cx="908.8" cy="396.8" r="2.82" fill="#edf5f9" stroke="#eaf3f8" stroke-width="1.1"/>
<circle cx="12.8" cy="422.4" r="7.7" fill="#72b1d3" stroke="#59a3cb" stroke-width="1.1"/>
<circle cx="38.4" cy="422.4" r="3.57" fill="#fee9dd" stroke="#fee5d7" stroke-width="1.1"/>
<circle cx="64" cy="422.4" r="2.82" fill="#fef1e9" stroke="#feeee5" stroke-width="1.1"/>
<circle cx="89.6" cy="422.4" r="1.55" fill="#fffaf7" stroke="#fff9f6" stroke-width="1.03"/>
<circle cx="115.2" cy="422.4" r="10.86" fill="#104680" stroke="#002569" stroke-width="1.1"/>
<circle cx="140.8" cy="422.4" r="6.98" fill="#92c5de" stroke="#7ebbd8" stroke-width="1.1"/>
<circle cx="166.4" cy="422.4" r="8.32" fill="#559ec9" stroke="#368dbf" stroke-width="1.1"/>
<circle cx="192" cy="422.4" r="10.3" fill="#1d5ea1" stroke="#004190" stroke-width="1.1"/>
<circle cx="217.6" cy="422.4" r="5.75" fill="#b8d8e9" stroke="#abd1e5" stroke-width="1.1"/>
<circle cx="243.2" cy="422.4" r="5.97" fill="#b2d5e7" stroke="#a4cde3" stroke-width="1.1"/>
<circle cx="268.8" cy="422.4" r="10.15" fill="#2064a9" stroke="#00489a" stroke-width="1.1"/>
<circle cx="294.4" cy="422.4" r="2.82" fill="#edf5f9" stroke="#eaf3f8" stroke-width="1.1"/>
<circle cx="320" cy="422.4" r="8.32" fill="#559ec9" stroke="#368dbf" stroke-width="1.1"/>
<circle cx="345.6" cy="422.4" r="8.32" fill="#559ec9" stroke="#368dbf" stroke-width="1.1"/>
<circle cx="371.2" cy="422.4" r="7.44" fill="#7eb8d7" stroke="#67abd0" stroke-width="1.1"/>
<circle cx="396.8" cy="422.4" r="8.75" fill="#4191c2" stroke="#1f7db7" stroke-width="1.1"/>
<circle cx="422.4" cy="422.4" r="11.35" fill="#053061" stroke="#000b45" stroke-width="1.1"/>
<circle cx="448" cy="422.4" r="8.32" fill="#559ec9" stroke="#368dbf" stroke-width="1.1"/>
<circle cx="473.6" cy="422.4" r="9.4" fill="#327db8" stroke="#0d66ab" stroke-width="1.1"/>
<circle cx="499.2" cy="422.4" r="7.87" fill="#6aacd0" stroke="#4f9dc8" stroke-width="1.1"/>
<circle cx="524.8" cy="422.4" r="7.87" fill="#6aacd0" stroke="#4f9dc8" stroke-width="1.1"/>
<circle cx="550.4" cy="422.4" r="2.11" fill="#fef6f1" stroke="#fef4ee" stroke-width="1.1"/>
<circle cx="576" cy="422.4" r="1.26" fill="#fffbf9" stroke="#fffaf8" stroke-width="0.84"/>
<circle cx="601.6" cy="422.4" r="9.16" fill="#3884bc" stroke="#146eb0" stroke-width="1.1"/>
<circle cx="627.2" cy="422.4" r="5.4" fill="#c1ddec" stroke="#b6d7e9" stroke-width="1.1"/>
<circle cx="652.8" cy="422.4" r="4.06" fill="#dcecf4" stroke="#d6e9f2" stroke-width="1.1"/>
<circle cx="678.4" cy="422.4" r="9.96" fill="#b61f2e" stroke="#a90008" stroke-width="1.1"/>
<circle cx="704" cy="422.4" r="9.4" fill="#327db8" stroke="#0d66ab" stroke-width="1.1"/>
<circle cx="729.6" cy="422.4" r="6.49" fill="#f6b293" stroke="#f4a480" stroke-width="1.1"/>
<circle cx="755.2" cy="422.4" r="3.21" fill="#e8f2f8" stroke="#e4f0f7" stroke-width="1.1"/>
<circle cx="780.8" cy="422.4" r="5.97" fill="#b2d5e7" stroke="#a4cde3" stroke-width="1.1"/>
<circle cx="806.4" cy="422.4" r="10.65" fill="#154f8c" stroke="#002f77" stroke-width="1.1"/>
<circle cx="832" cy="422.4" r="7.44" fill="#ec9475" stroke="#e9815c" stroke-width="1.1"/>
<circle cx="857.6" cy="422.4" r="8.75" fill="#4191c2" stroke="#1f7db7" stroke-width="1.1"/>
<circle cx="883.2" cy="422.4" r="10.65" fill="#154f8c" stroke="#002f77" stroke-width="1.1"/>
<circle cx="908.8" cy="422.4" r="8.67" fill="#d6604d" stroke="#cf432d" stroke-width="1.1"/>
<circle cx="12.8" cy="448" r="10.65" fill="#154f8c" stroke="#002f77" stroke-width="1.1"/>
<circle cx="38.4" cy="448" r="5.97" fill="#b2d5e7" stroke="#a4cde3" stroke-width="1.1"/>
<circle cx="64" cy="448" r="8.58" fill="#4896c5" stroke="#2783bb" stroke-width="1.1"/>
<circle cx="89.6" cy="448" r="7.7" fill="#72b1d3" stroke="#59a3cb" stroke-width="1.1"/>
<circle cx="115.2" cy="448" r="9.4" fill="#327db8" stroke="#0d66ab" stroke-width="1.1"/>
<circle cx="140.8" cy="448" r="11.35" fill="#053061" stroke="#000b45" stroke-width="1.1"/>
<circle cx="166.4" cy="448" r="8.32" fill="#559ec9" stroke="#368dbf" stroke-width="1.1"/>
<circle cx="192" cy="448" r="8.32" fill="#559ec9" stroke="#368dbf" stroke-width="1.1"/>
<circle cx="217.6" cy="448" r="10.44" fill="#1a5898" stroke="#003a85" stroke-width="1.1"/>
<circle cx="243.2" cy="448" r="9.7" fill="#2b73b3" stroke="#055aa5" stroke-width="1.1"/>
<circle cx="268.8" cy="448" r="4.06" fill="#dcecf4" stroke="#d6e9f2" stroke-width="1.1"/>
<circle cx="294.4" cy="448" r="10.44" fill="#1a5898" stroke="#003a85" stroke-width="1.1"/>
<circle cx="320" cy="448" r="10.86" fill="#104680" stroke="#002569" stroke-width="1.1"/>
<circle cx="345.6" cy="448" r="10.99" fill="#0d4078" stroke="#001e60" stroke-width="1.1"/>
<circle cx="371.2" cy="448" r="1.26" fill="#fffbf9" stroke="#fffaf8" stroke-width="0.84"/>
<circle cx="396.8" cy="448" r="11.32" fill="#063163" stroke="#000c47" stroke-width="1.1"/>
<circle cx="422.4" cy="448" r="8.32" fill="#559ec9" stroke="#368dbf" stroke-width="1.1"/>
<circle cx="448" cy="448" r="11.35" fill="#053061" stroke="#000b45" stroke-width="1.1"/>
<circle cx="473.6" cy="448" r="5.03" fill="#fcd6c0" stroke="#fbcfb5" stroke-width="1.1"/>
<circle cx="499.2" cy="448" r="10.65" fill="#154f8c" stroke="#002f77" stroke-width="1.1"/>
<circle cx="524.8" cy="448" r="10.65" fill="#154f8c" stroke="#002f77" stroke-width="1.1"/>
<circle cx="550.4" cy="448" r="8.75" fill="#4191c2" stroke="#1f7db7" stroke-width="1.1"/>
<circle cx="576" cy="448" r="10.3" fill="#1d5ea1" stroke="#004190" stroke-width="1.1"/>
<circle cx="601.6" cy="448" r="11.32" fill="#063163" stroke="#000c47" stroke-width="1.1"/>
<circle cx="627.2" cy="448" r="9.05" fill="#cd4e44" stroke="#c42e22" stroke-width="1.1"/>
<circle cx="652.8" cy="448" r="10.65" fill="#154f8c" stroke="#002f77" stroke-width="1.1"/>
<circle cx="678.4" cy="448" r="5.03" fill="#fcd6c0" stroke="#fbcfb5" stroke-width="1.1"/>
<circle cx="704" cy="448" r="9.93" fill="#256caf" stroke="#0052a1" stroke-width="1.1"/>
<circle cx="729.6" cy="448" r="7.7" fill="#72b1d3" stroke="#59a3cb" stroke-width="1.1"/>
<circle cx="755.2" cy="448" r="7.44" fill="#7eb8d7" stroke="#67abd0" stroke-width="1.1"/>
<circle cx="780.8" cy="448" r="8.32" fill="#559ec9" stroke="#368dbf" stroke-width="1.1"/>
<circle cx="806.4" cy="448" r="10.99" fill="#0d4078" stroke="#001e60" stroke-width="1.1"/>
<circle cx="832" cy="448" r="2.11" fill="#f4f8fb" stroke="#f2f7fa" stroke-width="1.1"/>
<circle cx="857.6" cy="448" r="9.93" fill="#256caf" stroke="#0052a1" stroke-width="1.1"/>
<circle cx="883.2" cy="448" r="10.99" fill="#0d4078" stroke="#001e60" stroke-width="1.1"/>
<circle cx="908.8" cy="448" r="3.57" fill="#e3eff6" stroke="#deecf4" stroke-width="1.1"/>
<circle cx="12.8" cy="473.6" r="5.03" fill="#fcd6c0" stroke="#fbcfb5" stroke-width="1.1"/>
<circle cx="38.4" cy="473.6" r="5.03" fill="#fcd6c0" stroke="#fbcfb5" stroke-width="1.1"/>
<circle cx="64" cy="473.6" r="8.82" fill="#d2594a" stroke="#ca3b29" stroke-width="1.1"/>
<circle cx="89.6" cy="473.6" r="6.49" fill="#f6b293" stroke="#f4a480" stroke-width="1.1"/>
<circle cx="115.2" cy="473.6" r="7.87" fill="#6aacd0" stroke="#4f9dc8" stroke-width="1.1"/>
<circle cx="140.8" cy="473.6" r="6.49" fill="#f6b293" stroke="#f4a480" stroke-width="1.1"/>
<circle cx="166.4" cy="473.6" r="5.97" fill="#b2d5e7" stroke="#a4cde3" stroke-width="1.1"/>
<circle cx="192" cy="473.6" r="7.44" fill="#7eb8d7" stroke="#67abd0" stroke-width="1.1"/>
<circle cx="217.6" cy="473.6" r="7.7" fill="#e8896d" stroke="#e47453" stroke-width="1.1"/>
<circle cx="243.2" cy="473.6" r="7.87" fill="#e58268" stroke="#e06c4d" stroke-width="1.1"/>
<circle cx="268.8" cy="473.6" r="10.15" fill="#2064a9" stroke="#00489a" stroke-width="1.1"/>
<circle cx="294.4" cy="473.6" r="9.27" fill="#c8433f" stroke="#be211c" stroke-width="1.1"/>
<circle cx="320" cy="473.6" r="3.57" fill="#fee9dd" stroke="#fee5d7" stroke-width="1.1"/>
<circle cx="345.6" cy="473.6" r="4.06" fill="#fee4d5" stroke="#fedfcd" stroke-width="1.1"/>
<circle cx="371.2" cy="473.6" r="6.98" fill="#92c5de" stroke="#7ebbd8" stroke-width="1.1"/>
<circle cx="396.8" cy="473.6" r="4.06" fill="#fee4d5" stroke="#fedfcd" stroke-width="1.1"/>
<circle cx="422.4" cy="473.6" r="9.4" fill="#327db8" stroke="#0d66ab" stroke-width="1.1"/>
<circle cx="448" cy="473.6" r="5.03" fill="#fcd6c0" stroke="#fbcfb5" stroke-width="1.1"/>
<circle cx="473.6" cy="473.6" r="11.35" fill="#053061" stroke="#000b45" stroke-width="1.1"/>
<circle cx="499.2" cy="473.6" r="4.06" fill="#fee4d5" stroke="#fedfcd" stroke-width="1.1"/>
<circle cx="524.8" cy="473.6" r="5.97" fill="#f8c0a4" stroke="#f7b594" stroke-width="1.1"/>
<circle cx="550.4" cy="473.6" r="8.82" fill="#d2594a" stroke="#ca3b29" stroke-width="1.1"/>
<circle cx="576" cy="473.6" r="8.82" fill="#d2594a" stroke="#ca3b29" stroke-width="1.1"/>
<circle cx="601.6" cy="473.6" r="1.55" fill="#fffaf7" stroke="#fff9f6" stroke-width="1.03"/>
<circle cx="627.2" cy="473.6" r="8.91" fill="#3e8cbf" stroke="#1b77b3" stroke-width="1.1"/>
<circle cx="652.8" cy="473.6" r="8.67" fill="#d6604d" stroke="#cf432d" stroke-width="1.1"/>
<circle cx="678.4" cy="473.6" r="10.42" fill="#9f1228" stroke="#8e0001" stroke-width="1.1"/>
<circle cx="704" cy="473.6" r="2.11" fill="#f4f8fb" stroke="#f2f7fa" stroke-width="1.1"/>
<circle cx="729.6" cy="473.6" r="10.42" fill="#9f1228" stroke="#8e0001" stroke-width="1.1"/>
<circle cx="755.2" cy="473.6" r="4.77" fill="#fddbc7" stroke="#fdd5bd" stroke-width="1.1"/>
<circle cx="780.8" cy="473.6" r="3.57" fill="#fee9dd" stroke="#fee5d7" stroke-width="1.1"/>
<circle cx="806.4" cy="473.6" r="6.49" fill="#a2cde2" stroke="#91c4dd" stroke-width="1.1"/>
<circle cx="832" cy="473.6" r="7.87" fill="#e58268" stroke="#e06c4d" stroke-width="1.1"/>
<circle cx="857.6" cy="473.6" r="5.03" fill="#cbe2ee" stroke="#c2ddeb" stroke-width="1.1"/>
<circle cx="883.2" cy="473.6" r="5.97" fill="#b2d5e7" stroke="#a4cde3" stroke-width="1.1"/>
<circle cx="908.8" cy="473.6" r="9.05" fill="#cd4e44" stroke="#c42e22" stroke-width="1.1"/>
<circle cx="12.8" cy="499.2" r="11.32" fill="#063163" stroke="#000c47" stroke-width="1.1"/>
<circle cx="38.4" cy="499.2" r="8.91" fill="#3e8cbf" stroke="#1b77b3" stroke-width="1.1"/>
<circle cx="64" cy="499.2" r="10.3" fill="#1d5ea1" stroke="#004190" stroke-width="1.1"/>
<circle cx="89.6" cy="499.2" r="9.93" fill="#256caf" stroke="#0052a1" stroke-width="1.1"/>
<circle cx="115.2" cy="499.2" r="9.7" fill="#2b73b3" stroke="#055aa5" stroke-width="1.1"/>
<circle cx="140.8" cy="499.2" r="9.93" fill="#256caf" stroke="#0052a1" stroke-width="1.1"/>
<circle cx="166.4" cy="499.2" r="10.44" fill="#1a5898" stroke="#003a85" stroke-width="1.1"/>
<circle cx="192" cy="499.2" r="5.75" fill="#b8d8e9" stroke="#abd1e5" stroke-width="1.1"/>
<circle cx="217.6" cy="499.2" r="11.13" fill="#0a3a6f" stroke="#001755" stroke-width="1.1"/>
<circle cx="243.2" cy="499.2" r="7.44" fill="#7eb8d7" stroke="#67abd0" stroke-width="1.1"/>
<circle cx="268.8" cy="499.2" r="3.57" fill="#fee9dd" stroke="#fee5d7" stroke-width="1.1"/>
<circle cx="294.4" cy="499.2" r="9.55" fill="#2f78b5" stroke="#0a60a8" stroke-width="1.1"/>
<circle cx="320" cy="499.2" r="11.32" fill="#063163" stroke="#000c47" stroke-width="1.1"/>
<circle cx="345.6" cy="499.2" r="9.4" fill="#327db8" stroke="#0d66ab" stroke-width="1.1"/>
<circle cx="371.2" cy="499.2" r="7.44" fill="#ec9475" stroke="#e9815c" stroke-width="1.1"/>
<circle cx="396.8" cy="499.2" r="10.65" fill="#154f8c" stroke="#002f77" stroke-width="1.1"/>
<circle cx="422.4" cy="499.2" r="7.87" fill="#6aacd0" stroke="#4f9dc8" stroke-width="1.1"/>
<circle cx="448" cy="499.2" r="10.65" fill="#154f8c" stroke="#002f77" stroke-width="1.1"/>
<circle cx="473.6" cy="499.2" r="4.06" fill="#fee4d5" stroke="#fedfcd" stroke-width="1.1"/>
<circle cx="499.2" cy="499.2" r="11.35" fill="#053061" stroke="#000b45" stroke-width="1.1"/>
<circle cx="524.8" cy="499.2" r="8.58" fill="#4896c5" stroke="#2783bb" stroke-width="1.1"/>
<circle cx="550.4" cy="499.2" r="5.97" fill="#b2d5e7" stroke="#a4cde3" stroke-width="1.1"/>
<circle cx="576" cy="499.2" r="9.4" fill="#327db8" stroke="#0d66ab" stroke-width="1.1"/>
<circle cx="601.6" cy="499.2" r="10.3" fill="#1d5ea1" stroke="#004190" stroke-width="1.1"/>
<circle cx="627.2" cy="499.2" r="9.55" fill="#c03539" stroke="#b51115" stroke-width="1.1"/>
<circle cx="652.8" cy="499.2" r="8.75" fill="#4191c2" stroke="#1f7db7" stroke-width="1.1"/>
<circle cx="678.4" cy="499.2" r="7.16" fill="#f19e7d" stroke="#ee8d66" stroke-width="1.1"/>
<circle cx="704" cy="499.2" r="7.7" fill="#72b1d3" stroke="#59a3cb" stroke-width="1.1"/>
<circle cx="729.6" cy="499.2" r="5.4" fill="#c1ddec" stroke="#b6d7e9" stroke-width="1.1"/>
<circle cx="755.2" cy="499.2" r="9.93" fill="#256caf" stroke="#0052a1" stroke-width="1.1"/>
<circle cx="780.8" cy="499.2" r="10.65" fill="#154f8c" stroke="#002f77" stroke-width="1.1"/>
<circle cx="806.4" cy="499.2" r="10.3" fill="#1d5ea1" stroke="#004190" stroke-width="1.1"/>
<circle cx="832" cy="499.2" r="7.44" fill="#7eb8d7" stroke="#67abd0" stroke-width="1.1"/>
<circle cx="857.6" cy="499.2" r="11.32" fill="#063163" stroke="#000c47" stroke-width="1.1"/>
<circle cx="883.2" cy="499.2" r="10.15" fill="#2064a9" stroke="#00489a" stroke-width="1.1"/>
<circle cx="908.8" cy="499.2" r="7.44" fill="#7eb8d7" stroke="#67abd0" stroke-width="1.1"/>
<circle cx="12.8" cy="524.8" r="8.75" fill="#4191c2" stroke="#1f7db7" stroke-width="1.1"/>
<circle cx="38.4" cy="524.8" r="4.06" fill="#fee4d5" stroke="#fedfcd" stroke-width="1.1"/>
<circle cx="64" cy="524.8" r="6.79" fill="#98c8e0" stroke="#85beda" stroke-width="1.1"/>
<circle cx="89.6" cy="524.8" r="3.57" fill="#e3eff6" stroke="#deecf4" stroke-width="1.1"/>
<circle cx="115.2" cy="524.8" r="7.87" fill="#6aacd0" stroke="#4f9dc8" stroke-width="1.1"/>
<circle cx="140.8" cy="524.8" r="10.86" fill="#104680" stroke="#002569" stroke-width="1.1"/>
<circle cx="166.4" cy="524.8" r="5.03" fill="#cbe2ee" stroke="#c2ddeb" stroke-width="1.1"/>
<circle cx="192" cy="524.8" r="9.4" fill="#327db8" stroke="#0d66ab" stroke-width="1.1"/>
<circle cx="217.6" cy="524.8" r="8.58" fill="#4896c5" stroke="#2783bb" stroke-width="1.1"/>
<circle cx="243.2" cy="524.8" r="11.13" fill="#0a3a6f" stroke="#001755" stroke-width="1.1"/>
<circle cx="268.8" cy="524.8" r="5.97" fill="#b2d5e7" stroke="#a4cde3" stroke-width="1.1"/>
<circle cx="294.4" cy="524.8" r="10.3" fill="#1d5ea1" stroke="#004190" stroke-width="1.1"/>
<circle cx="320" cy="524.8" r="9.16" fill="#3884bc" stroke="#146eb0" stroke-width="1.1"/>
<circle cx="345.6" cy="524.8" r="11.32" fill="#063163" stroke="#000c47" stroke-width="1.1"/>
<circle cx="371.2" cy="524.8" r="6.49" fill="#a2cde2" stroke="#91c4dd" stroke-width="1.1"/>
<circle cx="396.8" cy="524.8" r="10.15" fill="#2064a9" stroke="#00489a" stroke-width="1.1"/>
<circle cx="422.4" cy="524.8" r="7.87" fill="#6aacd0" stroke="#4f9dc8" stroke-width="1.1"/>
<circle cx="448" cy="524.8" r="10.65" fill="#154f8c" stroke="#002f77" stroke-width="1.1"/>
<circle cx="473.6" cy="524.8" r="5.97" fill="#f8c0a4" stroke="#f7b594" stroke-width="1.1"/>
<circle cx="499.2" cy="524.8" r="8.58" fill="#4896c5" stroke="#2783bb" stroke-width="1.1"/>
<circle cx="524.8" cy="524.8" r="11.35" fill="#053061" stroke="#000b45" stroke-width="1.1"/>
<circle cx="550.4" cy="524.8" r="10.3" fill="#1d5ea1" stroke="#004190" stroke-width="1.1"/>
<circle cx="576" cy="524.8" r="9.7" fill="#2b73b3" stroke="#055aa5" stroke-width="1.1"/>
<circle cx="601.6" cy="524.8" r="10.3" fill="#1d5ea1" stroke="#004190" stroke-width="1.1"/>
<circle cx="627.2" cy="524.8" r="7.44" fill="#ec9475" stroke="#e9815c" stroke-width="1.1"/>
<circle cx="652.8" cy="524.8" r="10.65" fill="#154f8c" stroke="#002f77" stroke-width="1.1"/>
<circle cx="678.4" cy="524.8" r="3.21" fill="#e8f2f8" stroke="#e4f0f7" stroke-width="1.1"/>
<circle cx="704" cy="524.8" r="10.86" fill="#104680" stroke="#002569" stroke-width="1.1"/>
<circle cx="729.6" cy="524.8" r="8.91" fill="#3e8cbf" stroke="#1b77b3" stroke-width="1.1"/>
<circle cx="755.2" cy="524.8" r="1.26" fill="#fafcfe" stroke="#f9fbfe" stroke-width="0.84"/>
<circle cx="780.8" cy="524.8" r="5.03" fill="#cbe2ee" stroke="#c2ddeb" stroke-width="1.1"/>
<circle cx="806.4" cy="524.8" r="10.15" fill="#2064a9" stroke="#00489a" stroke-width="1.1"/>
<circle cx="832" cy="524.8" r="5.97" fill="#f8c0a4" stroke="#f7b594" stroke-width="1.1"/>
<circle cx="857.6" cy="524.8" r="7.44" fill="#7eb8d7" stroke="#67abd0" stroke-width="1.1"/>
<circle cx="883.2" cy="524.8" r="10.15" fill="#2064a9" stroke="#00489a" stroke-width="1.1"/>
<circle cx="908.8" cy="524.8" r="4.5" fill="#fddfcd" stroke="#fdd9c4" stroke-width="1.1"/>
<circle cx="12.8" cy="550.4" r="6.79" fill="#98c8e0" stroke="#85beda" stroke-width="1.1"/>
<circle cx="38.4" cy="550.4" r="6.49" fill="#f6b293" stroke="#f4a480" stroke-width="1.1"/>
<circle cx="64" cy="550.4" r="5.75" fill="#b8d8e9" stroke="#abd1e5" stroke-width="1.1"/>
<circle cx="89.6" cy="550.4" r="3.21" fill="#feede3" stroke="#feeade" stroke-width="1.1"/>
<circle cx="115.2" cy="550.4" r="2.11" fill="#fef6f1" stroke="#fef4ee" stroke-width="1.1"/>
<circle cx="140.8" cy="550.4" r="9.55" fill="#2f78b5" stroke="#0a60a8" stroke-width="1.1"/>
<circle cx="166.4" cy="550.4" r="6.18" fill="#f8bb9e" stroke="#f7af8d" stroke-width="1.1"/>
<circle cx="192" cy="550.4" r="7.44" fill="#7eb8d7" stroke="#67abd0" stroke-width="1.1"/>
<circle cx="217.6" cy="550.4" r="7.44" fill="#7eb8d7" stroke="#67abd0" stroke-width="1.1"/>
<circle cx="243.2" cy="550.4" r="11.13" fill="#0a3a6f" stroke="#001755" stroke-width="1.1"/>
<circle cx="268.8" cy="550.4" r="3.57" fill="#fee9dd" stroke="#fee5d7" stroke-width="1.1"/>
<circle cx="294.4" cy="550.4" r="9.93" fill="#256caf" stroke="#0052a1" stroke-width="1.1"/>
<circle cx="320" cy="550.4" r="7.16" fill="#8ac0db" stroke="#75b5d5" stroke-width="1.1"/>
<circle cx="345.6" cy="550.4" r="9.16" fill="#3884bc" stroke="#146eb0" stroke-width="1.1"/>
<circle cx="371.2" cy="550.4" r="6.79" fill="#98c8e0" stroke="#85beda" stroke-width="1.1"/>
<circle cx="396.8" cy="550.4" r="7.87" fill="#6aacd0" stroke="#4f9dc8" stroke-width="1.1"/>
<circle cx="422.4" cy="550.4" r="2.11" fill="#fef6f1" stroke="#fef4ee" stroke-width="1.1"/>
<circle cx="448" cy="550.4" r="8.75" fill="#4191c2" stroke="#1f7db7" stroke-width="1.1"/>
<circle cx="473.6" cy="550.4" r="8.82" fill="#d2594a" stroke="#ca3b29" stroke-width="1.1"/>
<circle cx="499.2" cy="550.4" r="5.97" fill="#b2d5e7" stroke="#a4cde3" stroke-width="1.1"/>
<circle cx="524.8" cy="550.4" r="10.3" fill="#1d5ea1" stroke="#004190" stroke-width="1.1"/>
<circle cx="550.4" cy="550.4" r="11.35" fill="#053061" stroke="#000b45" stroke-width="1.1"/>
<circle cx="576" cy="550.4" r="9.4" fill="#327db8" stroke="#0d66ab" stroke-width="1.1"/>
<circle cx="601.6" cy="550.4" r="7.87" fill="#6aacd0" stroke="#4f9dc8" stroke-width="1.1"/>
<circle cx="627.2" cy="550.4" r="7.44" fill="#ec9475" stroke="#e9815c" stroke-width="1.1"/>
<circle cx="652.8" cy="550.4" r="10.65" fill="#154f8c" stroke="#002f77" stroke-width="1.1"/>
<circle cx="678.4" cy="550.4" r="8.58" fill="#4896c5" stroke="#2783bb" stroke-width="1.1"/>
<circle cx="704" cy="550.4" r="9.16" fill="#3884bc" stroke="#146eb0" stroke-width="1.1"/>
<circle cx="729.6" cy="550.4" r="10.86" fill="#104680" stroke="#002569" stroke-width="1.1"/>
<circle cx="755.2" cy="550.4" r="5.75" fill="#f9c5ab" stroke="#f8bb9c" stroke-width="1.1"/>
<circle cx="780.8" cy="550.4" r="5.03" fill="#fcd6c0" stroke="#fbcfb5" stroke-width="1.1"/>
<circle cx="806.4" cy="550.4" r="6.79" fill="#98c8e0" stroke="#85beda" stroke-width="1.1"/>
<circle cx="832" cy="550.4" r="5.97" fill="#f8c0a4" stroke="#f7b594" stroke-width="1.1"/>
<circle cx="857.6" cy="550.4" r="1.55" fill="#fffaf7" stroke="#fff9f6" stroke-width="1.03"/>
<circle cx="883.2" cy="550.4" r="6.79" fill="#98c8e0" stroke="#85beda" stroke-width="1.1"/>
<circle cx="12.8" cy="576" r="9.93" fill="#256caf" stroke="#0052a1" stroke-width="1.1"/>
<circle cx="38.4" cy="576" r="7.16" fill="#8ac0db" stroke="#75b5d5" stroke-width="1.1"/>
<circle cx="64" cy="576" r="9.93" fill="#256caf" stroke="#0052a1" stroke-width="1.1"/>
<circle cx="89.6" cy="576" r="8.32" fill="#559ec9" stroke="#368dbf" stroke-width="1.1"/>
<circle cx="115.2" cy="576" r="6.18" fill="#abd2e5" stroke="#9ccae0" stroke-width="1.1"/>
<circle cx="140.8" cy="576" r="10.99" fill="#0d4078" stroke="#001e60" stroke-width="1.1"/>
<circle cx="166.4" cy="576" r="6.49" fill="#a2cde2" stroke="#91c4dd" stroke-width="1.1"/>
<circle cx="192" cy="576" r="4.77" fill="#d1e5f0" stroke="#c9e0ed" stroke-width="1.1"/>
<circle cx="217.6" cy="576" r="10.86" fill="#104680" stroke="#002569" stroke-width="1.1"/>
<circle cx="243.2" cy="576" r="9.7" fill="#2b73b3" stroke="#055aa5" stroke-width="1.1"/>
<circle cx="268.8" cy="576" r="7.44" fill="#ec9475" stroke="#e9815c" stroke-width="1.1"/>
<circle cx="294.4" cy="576" r="11.32" fill="#063163" stroke="#000c47" stroke-width="1.1"/>
<circle cx="320" cy="576" r="9.7" fill="#2b73b3" stroke="#055aa5" stroke-width="1.1"/>
<circle cx="345.6" cy="576" r="9.7" fill="#2b73b3" stroke="#055aa5" stroke-width="1.1"/>
<circle cx="371.2" cy="576" r="6.49" fill="#f6b293" stroke="#f4a480" stroke-width="1.1"/>
<circle cx="396.8" cy="576" r="9.7" fill="#2b73b3" stroke="#055aa5" stroke-width="1.1"/>
<circle cx="422.4" cy="576" r="1.26" fill="#fffbf9" stroke="#fffaf8" stroke-width="0.84"/>
<circle cx="448" cy="576" r="10.3" fill="#1d5ea1" stroke="#004190" stroke-width="1.1"/>
<circle cx="473.6" cy="576" r="8.82" fill="#d2594a" stroke="#ca3b29" stroke-width="1.1"/>
<circle cx="499.2" cy="576" r="9.4" fill="#327db8" stroke="#0d66ab" stroke-width="1.1"/>
<circle cx="524.8" cy="576" r="9.7" fill="#2b73b3" stroke="#055aa5" stroke-width="1.1"/>
<circle cx="550.4" cy="576" r="9.4" fill="#327db8" stroke="#0d66ab" stroke-width="1.1"/>
<circle cx="576" cy="576" r="11.35" fill="#053061" stroke="#000b45" stroke-width="1.1"/>
<circle cx="601.6" cy="576" r="9.16" fill="#3884bc" stroke="#146eb0" stroke-width="1.1"/>
<circle cx="627.2" cy="576" r="10.62" fill="#940e26" stroke="#810000" stroke-width="1.1"/>
<circle cx="652.8" cy="576" r="10.99" fill="#0d4078" stroke="#001e60" stroke-width="1.1"/>
<circle cx="678.4" cy="576" r="6.18" fill="#abd2e5" stroke="#9ccae0" stroke-width="1.1"/>
<circle cx="704" cy="576" r="7.87" fill="#6aacd0" stroke="#4f9dc8" stroke-width="1.1"/>
<circle cx="729.6" cy="576" r="9.7" fill="#2b73b3" stroke="#055aa5" stroke-width="1.1"/>
<circle cx="755.2" cy="576" r="7.44" fill="#7eb8d7" stroke="#67abd0" stroke-width="1.1"/>
<circle cx="780.8" cy="576" r="7.87" fill="#6aacd0" stroke="#4f9dc8" stroke-width="1.1"/>
<circle cx="806.4" cy="576" r="8.32" fill="#559ec9" stroke="#368dbf" stroke-width="1.1"/>
<circle cx="832" cy="576" r="6.79" fill="#98c8e0" stroke="#85beda" stroke-width="1.1"/>
<circle cx="857.6" cy="576" r="8.32" fill="#559ec9" stroke="#368dbf" stroke-width="1.1"/>
<circle cx="883.2" cy="576" r="8.32" fill="#559ec9" stroke="#368dbf" stroke-width="1.1"/>
<circle cx="908.8" cy="576" r="8.32" fill="#559ec9" stroke="#368dbf" stroke-width="1.1"/>
<circle cx="12.8" cy="601.6" r="10.65" fill="#154f8c" stroke="#002f77" stroke-width="1.1"/>
<circle cx="38.4" cy="601.6" r="5.75" fill="#b8d8e9" stroke="#abd1e5" stroke-width="1.1"/>
<circle cx="64" cy="601.6" r="8.05" fill="#62a6ce" stroke="#4696c5" stroke-width="1.1"/>
<circle cx="89.6" cy="601.6" r="7.16" fill="#8ac0db" stroke="#75b5d5" stroke-width="1.1"/>
<circle cx="115.2" cy="601.6" r="10.3" fill="#1d5ea1" stroke="#004190" stroke-width="1.1"/>
<circle cx="140.8" cy="601.6" r="10.99" fill="#0d4078" stroke="#001e60" stroke-width="1.1"/>
<circle cx="166.4" cy="601.6" r="8.75" fill="#4191c2" stroke="#1f7db7" stroke-width="1.1"/>
<circle cx="192" cy="601.6" r="8.91" fill="#3e8cbf" stroke="#1b77b3" stroke-width="1.1"/>
<circle cx="217.6" cy="601.6" r="9.93" fill="#256caf" stroke="#0052a1" stroke-width="1.1"/>
<circle cx="243.2" cy="601.6" r="9.4" fill="#327db8" stroke="#0d66ab" stroke-width="1.1"/>
<circle cx="268.8" cy="601.6" r="6.18" fill="#abd2e5" stroke="#9ccae0" stroke-width="1.1"/>
<circle cx="294.4" cy="601.6" r="9.7" fill="#2b73b3" stroke="#055aa5" stroke-width="1.1"/>
<circle cx="320" cy="601.6" r="10.65" fill="#154f8c" stroke="#002f77" stroke-width="1.1"/>
<circle cx="345.6" cy="601.6" r="10.99" fill="#0d4078" stroke="#001e60" stroke-width="1.1"/>
<circle cx="371.2" cy="601.6" r="3.57" fill="#e3eff6" stroke="#deecf4" stroke-width="1.1"/>
<circle cx="396.8" cy="601.6" r="11.32" fill="#063163" stroke="#000c47" stroke-width="1.1"/>
<circle cx="422.4" cy="601.6" r="9.16" fill="#3884bc" stroke="#146eb0" stroke-width="1.1"/>
<circle cx="448" cy="601.6" r="11.32" fill="#063163" stroke="#000c47" stroke-width="1.1"/>
<circle cx="473.6" cy="601.6" r="1.55" fill="#fffaf7" stroke="#fff9f6" stroke-width="1.03"/>
<circle cx="499.2" cy="601.6" r="10.3" fill="#1d5ea1" stroke="#004190" stroke-width="1.1"/>
<circle cx="524.8" cy="601.6" r="10.3" fill="#1d5ea1" stroke="#004190" stroke-width="1.1"/>
<circle cx="550.4" cy="601.6" r="7.87" fill="#6aacd0" stroke="#4f9dc8" stroke-width="1.1"/>
<circle cx="576" cy="601.6" r="9.16" fill="#3884bc" stroke="#146eb0" stroke-width="1.1"/>
<circle cx="601.6" cy="601.6" r="11.35" fill="#053061" stroke="#000b45" stroke-width="1.1"/>
<circle cx="627.2" cy="601.6" r="7.87" fill="#e58268" stroke="#e06c4d" stroke-width="1.1"/>
<circle cx="652.8" cy="601.6" r="9.7" fill="#2b73b3" stroke="#055aa5" stroke-width="1.1"/>
<circle cx="678.4" cy="601.6" r="6.79" fill="#f5aa89" stroke="#f39b74" stroke-width="1.1"/>
<circle cx="704" cy="601.6" r="10.3" fill="#1d5ea1" stroke="#004190" stroke-width="1.1"/>
<circle cx="729.6" cy="601.6" r="6.79" fill="#98c8e0" stroke="#85beda" stroke-width="1.1"/>
<circle cx="755.2" cy="601.6" r="7.16" fill="#8ac0db" stroke="#75b5d5" stroke-width="1.1"/>
<circle cx="780.8" cy="601.6" r="8.32" fill="#559ec9" stroke="#368dbf" stroke-width="1.1"/>
<circle cx="806.4" cy="601.6" r="11.32" fill="#063163" stroke="#000c47" stroke-width="1.1"/>
<circle cx="832" cy="601.6" r="2.11" fill="#fef6f1" stroke="#fef4ee" stroke-width="1.1"/>
<circle cx="857.6" cy="601.6" r="9.93" fill="#256caf" stroke="#0052a1" stroke-width="1.1"/>
<circle cx="883.2" cy="601.6" r="11.32" fill="#063163" stroke="#000c47" stroke-width="1.1"/>
<circle cx="12.8" cy="627.2" r="9.96" fill="#b61f2e" stroke="#a90008" stroke-width="1.1"/>
<circle cx="38.4" cy="627.2" r="9.55" fill="#c03539" stroke="#b51115" stroke-width="1.1"/>
<circle cx="64" cy="627.2" r="11.05" fill="#7a0622" stroke="#620000" stroke-width="1.1"/>
<circle cx="89.6" cy="627.2" r="10.42" fill="#9f1228" stroke="#8e0001" stroke-width="1.1"/>
<circle cx="115.2" cy="627.2" r="5.4" fill="#fbceb6" stroke="#fac5a9" stroke-width="1.1"/>
<circle cx="140.8" cy="627.2" r="9.05" fill="#cd4e44" stroke="#c42e22" stroke-width="1.1"/>
<circle cx="166.4" cy="627.2" r="7.87" fill="#e58268" stroke="#e06c4d" stroke-width="1.1"/>
<circle cx="192" cy="627.2" r="6.49" fill="#a2cde2" stroke="#91c4dd" stroke-width="1.1"/>
<circle cx="217.6" cy="627.2" r="11.05" fill="#7a0622" stroke="#620000" stroke-width="1.1"/>
<circle cx="243.2" cy="627.2" r="7.44" fill="#ec9475" stroke="#e9815c" stroke-width="1.1"/>
<circle cx="268.8" cy="627.2" r="8.91" fill="#3e8cbf" stroke="#1b77b3" stroke-width="1.1"/>
<circle cx="294.4" cy="627.2" r="10.62" fill="#940e26" stroke="#810000" stroke-width="1.1"/>
<circle cx="320" cy="627.2" r="9.41" fill="#c43c3c" stroke="#b91919" stroke-width="1.1"/>
<circle cx="345.6" cy="627.2" r="7.7" fill="#e8896d" stroke="#e47453" stroke-width="1.1"/>
<circle cx="371.2" cy="627.2" r="8.91" fill="#3e8cbf" stroke="#1b77b3" stroke-width="1.1"/>
<circle cx="396.8" cy="627.2" r="8.67" fill="#d6604d" stroke="#cf432d" stroke-width="1.1"/>
<circle cx="422.4" cy="627.2" r="5.4" fill="#c1ddec" stroke="#b6d7e9" stroke-width="1.1"/>
<circle cx="448" cy="627.2" r="9.05" fill="#cd4e44" stroke="#c42e22" stroke-width="1.1"/>
<circle cx="473.6" cy="627.2" r="8.91" fill="#3e8cbf" stroke="#1b77b3" stroke-width="1.1"/>
<circle cx="499.2" cy="627.2" r="9.55" fill="#c03539" stroke="#b51115" stroke-width="1.1"/>
<circle cx="524.8" cy="627.2" r="7.44" fill="#ec9475" stroke="#e9815c" stroke-width="1.1"/>
<circle cx="550.4" cy="627.2" r="7.44" fill="#ec9475" stroke="#e9815c" stroke-width="1.1"/>
<circle cx="576" cy="627.2" r="10.62" fill="#940e26" stroke="#810000" stroke-width="1.1"/>
<circle cx="601.6" cy="627.2" r="7.87" fill="#e58268" stroke="#e06c4d" stroke-width="1.1"/>
<circle cx="627.2" cy="627.2" r="11.35" fill="#053061" stroke="#000b45" stroke-width="1.1"/>
<circle cx="652.8" cy="627.2" r="9.41" fill="#c43c3c" stroke="#b91919" stroke-width="1.1"/>
<circle cx="678.4" cy="627.2" r="5.03" fill="#fcd6c0" stroke="#fbcfb5" stroke-width="1.1"/>
<circle cx="704" cy="627.2" r="3.21" fill="#feede3" stroke="#feeade" stroke-width="1.1"/>
<circle cx="729.6" cy="627.2" r="8.52" fill="#d96752" stroke="#d24c33" stroke-width="1.1"/>
<circle cx="755.2" cy="627.2" r="9.76" fill="#bb2a34" stroke="#af040f" stroke-width="1.1"/>
<circle cx="780.8" cy="627.2" r="9.76" fill="#bb2a34" stroke="#af040f" stroke-width="1.1"/>
<circle cx="806.4" cy="627.2" r="5.97" fill="#f8c0a4" stroke="#f7b594" stroke-width="1.1"/>
<circle cx="832" cy="627.2" r="9.76" fill="#bb2a34" stroke="#af040f" stroke-width="1.1"/>
<circle cx="857.6" cy="627.2" r="8.82" fill="#d2594a" stroke="#ca3b29" stroke-width="1.1"/>
<circle cx="883.2" cy="627.2" r="5.97" fill="#f8c0a4" stroke="#f7b594" stroke-width="1.1"/>
<circle cx="908.8" cy="627.2" r="10.42" fill="#9f1228" stroke="#8e0001" stroke-width="1.1"/>
<circle cx="12.8" cy="652.8" r="9.55" fill="#2f78b5" stroke="#0a60a8" stroke-width="1.1"/>
<circle cx="38.4" cy="652.8" r="4.77" fill="#d1e5f0" stroke="#c9e0ed" stroke-width="1.1"/>
<circle cx="64" cy="652.8" r="8.75" fill="#4191c2" stroke="#1f7db7" stroke-width="1.1"/>
<circle cx="89.6" cy="652.8" r="6.79" fill="#98c8e0" stroke="#85beda" stroke-width="1.1"/>
<circle cx="115.2" cy="652.8" r="5.97" fill="#b2d5e7" stroke="#a4cde3" stroke-width="1.1"/>
<circle cx="140.8" cy="652.8" r="10.99" fill="#0d4078" stroke="#001e60" stroke-width="1.1"/>
<circle cx="166.4" cy="652.8" r="4.77" fill="#d1e5f0" stroke="#c9e0ed" stroke-width="1.1"/>
<circle cx="192" cy="652.8" r="7.44" fill="#7eb8d7" stroke="#67abd0" stroke-width="1.1"/>
<circle cx="217.6" cy="652.8" r="9.93" fill="#256caf" stroke="#0052a1" stroke-width="1.1"/>
<circle cx="243.2" cy="652.8" r="10.65" fill="#154f8c" stroke="#002f77" stroke-width="1.1"/>
<circle cx="268.8" cy="652.8" r="5.4" fill="#fbceb6" stroke="#fac5a9" stroke-width="1.1"/>
<circle cx="294.4" cy="652.8" r="11.32" fill="#063163" stroke="#000c47" stroke-width="1.1"/>
<circle cx="320" cy="652.8" r="9.4" fill="#327db8" stroke="#0d66ab" stroke-width="1.1"/>
<circle cx="345.6" cy="652.8" r="10.44" fill="#1a5898" stroke="#003a85" stroke-width="1.1"/>
<circle cx="371.2" cy="652.8" r="1.26" fill="#fafcfe" stroke="#f9fbfe" stroke-width="0.84"/>
<circle cx="396.8" cy="652.8" r="9.93" fill="#256caf" stroke="#0052a1" stroke-width="1.1"/>
<circle cx="422.4" cy="652.8" r="4.06" fill="#dcecf4" stroke="#d6e9f2" stroke-width="1.1"/>
<circle cx="448" cy="652.8" r="10.65" fill="#154f8c" stroke="#002f77" stroke-width="1.1"/>
<circle cx="473.6" cy="652.8" r="8.67" fill="#d6604d" stroke="#cf432d" stroke-width="1.1"/>
<circle cx="499.2" cy="652.8" r="8.75" fill="#4191c2" stroke="#1f7db7" stroke-width="1.1"/>
<circle cx="524.8" cy="652.8" r="10.65" fill="#154f8c" stroke="#002f77" stroke-width="1.1"/>
<circle cx="550.4" cy="652.8" r="10.65" fill="#154f8c" stroke="#002f77" stroke-width="1.1"/>
<circle cx="576" cy="652.8" r="10.99" fill="#0d4078" stroke="#001e60" stroke-width="1.1"/>
<circle cx="601.6" cy="652.8" r="9.7" fill="#2b73b3" stroke="#055aa5" stroke-width="1.1"/>
<circle cx="627.2" cy="652.8" r="9.41" fill="#c43c3c" stroke="#b91919" stroke-width="1.1"/>
<circle cx="652.8" cy="652.8" r="11.35" fill="#053061" stroke="#000b45" stroke-width="1.1"/>
<circle cx="678.4" cy="652.8" r="6.49" fill="#a2cde2" stroke="#91c4dd" stroke-width="1.1"/>
<circle cx="704" cy="652.8" r="9.16" fill="#3884bc" stroke="#146eb0" stroke-width="1.1"/>
<circle cx="729.6" cy="652.8" r="10.65" fill="#154f8c" stroke="#002f77" stroke-width="1.1"/>
<circle cx="755.2" cy="652.8" r="5.97" fill="#b2d5e7" stroke="#a4cde3" stroke-width="1.1"/>
<circle cx="780.8" cy="652.8" r="6.79" fill="#98c8e0" stroke="#85beda" stroke-width="1.1"/>
<circle cx="806.4" cy="652.8" r="8.91" fill="#3e8cbf" stroke="#1b77b3" stroke-width="1.1"/>
<circle cx="832" cy="652.8" r="3.21" fill="#e8f2f8" stroke="#e4f0f7" stroke-width="1.1"/>
<circle cx="857.6" cy="652.8" r="7.44" fill="#7eb8d7" stroke="#67abd0" stroke-width="1.1"/>
<circle cx="883.2" cy="652.8" r="9.16" fill="#3884bc" stroke="#146eb0" stroke-width="1.1"/>
<circle cx="908.8" cy="652.8" r="6.49" fill="#a2cde2" stroke="#91c4dd" stroke-width="1.1"/>
<circle cx="12.8" cy="678.4" r="6.49" fill="#f6b293" stroke="#f4a480" stroke-width="1.1"/>
<circle cx="38.4" cy="678.4" r="6.18" fill="#f8bb9e" stroke="#f7af8d" stroke-width="1.1"/>
<circle cx="64" cy="678.4" r="1.55" fill="#fffaf7" stroke="#fff9f6" stroke-width="1.03"/>
<circle cx="89.6" cy="678.4" r="5.75" fill="#f9c5ab" stroke="#f8bb9c" stroke-width="1.1"/>
<circle cx="115.2" cy="678.4" r="9.96" fill="#b61f2e" stroke="#a90008" stroke-width="1.1"/>
<circle cx="140.8" cy="678.4" r="1.26" fill="#fffbf9" stroke="#fffaf8" stroke-width="0.84"/>
<circle cx="166.4" cy="678.4" r="9.76" fill="#bb2a34" stroke="#af040f" stroke-width="1.1"/>
<circle cx="192" cy="678.4" r="6.49" fill="#f6b293" stroke="#f4a480" stroke-width="1.1"/>
<circle cx="217.6" cy="678.4" r="4.06" fill="#fee4d5" stroke="#fedfcd" stroke-width="1.1"/>
<circle cx="243.2" cy="678.4" r="7.16" fill="#8ac0db" stroke="#75b5d5" stroke-width="1.1"/>
<circle cx="268.8" cy="678.4" r="8.67" fill="#d6604d" stroke="#cf432d" stroke-width="1.1"/>
<circle cx="294.4" cy="678.4" r="6.49" fill="#a2cde2" stroke="#91c4dd" stroke-width="1.1"/>
<circle cx="320" cy="678.4" r="6.98" fill="#f4a582" stroke="#f2956c" stroke-width="1.1"/>
<circle cx="345.6" cy="678.4" r="4.5" fill="#fddfcd" stroke="#fdd9c4" stroke-width="1.1"/>
<circle cx="371.2" cy="678.4" r="3.21" fill="#e8f2f8" stroke="#e4f0f7" stroke-width="1.1"/>
<circle cx="396.8" cy="678.4" r="6.49" fill="#f6b293" stroke="#f4a480" stroke-width="1.1"/>
<circle cx="422.4" cy="678.4" r="9.96" fill="#b61f2e" stroke="#a90008" stroke-width="1.1"/>
<circle cx="448" cy="678.4" r="5.03" fill="#fcd6c0" stroke="#fbcfb5" stroke-width="1.1"/>
<circle cx="473.6" cy="678.4" r="10.42" fill="#9f1228" stroke="#8e0001" stroke-width="1.1"/>
<circle cx="499.2" cy="678.4" r="7.16" fill="#f19e7d" stroke="#ee8d66" stroke-width="1.1"/>
<circle cx="524.8" cy="678.4" r="3.21" fill="#e8f2f8" stroke="#e4f0f7" stroke-width="1.1"/>
<circle cx="550.4" cy="678.4" r="8.58" fill="#4896c5" stroke="#2783bb" stroke-width="1.1"/>
<circle cx="576" cy="678.4" r="6.18" fill="#abd2e5" stroke="#9ccae0" stroke-width="1.1"/>
<circle cx="601.6" cy="678.4" r="6.79" fill="#f5aa89" stroke="#f39b74" stroke-width="1.1"/>
<circle cx="627.2" cy="678.4" r="5.03" fill="#fcd6c0" stroke="#fbcfb5" stroke-width="1.1"/>
<circle cx="652.8" cy="678.4" r="6.49" fill="#a2cde2" stroke="#91c4dd" stroke-width="1.1"/>
<circle cx="678.4" cy="678.4" r="11.35" fill="#053061" stroke="#000b45" stroke-width="1.1"/>
<circle cx="704" cy="678.4" r="4.06" fill="#fee4d5" stroke="#fedfcd" stroke-width="1.1"/>
<circle cx="729.6" cy="678.4" r="9.7" fill="#2b73b3" stroke="#055aa5" stroke-width="1.1"/>
<circle cx="755.2" cy="678.4" r="7.44" fill="#ec9475" stroke="#e9815c" stroke-width="1.1"/>
<circle cx="780.8" cy="678.4" r="8.28" fill="#de715a" stroke="#d8573c" stroke-width="1.1"/>
<circle cx="806.4" cy="678.4" r="8.28" fill="#de715a" stroke="#d8573c" stroke-width="1.1"/>
<circle cx="857.6" cy="678.4" r="9.05" fill="#cd4e44" stroke="#c42e22" stroke-width="1.1"/>
<circle cx="883.2" cy="678.4" r="8.28" fill="#de715a" stroke="#d8573c" stroke-width="1.1"/>
<circle cx="908.8" cy="678.4" r="5.75" fill="#b8d8e9" stroke="#abd1e5" stroke-width="1.1"/>
<circle cx="12.8" cy="704" r="7.87" fill="#6aacd0" stroke="#4f9dc8" stroke-width="1.1"/>
<circle cx="38.4" cy="704" r="6.98" fill="#f4a582" stroke="#f2956c" stroke-width="1.1"/>
<circle cx="64" cy="704" r="2.11" fill="#f4f8fb" stroke="#f2f7fa" stroke-width="1.1"/>
<circle cx="89.6" cy="704" r="5.03" fill="#fcd6c0" stroke="#fbcfb5" stroke-width="1.1"/>
<circle cx="115.2" cy="704" r="8.58" fill="#4896c5" stroke="#2783bb" stroke-width="1.1"/>
<circle cx="140.8" cy="704" r="9.7" fill="#2b73b3" stroke="#055aa5" stroke-width="1.1"/>
<circle cx="166.4" cy="704" r="4.06" fill="#dcecf4" stroke="#d6e9f2" stroke-width="1.1"/>
<circle cx="192" cy="704" r="10.99" fill="#0d4078" stroke="#001e60" stroke-width="1.1"/>
<circle cx="217.6" cy="704" r="6.79" fill="#98c8e0" stroke="#85beda" stroke-width="1.1"/>
<circle cx="243.2" cy="704" r="10.44" fill="#1a5898" stroke="#003a85" stroke-width="1.1"/>
<circle cx="268.8" cy="704" r="8.32" fill="#559ec9" stroke="#368dbf" stroke-width="1.1"/>
<circle cx="294.4" cy="704" r="8.32" fill="#559ec9" stroke="#368dbf" stroke-width="1.1"/>
<circle cx="320" cy="704" r="8.32" fill="#559ec9" stroke="#368dbf" stroke-width="1.1"/>
<circle cx="345.6" cy="704" r="10.86" fill="#104680" stroke="#002569" stroke-width="1.1"/>
<circle cx="371.2" cy="704" r="8.32" fill="#559ec9" stroke="#368dbf" stroke-width="1.1"/>
<circle cx="396.8" cy="704" r="9.93" fill="#256caf" stroke="#0052a1" stroke-width="1.1"/>
<circle cx="422.4" cy="704" r="9.4" fill="#327db8" stroke="#0d66ab" stroke-width="1.1"/>
<circle cx="448" cy="704" r="9.93" fill="#256caf" stroke="#0052a1" stroke-width="1.1"/>
<circle cx="473.6" cy="704" r="2.11" fill="#f4f8fb" stroke="#f2f7fa" stroke-width="1.1"/>
<circle cx="499.2" cy="704" r="7.7" fill="#72b1d3" stroke="#59a3cb" stroke-width="1.1"/>
<circle cx="524.8" cy="704" r="10.86" fill="#104680" stroke="#002569" stroke-width="1.1"/>
<circle cx="550.4" cy="704" r="9.16" fill="#3884bc" stroke="#146eb0" stroke-width="1.1"/>
<circle cx="576" cy="704" r="7.87" fill="#6aacd0" stroke="#4f9dc8" stroke-width="1.1"/>
<circle cx="601.6" cy="704" r="10.3" fill="#1d5ea1" stroke="#004190" stroke-width="1.1"/>
<circle cx="627.2" cy="704" r="3.21" fill="#feede3" stroke="#feeade" stroke-width="1.1"/>
<circle cx="652.8" cy="704" r="9.16" fill="#3884bc" stroke="#146eb0" stroke-width="1.1"/>
<circle cx="678.4" cy="704" r="4.06" fill="#fee4d5" stroke="#fedfcd" stroke-width="1.1"/>
<circle cx="704" cy="704" r="11.35" fill="#053061" stroke="#000b45" stroke-width="1.1"/>
<circle cx="729.6" cy="704" r="7.87" fill="#6aacd0" stroke="#4f9dc8" stroke-width="1.1"/>
<circle cx="755.2" cy="704" r="5.4" fill="#fbceb6" stroke="#fac5a9" stroke-width="1.1"/>
<circle cx="806.4" cy="704" r="10.15" fill="#2064a9" stroke="#00489a" stroke-width="1.1"/>
<circle cx="832" cy="704" r="8.67" fill="#d6604d" stroke="#cf432d" stroke-width="1.1"/>
<circle cx="857.6" cy="704" r="6.98" fill="#92c5de" stroke="#7ebbd8" stroke-width="1.1"/>
<circle cx="883.2" cy="704" r="10.15" fill="#2064a9" stroke="#00489a" stroke-width="1.1"/>
<circle cx="908.8" cy="704" r="7.7" fill="#e8896d" stroke="#e47453" stroke-width="1.1"/>
<circle cx="12.8" cy="729.6" r="6.79" fill="#98c8e0" stroke="#85beda" stroke-width="1.1"/>
<circle cx="38.4" cy="729.6" r="4.77" fill="#fddbc7" stroke="#fdd5bd" stroke-width="1.1"/>
<circle cx="64" cy="729.6" r="6.98" fill="#92c5de" stroke="#7ebbd8" stroke-width="1.1"/>
<circle cx="89.6" cy="729.6" r="2.11" fill="#f4f8fb" stroke="#f2f7fa" stroke-width="1.1"/>
<circle cx="115.2" cy="729.6" r="5.97" fill="#f8c0a4" stroke="#f7b594" stroke-width="1.1"/>
<circle cx="140.8" cy="729.6" r="8.58" fill="#4896c5" stroke="#2783bb" stroke-width="1.1"/>
<circle cx="166.4" cy="729.6" r="6.79" fill="#f5aa89" stroke="#f39b74" stroke-width="1.1"/>
<circle cx="192" cy="729.6" r="4.06" fill="#dcecf4" stroke="#d6e9f2" stroke-width="1.1"/>
<circle cx="217.6" cy="729.6" r="7.44" fill="#7eb8d7" stroke="#67abd0" stroke-width="1.1"/>
<circle cx="243.2" cy="729.6" r="10.15" fill="#2064a9" stroke="#00489a" stroke-width="1.1"/>
<circle cx="268.8" cy="729.6" r="6.98" fill="#f4a582" stroke="#f2956c" stroke-width="1.1"/>
<circle cx="294.4" cy="729.6" r="9.7" fill="#2b73b3" stroke="#055aa5" stroke-width="1.1"/>
<circle cx="320" cy="729.6" r="5.97" fill="#b2d5e7" stroke="#a4cde3" stroke-width="1.1"/>
<circle cx="345.6" cy="729.6" r="7.87" fill="#6aacd0" stroke="#4f9dc8" stroke-width="1.1"/>
<circle cx="371.2" cy="729.6" r="3.57" fill="#e3eff6" stroke="#deecf4" stroke-width="1.1"/>
<circle cx="396.8" cy="729.6" r="7.16" fill="#8ac0db" stroke="#75b5d5" stroke-width="1.1"/>
<circle cx="422.4" cy="729.6" r="6.49" fill="#f6b293" stroke="#f4a480" stroke-width="1.1"/>
<circle cx="448" cy="729.6" r="7.7" fill="#72b1d3" stroke="#59a3cb" stroke-width="1.1"/>
<circle cx="473.6" cy="729.6" r="10.42" fill="#9f1228" stroke="#8e0001" stroke-width="1.1"/>
<circle cx="499.2" cy="729.6" r="5.4" fill="#c1ddec" stroke="#b6d7e9" stroke-width="1.1"/>
<circle cx="524.8" cy="729.6" r="8.91" fill="#3e8cbf" stroke="#1b77b3" stroke-width="1.1"/>
<circle cx="550.4" cy="729.6" r="10.86" fill="#104680" stroke="#002569" stroke-width="1.1"/>
<circle cx="576" cy="729.6" r="9.7" fill="#2b73b3" stroke="#055aa5" stroke-width="1.1"/>
<circle cx="601.6" cy="729.6" r="6.79" fill="#98c8e0" stroke="#85beda" stroke-width="1.1"/>
<circle cx="627.2" cy="729.6" r="8.52" fill="#d96752" stroke="#d24c33" stroke-width="1.1"/>
<circle cx="652.8" cy="729.6" r="10.65" fill="#154f8c" stroke="#002f77" stroke-width="1.1"/>
<circle cx="678.4" cy="729.6" r="9.7" fill="#2b73b3" stroke="#055aa5" stroke-width="1.1"/>
<circle cx="704" cy="729.6" r="7.87" fill="#6aacd0" stroke="#4f9dc8" stroke-width="1.1"/>
<circle cx="729.6" cy="729.6" r="11.35" fill="#053061" stroke="#000b45" stroke-width="1.1"/>
<circle cx="755.2" cy="729.6" r="4.5" fill="#fddfcd" stroke="#fdd9c4" stroke-width="1.1"/>
<circle cx="780.8" cy="729.6" r="4.5" fill="#fddfcd" stroke="#fdd9c4" stroke-width="1.1"/>
<circle cx="806.4" cy="729.6" r="4.06" fill="#dcecf4" stroke="#d6e9f2" stroke-width="1.1"/>
<circle cx="857.6" cy="729.6" r="3.57" fill="#fee9dd" stroke="#fee5d7" stroke-width="1.1"/>
<circle cx="883.2" cy="729.6" r="3.57" fill="#e3eff6" stroke="#deecf4" stroke-width="1.1"/>
<circle cx="908.8" cy="729.6" r="5.97" fill="#b2d5e7" stroke="#a4cde3" stroke-width="1.1"/>
<circle cx="12.8" cy="755.2" r="9.55" fill="#2f78b5" stroke="#0a60a8" stroke-width="1.1"/>
<circle cx="38.4" cy="755.2" r="11.32" fill="#063163" stroke="#000c47" stroke-width="1.1"/>
<circle cx="64" cy="755.2" r="10.65" fill="#154f8c" stroke="#002f77" stroke-width="1.1"/>
<circle cx="89.6" cy="755.2" r="11.32" fill="#063163" stroke="#000c47" stroke-width="1.1"/>
<circle cx="115.2" cy="755.2" r="7.87" fill="#6aacd0" stroke="#4f9dc8" stroke-width="1.1"/>
<circle cx="140.8" cy="755.2" r="6.98" fill="#92c5de" stroke="#7ebbd8" stroke-width="1.1"/>
<circle cx="166.4" cy="755.2" r="10.3" fill="#1d5ea1" stroke="#004190" stroke-width="1.1"/>
<circle cx="192" cy="755.2" r="7.16" fill="#f19e7d" stroke="#ee8d66" stroke-width="1.1"/>
<circle cx="217.6" cy="755.2" r="9.7" fill="#2b73b3" stroke="#055aa5" stroke-width="1.1"/>
<circle cx="243.2" cy="755.2" r="4.77" fill="#fddbc7" stroke="#fdd5bd" stroke-width="1.1"/>
<circle cx="268.8" cy="755.2" r="7.87" fill="#e58268" stroke="#e06c4d" stroke-width="1.1"/>
<circle cx="294.4" cy="755.2" r="7.16" fill="#8ac0db" stroke="#75b5d5" stroke-width="1.1"/>
<circle cx="320" cy="755.2" r="8.91" fill="#3e8cbf" stroke="#1b77b3" stroke-width="1.1"/>
<circle cx="345.6" cy="755.2" r="5.4" fill="#c1ddec" stroke="#b6d7e9" stroke-width="1.1"/>
<circle cx="371.2" cy="755.2" r="10.42" fill="#9f1228" stroke="#8e0001" stroke-width="1.1"/>
<circle cx="396.8" cy="755.2" r="7.87" fill="#6aacd0" stroke="#4f9dc8" stroke-width="1.1"/>
<circle cx="422.4" cy="755.2" r="3.21" fill="#e8f2f8" stroke="#e4f0f7" stroke-width="1.1"/>
<circle cx="448" cy="755.2" r="7.44" fill="#7eb8d7" stroke="#67abd0" stroke-width="1.1"/>
<circle cx="473.6" cy="755.2" r="4.77" fill="#fddbc7" stroke="#fdd5bd" stroke-width="1.1"/>
<circle cx="499.2" cy="755.2" r="9.93" fill="#256caf" stroke="#0052a1" stroke-width="1.1"/>
<circle cx="524.8" cy="755.2" r="1.26" fill="#fafcfe" stroke="#f9fbfe" stroke-width="0.84"/>
<circle cx="550.4" cy="755.2" r="5.75" fill="#f9c5ab" stroke="#f8bb9c" stroke-width="1.1"/>
<circle cx="576" cy="755.2" r="7.44" fill="#7eb8d7" stroke="#67abd0" stroke-width="1.1"/>
<circle cx="601.6" cy="755.2" r="7.16" fill="#8ac0db" stroke="#75b5d5" stroke-width="1.1"/>
<circle cx="627.2" cy="755.2" r="9.76" fill="#bb2a34" stroke="#af040f" stroke-width="1.1"/>
<circle cx="652.8" cy="755.2" r="5.97" fill="#b2d5e7" stroke="#a4cde3" stroke-width="1.1"/>
<circle cx="678.4" cy="755.2" r="7.44" fill="#ec9475" stroke="#e9815c" stroke-width="1.1"/>
<circle cx="704" cy="755.2" r="5.4" fill="#fbceb6" stroke="#fac5a9" stroke-width="1.1"/>
<circle cx="729.6" cy="755.2" r="4.5" fill="#fddfcd" stroke="#fdd9c4" stroke-width="1.1"/>
<circle cx="755.2" cy="755.2" r="11.35" fill="#053061" stroke="#000b45" stroke-width="1.1"/>
<circle cx="780.8" cy="755.2" r="11.32" fill="#063163" stroke="#000c47" stroke-width="1.1"/>
<circle cx="806.4" cy="755.2" r="6.79" fill="#98c8e0" stroke="#85beda" stroke-width="1.1"/>
<circle cx="832" cy="755.2" r="10.44" fill="#1a5898" stroke="#003a85" stroke-width="1.1"/>
<circle cx="857.6" cy="755.2" r="10.15" fill="#2064a9" stroke="#00489a" stroke-width="1.1"/>
<circle cx="883.2" cy="755.2" r="6.79" fill="#98c8e0" stroke="#85beda" stroke-width="1.1"/>
<circle cx="908.8" cy="755.2" r="9.93" fill="#256caf" stroke="#0052a1" stroke-width="1.1"/>
<circle cx="12.8" cy="780.8" r="10.3" fill="#1d5ea1" stroke="#004190" stroke-width="1.1"/>
<circle cx="38.4" cy="780.8" r="10.86" fill="#104680" stroke="#002569" stroke-width="1.1"/>
<circle cx="64" cy="780.8" r="10.44" fill="#1a5898" stroke="#003a85" stroke-width="1.1"/>
<circle cx="89.6" cy="780.8" r="11.19" fill="#09376b" stroke="#001350" stroke-width="1.1"/>
<circle cx="115.2" cy="780.8" r="8.91" fill="#3e8cbf" stroke="#1b77b3" stroke-width="1.1"/>
<circle cx="140.8" cy="780.8" r="7.87" fill="#6aacd0" stroke="#4f9dc8" stroke-width="1.1"/>
<circle cx="166.4" cy="780.8" r="10.99" fill="#0d4078" stroke="#001e60" stroke-width="1.1"/>
<circle cx="192" cy="780.8" r="5.03" fill="#fcd6c0" stroke="#fbcfb5" stroke-width="1.1"/>
<circle cx="217.6" cy="780.8" r="9.93" fill="#256caf" stroke="#0052a1" stroke-width="1.1"/>
<circle cx="243.2" cy="780.8" r="1.26" fill="#fafcfe" stroke="#f9fbfe" stroke-width="0.84"/>
<circle cx="268.8" cy="780.8" r="6.49" fill="#f6b293" stroke="#f4a480" stroke-width="1.1"/>
<circle cx="294.4" cy="780.8" r="7.7" fill="#72b1d3" stroke="#59a3cb" stroke-width="1.1"/>
<circle cx="320" cy="780.8" r="9.93" fill="#256caf" stroke="#0052a1" stroke-width="1.1"/>
<circle cx="345.6" cy="780.8" r="7.16" fill="#8ac0db" stroke="#75b5d5" stroke-width="1.1"/>
<circle cx="371.2" cy="780.8" r="9.96" fill="#b61f2e" stroke="#a90008" stroke-width="1.1"/>
<circle cx="396.8" cy="780.8" r="8.58" fill="#4896c5" stroke="#2783bb" stroke-width="1.1"/>
<circle cx="422.4" cy="780.8" r="5.97" fill="#b2d5e7" stroke="#a4cde3" stroke-width="1.1"/>
<circle cx="448" cy="780.8" r="8.32" fill="#559ec9" stroke="#368dbf" stroke-width="1.1"/>
<circle cx="473.6" cy="780.8" r="3.57" fill="#fee9dd" stroke="#fee5d7" stroke-width="1.1"/>
<circle cx="499.2" cy="780.8" r="10.65" fill="#154f8c" stroke="#002f77" stroke-width="1.1"/>
<circle cx="524.8" cy="780.8" r="5.03" fill="#cbe2ee" stroke="#c2ddeb" stroke-width="1.1"/>
<circle cx="550.4" cy="780.8" r="5.03" fill="#fcd6c0" stroke="#fbcfb5" stroke-width="1.1"/>
<circle cx="576" cy="780.8" r="7.87" fill="#6aacd0" stroke="#4f9dc8" stroke-width="1.1"/>
<circle cx="601.6" cy="780.8" r="8.32" fill="#559ec9" stroke="#368dbf" stroke-width="1.1"/>
<circle cx="627.2" cy="780.8" r="9.76" fill="#bb2a34" stroke="#af040f" stroke-width="1.1"/>
<circle cx="652.8" cy="780.8" r="6.79" fill="#98c8e0" stroke="#85beda" stroke-width="1.1"/>
<circle cx="678.4" cy="780.8" r="8.28" fill="#de715a" stroke="#d8573c" stroke-width="1.1"/>
<circle cx="729.6" cy="780.8" r="4.5" fill="#fddfcd" stroke="#fdd9c4" stroke-width="1.1"/>
<circle cx="755.2" cy="780.8" r="11.32" fill="#063163" stroke="#000c47" stroke-width="1.1"/>
<circle cx="780.8" cy="780.8" r="11.35" fill="#053061" stroke="#000b45" stroke-width="1.1"/>
<circle cx="806.4" cy="780.8" r="7.87" fill="#6aacd0" stroke="#4f9dc8" stroke-width="1.1"/>
<circle cx="832" cy="780.8" r="9.55" fill="#2f78b5" stroke="#0a60a8" stroke-width="1.1"/>
<circle cx="857.6" cy="780.8" r="10.86" fill="#104680" stroke="#002569" stroke-width="1.1"/>
<circle cx="883.2" cy="780.8" r="7.87" fill="#6aacd0" stroke="#4f9dc8" stroke-width="1.1"/>
<circle cx="908.8" cy="780.8" r="8.75" fill="#4191c2" stroke="#1f7db7" stroke-width="1.1"/>
<circle cx="12.8" cy="806.4" r="9.7" fill="#2b73b3" stroke="#055aa5" stroke-width="1.1"/>
<circle cx="38.4" cy="806.4" r="4.5" fill="#d6e8f2" stroke="#cfe4f0" stroke-width="1.1"/>
<circle cx="64" cy="806.4" r="6.79" fill="#98c8e0" stroke="#85beda" stroke-width="1.1"/>
<circle cx="89.6" cy="806.4" r="6.29" fill="#a8d0e4" stroke="#98c8df" stroke-width="1.1"/>
<circle cx="115.2" cy="806.4" r="10.99" fill="#0d4078" stroke="#001e60" stroke-width="1.1"/>
<circle cx="140.8" cy="806.4" r="9.7" fill="#2b73b3" stroke="#055aa5" stroke-width="1.1"/>
<circle cx="166.4" cy="806.4" r="8.75" fill="#4191c2" stroke="#1f7db7" stroke-width="1.1"/>
<circle cx="192" cy="806.4" r="9.55" fill="#2f78b5" stroke="#0a60a8" stroke-width="1.1"/>
<circle cx="217.6" cy="806.4" r="8.91" fill="#3e8cbf" stroke="#1b77b3" stroke-width="1.1"/>
<circle cx="243.2" cy="806.4" r="8.58" fill="#4896c5" stroke="#2783bb" stroke-width="1.1"/>
<circle cx="268.8" cy="806.4" r="7.87" fill="#6aacd0" stroke="#4f9dc8" stroke-width="1.1"/>
<circle cx="294.4" cy="806.4" r="8.32" fill="#559ec9" stroke="#368dbf" stroke-width="1.1"/>
<circle cx="320" cy="806.4" r="10.65" fill="#154f8c" stroke="#002f77" stroke-width="1.1"/>
<circle cx="345.6" cy="806.4" r="10.65" fill="#154f8c" stroke="#002f77" stroke-width="1.1"/>
<circle cx="371.2" cy="806.4" r="5.4" fill="#c1ddec" stroke="#b6d7e9" stroke-width="1.1"/>
<circle cx="396.8" cy="806.4" r="11.13" fill="#0a3a6f" stroke="#001755" stroke-width="1.1"/>
<circle cx="422.4" cy="806.4" r="10.65" fill="#154f8c" stroke="#002f77" stroke-width="1.1"/>
<circle cx="448" cy="806.4" r="10.99" fill="#0d4078" stroke="#001e60" stroke-width="1.1"/>
<circle cx="473.6" cy="806.4" r="6.49" fill="#a2cde2" stroke="#91c4dd" stroke-width="1.1"/>
<circle cx="499.2" cy="806.4" r="10.3" fill="#1d5ea1" stroke="#004190" stroke-width="1.1"/>
<circle cx="524.8" cy="806.4" r="10.15" fill="#2064a9" stroke="#00489a" stroke-width="1.1"/>
<circle cx="550.4" cy="806.4" r="6.79" fill="#98c8e0" stroke="#85beda" stroke-width="1.1"/>
<circle cx="576" cy="806.4" r="8.32" fill="#559ec9" stroke="#368dbf" stroke-width="1.1"/>
<circle cx="601.6" cy="806.4" r="11.32" fill="#063163" stroke="#000c47" stroke-width="1.1"/>
<circle cx="627.2" cy="806.4" r="5.97" fill="#f8c0a4" stroke="#f7b594" stroke-width="1.1"/>
<circle cx="652.8" cy="806.4" r="8.91" fill="#3e8cbf" stroke="#1b77b3" stroke-width="1.1"/>
<circle cx="678.4" cy="806.4" r="8.28" fill="#de715a" stroke="#d8573c" stroke-width="1.1"/>
<circle cx="704" cy="806.4" r="10.15" fill="#2064a9" stroke="#00489a" stroke-width="1.1"/>
<circle cx="729.6" cy="806.4" r="4.06" fill="#dcecf4" stroke="#d6e9f2" stroke-width="1.1"/>
<circle cx="755.2" cy="806.4" r="6.79" fill="#98c8e0" stroke="#85beda" stroke-width="1.1"/>
<circle cx="780.8" cy="806.4" r="7.87" fill="#6aacd0" stroke="#4f9dc8" stroke-width="1.1"/>
<circle cx="806.4" cy="806.4" r="11.35" fill="#053061" stroke="#000b45" stroke-width="1.1"/>
<circle cx="832" cy="806.4" r="5.03" fill="#fcd6c0" stroke="#fbcfb5" stroke-width="1.1"/>
<circle cx="857.6" cy="806.4" r="9.93" fill="#256caf" stroke="#0052a1" stroke-width="1.1"/>
<circle cx="883.2" cy="806.4" r="11.32" fill="#063163" stroke="#000c47" stroke-width="1.1"/>
<circle cx="908.8" cy="806.4" r="4.77" fill="#fddbc7" stroke="#fdd5bd" stroke-width="1.1"/>
<circle cx="12.8" cy="832" r="7.16" fill="#8ac0db" stroke="#75b5d5" stroke-width="1.1"/>
<circle cx="38.4" cy="832" r="10.86" fill="#104680" stroke="#002569" stroke-width="1.1"/>
<circle cx="64" cy="832" r="9.93" fill="#256caf" stroke="#0052a1" stroke-width="1.1"/>
<circle cx="89.6" cy="832" r="10.65" fill="#154f8c" stroke="#002f77" stroke-width="1.1"/>
<circle cx="115.2" cy="832" r="1.55" fill="#fffaf7" stroke="#fff9f6" stroke-width="1.03"/>
<circle cx="140.8" cy="832" r="3.21" fill="#e8f2f8" stroke="#e4f0f7" stroke-width="1.1"/>
<circle cx="166.4" cy="832" r="7.87" fill="#6aacd0" stroke="#4f9dc8" stroke-width="1.1"/>
<circle cx="192" cy="832" r="9.96" fill="#b61f2e" stroke="#a90008" stroke-width="1.1"/>
<circle cx="217.6" cy="832" r="8.32" fill="#559ec9" stroke="#368dbf" stroke-width="1.1"/>
<circle cx="243.2" cy="832" r="6.49" fill="#f6b293" stroke="#f4a480" stroke-width="1.1"/>
<circle cx="268.8" cy="832" r="10.42" fill="#9f1228" stroke="#8e0001" stroke-width="1.1"/>
<circle cx="294.4" cy="832" r="6.49" fill="#a2cde2" stroke="#91c4dd" stroke-width="1.1"/>
<circle cx="320" cy="832" r="6.49" fill="#a2cde2" stroke="#91c4dd" stroke-width="1.1"/>
<circle cx="345.6" cy="832" r="5.4" fill="#fbceb6" stroke="#fac5a9" stroke-width="1.1"/>
<circle cx="371.2" cy="832" r="11.23" fill="#6e0220" stroke="#540000" stroke-width="1.1"/>
<circle cx="396.8" cy="832" r="2.11" fill="#f4f8fb" stroke="#f2f7fa" stroke-width="1.1"/>
<circle cx="422.4" cy="832" r="7.44" fill="#ec9475" stroke="#e9815c" stroke-width="1.1"/>
<circle cx="448" cy="832" r="2.11" fill="#f4f8fb" stroke="#f2f7fa" stroke-width="1.1"/>
<circle cx="473.6" cy="832" r="7.87" fill="#e58268" stroke="#e06c4d" stroke-width="1.1"/>
<circle cx="499.2" cy="832" r="7.44" fill="#7eb8d7" stroke="#67abd0" stroke-width="1.1"/>
<circle cx="524.8" cy="832" r="5.97" fill="#f8c0a4" stroke="#f7b594" stroke-width="1.1"/>
<circle cx="550.4" cy="832" r="5.97" fill="#f8c0a4" stroke="#f7b594" stroke-width="1.1"/>
<circle cx="576" cy="832" r="6.79" fill="#98c8e0" stroke="#85beda" stroke-width="1.1"/>
<circle cx="601.6" cy="832" r="2.11" fill="#fef6f1" stroke="#fef4ee" stroke-width="1.1"/>
<circle cx="627.2" cy="832" r="9.76" fill="#bb2a34" stroke="#af040f" stroke-width="1.1"/>
<circle cx="652.8" cy="832" r="3.21" fill="#e8f2f8" stroke="#e4f0f7" stroke-width="1.1"/>
<circle cx="704" cy="832" r="8.67" fill="#d6604d" stroke="#cf432d" stroke-width="1.1"/>
<circle cx="755.2" cy="832" r="10.44" fill="#1a5898" stroke="#003a85" stroke-width="1.1"/>
<circle cx="780.8" cy="832" r="9.55" fill="#2f78b5" stroke="#0a60a8" stroke-width="1.1"/>
<circle cx="806.4" cy="832" r="5.03" fill="#fcd6c0" stroke="#fbcfb5" stroke-width="1.1"/>
<circle cx="832" cy="832" r="11.35" fill="#053061" stroke="#000b45" stroke-width="1.1"/>
<circle cx="857.6" cy="832" r="7.44" fill="#7eb8d7" stroke="#67abd0" stroke-width="1.1"/>
<circle cx="883.2" cy="832" r="4.77" fill="#fddbc7" stroke="#fdd5bd" stroke-width="1.1"/>
<circle cx="908.8" cy="832" r="11.13" fill="#0a3a6f" stroke="#001755" stroke-width="1.1"/>
<circle cx="12.8" cy="857.6" r="10.99" fill="#0d4078" stroke="#001e60" stroke-width="1.1"/>
<circle cx="38.4" cy="857.6" r="8.91" fill="#3e8cbf" stroke="#1b77b3" stroke-width="1.1"/>
<circle cx="64" cy="857.6" r="9.4" fill="#327db8" stroke="#0d66ab" stroke-width="1.1"/>
<circle cx="89.6" cy="857.6" r="9.7" fill="#2b73b3" stroke="#055aa5" stroke-width="1.1"/>
<circle cx="115.2" cy="857.6" r="10.65" fill="#154f8c" stroke="#002f77" stroke-width="1.1"/>
<circle cx="140.8" cy="857.6" r="8.58" fill="#4896c5" stroke="#2783bb" stroke-width="1.1"/>
<circle cx="166.4" cy="857.6" r="11.32" fill="#063163" stroke="#000c47" stroke-width="1.1"/>
<circle cx="192" cy="857.6" r="5.4" fill="#c1ddec" stroke="#b6d7e9" stroke-width="1.1"/>
<circle cx="217.6" cy="857.6" r="10.44" fill="#1a5898" stroke="#003a85" stroke-width="1.1"/>
<circle cx="243.2" cy="857.6" r="5.4" fill="#c1ddec" stroke="#b6d7e9" stroke-width="1.1"/>
<circle cx="268.8" cy="857.6" r="1.26" fill="#fafcfe" stroke="#f9fbfe" stroke-width="0.84"/>
<circle cx="294.4" cy="857.6" r="8.05" fill="#62a6ce" stroke="#4696c5" stroke-width="1.1"/>
<circle cx="320" cy="857.6" r="10.86" fill="#104680" stroke="#002569" stroke-width="1.1"/>
<circle cx="345.6" cy="857.6" r="8.75" fill="#4191c2" stroke="#1f7db7" stroke-width="1.1"/>
<circle cx="371.2" cy="857.6" r="7.44" fill="#ec9475" stroke="#e9815c" stroke-width="1.1"/>
<circle cx="396.8" cy="857.6" r="9.93" fill="#256caf" stroke="#0052a1" stroke-width="1.1"/>
<circle cx="422.4" cy="857.6" r="8.75" fill="#4191c2" stroke="#1f7db7" stroke-width="1.1"/>
<circle cx="448" cy="857.6" r="9.93" fill="#256caf" stroke="#0052a1" stroke-width="1.1"/>
<circle cx="473.6" cy="857.6" r="5.03" fill="#cbe2ee" stroke="#c2ddeb" stroke-width="1.1"/>
<circle cx="499.2" cy="857.6" r="11.32" fill="#063163" stroke="#000c47" stroke-width="1.1"/>
<circle cx="524.8" cy="857.6" r="7.44" fill="#7eb8d7" stroke="#67abd0" stroke-width="1.1"/>
<circle cx="550.4" cy="857.6" r="1.55" fill="#fffaf7" stroke="#fff9f6" stroke-width="1.03"/>
<circle cx="576" cy="857.6" r="8.32" fill="#559ec9" stroke="#368dbf" stroke-width="1.1"/>
<circle cx="601.6" cy="857.6" r="9.93" fill="#256caf" stroke="#0052a1" stroke-width="1.1"/>
<circle cx="627.2" cy="857.6" r="8.82" fill="#d2594a" stroke="#ca3b29" stroke-width="1.1"/>
<circle cx="652.8" cy="857.6" r="7.44" fill="#7eb8d7" stroke="#67abd0" stroke-width="1.1"/>
<circle cx="678.4" cy="857.6" r="9.05" fill="#cd4e44" stroke="#c42e22" stroke-width="1.1"/>
<circle cx="704" cy="857.6" r="6.98" fill="#92c5de" stroke="#7ebbd8" stroke-width="1.1"/>
<circle cx="729.6" cy="857.6" r="3.57" fill="#fee9dd" stroke="#fee5d7" stroke-width="1.1"/>
<circle cx="755.2" cy="857.6" r="10.15" fill="#2064a9" stroke="#00489a" stroke-width="1.1"/>
<circle cx="780.8" cy="857.6" r="10.86" fill="#104680" stroke="#002569" stroke-width="1.1"/>
<circle cx="806.4" cy="857.6" r="9.93" fill="#256caf" stroke="#0052a1" stroke-width="1.1"/>
<circle cx="832" cy="857.6" r="7.44" fill="#7eb8d7" stroke="#67abd0" stroke-width="1.1"/>
<circle cx="857.6" cy="857.6" r="11.35" fill="#053061" stroke="#000b45" stroke-width="1.1"/>
<circle cx="883.2" cy="857.6" r="9.93" fill="#256caf" stroke="#0052a1" stroke-width="1.1"/>
<circle cx="908.8" cy="857.6" r="6.79" fill="#98c8e0" stroke="#85beda" stroke-width="1.1"/>
<circle cx="12.8" cy="883.2" r="9.7" fill="#2b73b3" stroke="#055aa5" stroke-width="1.1"/>
<circle cx="38.4" cy="883.2" r="4.5" fill="#d6e8f2" stroke="#cfe4f0" stroke-width="1.1"/>
<circle cx="64" cy="883.2" r="6.79" fill="#98c8e0" stroke="#85beda" stroke-width="1.1"/>
<circle cx="89.6" cy="883.2" r="5.97" fill="#b2d5e7" stroke="#a4cde3" stroke-width="1.1"/>
<circle cx="115.2" cy="883.2" r="10.86" fill="#104680" stroke="#002569" stroke-width="1.1"/>
<circle cx="140.8" cy="883.2" r="9.7" fill="#2b73b3" stroke="#055aa5" stroke-width="1.1"/>
<circle cx="166.4" cy="883.2" r="8.75" fill="#4191c2" stroke="#1f7db7" stroke-width="1.1"/>
<circle cx="192" cy="883.2" r="9.55" fill="#2f78b5" stroke="#0a60a8" stroke-width="1.1"/>
<circle cx="217.6" cy="883.2" r="8.75" fill="#4191c2" stroke="#1f7db7" stroke-width="1.1"/>
<circle cx="243.2" cy="883.2" r="8.58" fill="#4896c5" stroke="#2783bb" stroke-width="1.1"/>
<circle cx="268.8" cy="883.2" r="7.7" fill="#72b1d3" stroke="#59a3cb" stroke-width="1.1"/>
<circle cx="294.4" cy="883.2" r="8.32" fill="#559ec9" stroke="#368dbf" stroke-width="1.1"/>
<circle cx="320" cy="883.2" r="10.44" fill="#1a5898" stroke="#003a85" stroke-width="1.1"/>
<circle cx="345.6" cy="883.2" r="10.65" fill="#154f8c" stroke="#002f77" stroke-width="1.1"/>
<circle cx="371.2" cy="883.2" r="5.4" fill="#c1ddec" stroke="#b6d7e9" stroke-width="1.1"/>
<circle cx="396.8" cy="883.2" r="11.13" fill="#0a3a6f" stroke="#001755" stroke-width="1.1"/>
<circle cx="422.4" cy="883.2" r="10.65" fill="#154f8c" stroke="#002f77" stroke-width="1.1"/>
<circle cx="448" cy="883.2" r="10.99" fill="#0d4078" stroke="#001e60" stroke-width="1.1"/>
<circle cx="473.6" cy="883.2" r="5.97" fill="#b2d5e7" stroke="#a4cde3" stroke-width="1.1"/>
<circle cx="499.2" cy="883.2" r="10.15" fill="#2064a9" stroke="#00489a" stroke-width="1.1"/>
<circle cx="524.8" cy="883.2" r="10.15" fill="#2064a9" stroke="#00489a" stroke-width="1.1"/>
<circle cx="550.4" cy="883.2" r="6.79" fill="#98c8e0" stroke="#85beda" stroke-width="1.1"/>
<circle cx="576" cy="883.2" r="8.32" fill="#559ec9" stroke="#368dbf" stroke-width="1.1"/>
<circle cx="601.6" cy="883.2" r="11.32" fill="#063163" stroke="#000c47" stroke-width="1.1"/>
<circle cx="627.2" cy="883.2" r="5.97" fill="#f8c0a4" stroke="#f7b594" stroke-width="1.1"/>
<circle cx="652.8" cy="883.2" r="9.16" fill="#3884bc" stroke="#146eb0" stroke-width="1.1"/>
<circle cx="678.4" cy="883.2" r="8.28" fill="#de715a" stroke="#d8573c" stroke-width="1.1"/>
<circle cx="704" cy="883.2" r="10.15" fill="#2064a9" stroke="#00489a" stroke-width="1.1"/>
<circle cx="729.6" cy="883.2" r="3.57" fill="#e3eff6" stroke="#deecf4" stroke-width="1.1"/>
<circle cx="755.2" cy="883.2" r="6.79" fill="#98c8e0" stroke="#85beda" stroke-width="1.1"/>
<circle cx="780.8" cy="883.2" r="7.87" fill="#6aacd0" stroke="#4f9dc8" stroke-width="1.1"/>
<circle cx="806.4" cy="883.2" r="11.32" fill="#063163" stroke="#000c47" stroke-width="1.1"/>
<circle cx="832" cy="883.2" r="4.77" fill="#fddbc7" stroke="#fdd5bd" stroke-width="1.1"/>
<circle cx="857.6" cy="883.2" r="9.93" fill="#256caf" stroke="#0052a1" stroke-width="1.1"/>
<circle cx="883.2" cy="883.2" r="11.35" fill="#053061" stroke="#000b45" stroke-width="1.1"/>
<circle cx="908.8" cy="883.2" r="4.77" fill="#fddbc7" stroke="#fdd5bd" stroke-width="1.1"/>
<circle cx="12.8" cy="908.8" r="7.44" fill="#7eb8d7" stroke="#67abd0" stroke-width="1.1"/>
<circle cx="38.4" cy="908.8" r="10.44" fill="#1a5898" stroke="#003a85" stroke-width="1.1"/>
<circle cx="64" cy="908.8" r="10.44" fill="#1a5898" stroke="#003a85" stroke-width="1.1"/>
<circle cx="89.6" cy="908.8" r="10.44" fill="#1a5898" stroke="#003a85" stroke-width="1.1"/>
<circle cx="115.2" cy="908.8" r="4.5" fill="#fddfcd" stroke="#fdd9c4" stroke-width="1.1"/>
<circle cx="140.8" cy="908.8" r="5.4" fill="#c1ddec" stroke="#b6d7e9" stroke-width="1.1"/>
<circle cx="166.4" cy="908.8" r="6.98" fill="#92c5de" stroke="#7ebbd8" stroke-width="1.1"/>
<circle cx="192" cy="908.8" r="9.76" fill="#bb2a34" stroke="#af040f" stroke-width="1.1"/>
<circle cx="217.6" cy="908.8" r="8.75" fill="#4191c2" stroke="#1f7db7" stroke-width="1.1"/>
<circle cx="243.2" cy="908.8" r="4.5" fill="#fddfcd" stroke="#fdd9c4" stroke-width="1.1"/>
<circle cx="268.8" cy="908.8" r="10.87" fill="#850a24" stroke="#6f0000" stroke-width="1.1"/>
<circle cx="294.4" cy="908.8" r="7.44" fill="#7eb8d7" stroke="#67abd0" stroke-width="1.1"/>
<circle cx="320" cy="908.8" r="6.49" fill="#a2cde2" stroke="#91c4dd" stroke-width="1.1"/>
<circle cx="345.6" cy="908.8" r="3.57" fill="#fee9dd" stroke="#fee5d7" stroke-width="1.1"/>
<circle cx="371.2" cy="908.8" r="10.74" fill="#8c0c25" stroke="#770000" stroke-width="1.1"/>
<circle cx="396.8" cy="908.8" r="2.82" fill="#edf5f9" stroke="#eaf3f8" stroke-width="1.1"/>
<circle cx="422.4" cy="908.8" r="8.67" fill="#d6604d" stroke="#cf432d" stroke-width="1.1"/>
<circle cx="448" cy="908.8" r="3.57" fill="#e3eff6" stroke="#deecf4" stroke-width="1.1"/>
<circle cx="473.6" cy="908.8" r="9.05" fill="#cd4e44" stroke="#c42e22" stroke-width="1.1"/>
<circle cx="499.2" cy="908.8" r="7.44" fill="#7eb8d7" stroke="#67abd0" stroke-width="1.1"/>
<circle cx="524.8" cy="908.8" r="4.5" fill="#fddfcd" stroke="#fdd9c4" stroke-width="1.1"/>
<circle cx="576" cy="908.8" r="8.32" fill="#559ec9" stroke="#368dbf" stroke-width="1.1"/>
<circle cx="627.2" cy="908.8" r="10.42" fill="#9f1228" stroke="#8e0001" stroke-width="1.1"/>
<circle cx="652.8" cy="908.8" r="6.49" fill="#a2cde2" stroke="#91c4dd" stroke-width="1.1"/>
<circle cx="678.4" cy="908.8" r="5.75" fill="#b8d8e9" stroke="#abd1e5" stroke-width="1.1"/>
<circle cx="704" cy="908.8" r="7.7" fill="#e8896d" stroke="#e47453" stroke-width="1.1"/>
<circle cx="729.6" cy="908.8" r="5.97" fill="#b2d5e7" stroke="#a4cde3" stroke-width="1.1"/>
<circle cx="755.2" cy="908.8" r="9.93" fill="#256caf" stroke="#0052a1" stroke-width="1.1"/>
<circle cx="780.8" cy="908.8" r="8.75" fill="#4191c2" stroke="#1f7db7" stroke-width="1.1"/>
<circle cx="806.4" cy="908.8" r="4.77" fill="#fddbc7" stroke="#fdd5bd" stroke-width="1.1"/>
<circle cx="832" cy="908.8" r="11.13" fill="#0a3a6f" stroke="#001755" stroke-width="1.1"/>
<circle cx="857.6" cy="908.8" r="6.79" fill="#98c8e0" stroke="#85beda" stroke-width="1.1"/>
<circle cx="883.2" cy="908.8" r="4.77" fill="#fddbc7" stroke="#fdd5bd" stroke-width="1.1"/>
<circle cx="908.8" cy="908.8" r="11.35" fill="#053061" stroke="#000b45" stroke-width="1.1"/>
<text class="t tb e" transform="translate(-10.5,17.7) scale(1,1.04)">Ba</text>
<text class="t tb e" transform="translate(-10.5,43.3) scale(1,1.04)">Pb</text>
<text class="t tb e" transform="translate(-10.5,68.9) scale(1,1.04)">Ag</text>
<text class="t tb e" transform="translate(-10.5,94.5) scale(1,1.04)">Al</text>
<text class="t tb e" transform="translate(-10.5,120.1) scale(1,1.04)">Be</text>
<text class="t tb e" transform="translate(-10.5,145.7) scale(1,1.04)">Ca</text>
<text class="t tb e" transform="translate(-10.5,171.3) scale(1,1.04)">Cd</text>
<text class="t tb e" transform="translate(-10.5,196.9) scale(1,1.04)">Co</text>
<text class="t tb e" transform="translate(-10.5,222.5) scale(1,1.04)">Cr</text>
<text class="t tb e" transform="translate(-10.5,248.1) scale(1,1.04)">Cs</text>
<text class="t tb e" transform="translate(-10.5,273.7) scale(1,1.04)">Cu</text>
<text class="t tb e" transform="translate(-10.5,299.3) scale(1,1.04)">Fe</text>
<text class="t tb e" transform="translate(-10.5,324.9) scale(1,1.04)">Ga</text>
<text class="t tb e" transform="translate(-10.5,350.5) scale(1,1.04)">K</text>
<text class="t tb e" transform="translate(-10.5,376.1) scale(1,1.04)">Li</text>
<text class="t tb e" transform="translate(-10.5,401.7) scale(1,1.04)">Mg</text>
<text class="t tb e" transform="translate(-10.5,427.3) scale(1,1.04)">Mn</text>
<text class="t tb e" transform="translate(-10.5,452.9) scale(1,1.04)">Na</text>
<text class="t tb e" transform="translate(-10.5,478.5) scale(1,1.04)">Ni</text>
<text class="t tb e" transform="translate(-10.5,504.1) scale(1,1.04)">Mo</text>
<text class="t tb e" transform="translate(-10.5,529.7) scale(1,1.04)">Rb</text>
<text class="t tb e" transform="translate(-10.5,555.3) scale(1,1.04)">Se</text>
<text class="t tb e" transform="translate(-10.5,580.9) scale(1,1.04)">Sr</text>
<text class="t tb e" transform="translate(-10.5,606.5) scale(1,1.04)">Ti</text>
<text class="t tb e" transform="translate(-10.5,632.1) scale(1,1.04)">U</text>
<text class="t tb e" transform="translate(-10.5,657.7) scale(1,1.04)">B</text>
<text class="t tb e" transform="translate(-10.5,683.3) scale(1,1.04)">Zn</text>
<text class="t tb e" transform="translate(-10.5,708.9) scale(1,1.04)">Hg</text>
<text class="t tb e" transform="translate(-10.5,734.5) scale(1,1.04)">Si</text>
<text class="t tb e" transform="translate(-10.5,760.1) scale(1,1.04)">P</text>
<text class="t tb e" transform="translate(-10.5,785.7) scale(1,1.04)">Cl</text>
<text class="t tb e" transform="translate(-10.5,811.3) scale(1,1.04)">Zr</text>
<text class="t tb e" transform="translate(-10.5,836.9) scale(1,1.04)">Xe</text>
<text class="t tb e" transform="translate(-10.5,862.5) scale(1,1.04)">Sn</text>
<text class="t tb e" transform="translate(-10.5,888.1) scale(1,1.04)">I</text>
<text class="t tb e" transform="translate(-10.5,913.7) scale(1,1.04)">Ce</text>
<text class="t tb" transform="translate(19.3,-9.8) rotate(-90) scale(1,1.04)">Ba</text>
<text class="t tb" transform="translate(44.9,-9.8) rotate(-90) scale(1,1.04)">Pb</text>
<text class="t tb" transform="translate(70.5,-9.8) rotate(-90) scale(1,1.04)">Ag</text>
<text class="t tb" transform="translate(96.1,-9.8) rotate(-90) scale(1,1.04)">Al</text>
<text class="t tb" transform="translate(121.7,-9.8) rotate(-90) scale(1,1.04)">Be</text>
<text class="t tb" transform="translate(147.3,-9.8) rotate(-90) scale(1,1.04)">Ca</text>
<text class="t tb" transform="translate(172.9,-9.8) rotate(-90) scale(1,1.04)">Cd</text>
<text class="t tb" transform="translate(198.5,-9.8) rotate(-90) scale(1,1.04)">Co</text>
<text class="t tb" transform="translate(224.1,-9.8) rotate(-90) scale(1,1.04)">Cr</text>
<text class="t tb" transform="translate(249.7,-9.8) rotate(-90) scale(1,1.04)">Cs</text>
<text class="t tb" transform="translate(275.3,-9.8) rotate(-90) scale(1,1.04)">Cu</text>
<text class="t tb" transform="translate(300.9,-9.8) rotate(-90) scale(1,1.04)">Fe</text>
<text class="t tb" transform="translate(326.5,-9.8) rotate(-90) scale(1,1.04)">Ga</text>
<text class="t tb" transform="translate(352.1,-9.8) rotate(-90) scale(1,1.04)">K</text>
<text class="t tb" transform="translate(377.7,-9.8) rotate(-90) scale(1,1.04)">Li</text>
<text class="t tb" transform="translate(403.3,-9.8) rotate(-90) scale(1,1.04)">Mg</text>
<text class="t tb" transform="translate(428.9,-9.8) rotate(-90) scale(1,1.04)">Mn</text>
<text class="t tb" transform="translate(454.5,-9.8) rotate(-90) scale(1,1.04)">Na</text>
<text class="t tb" transform="translate(480.1,-9.8) rotate(-90) scale(1,1.04)">Ni</text>
<text class="t tb" transform="translate(505.7,-9.8) rotate(-90) scale(1,1.04)">Mo</text>
<text class="t tb" transform="translate(531.3,-9.8) rotate(-90) scale(1,1.04)">Rb</text>
<text class="t tb" transform="translate(556.9,-9.8) rotate(-90) scale(1,1.04)">Se</text>
<text class="t tb" transform="translate(582.5,-9.8) rotate(-90) scale(1,1.04)">Sr</text>
<text class="t tb" transform="translate(608.1,-9.8) rotate(-90) scale(1,1.04)">Ti</text>
<text class="t tb" transform="translate(633.7,-9.8) rotate(-90) scale(1,1.04)">U</text>
<text class="t tb" transform="translate(659.3,-9.8) rotate(-90) scale(1,1.04)">B</text>
<text class="t tb" transform="translate(684.9,-9.8) rotate(-90) scale(1,1.04)">Zn</text>
<text class="t tb" transform="translate(710.5,-9.8) rotate(-90) scale(1,1.04)">Hg</text>
<text class="t tb" transform="translate(736.1,-9.8) rotate(-90) scale(1,1.04)">Si</text>
<text class="t tb" transform="translate(761.7,-9.8) rotate(-90) scale(1,1.04)">P</text>
<text class="t tb" transform="translate(787.3,-9.8) rotate(-90) scale(1,1.04)">Cl</text>
<text class="t tb" transform="translate(812.9,-9.8) rotate(-90) scale(1,1.04)">Zr</text>
<text class="t tb" transform="translate(838.5,-9.8) rotate(-90) scale(1,1.04)">Xe</text>
<text class="t tb" transform="translate(864.1,-9.8) rotate(-90) scale(1,1.04)">Sn</text>
<text class="t tb" transform="translate(889.7,-9.8) rotate(-90) scale(1,1.04)">I</text>
<text class="t tb" transform="translate(915.3,-9.8) rotate(-90) scale(1,1.04)">Ce</text>
</g>
<rect x="1894.4" y="72.7" width="35.8" height="1008.2" fill="url(#cb)" stroke="#111" stroke-width="1.4"/>
<text class="k kb m" transform="translate(1974,72.7) scale(1,1.09)" y="6.6">1</text>
<text class="k kb m" transform="translate(1974,173.5) scale(1,1.09)" y="6.6">0.8</text>
<text class="k kb m" transform="translate(1974,274.3) scale(1,1.09)" y="6.6">0.6</text>
<text class="k kb m" transform="translate(1974,375.2) scale(1,1.09)" y="6.6">0.4</text>
<text class="k kb m" transform="translate(1974,476) scale(1,1.09)" y="6.6">0.2</text>
<text class="k kb m" transform="translate(1974,576.8) scale(1,1.09)" y="6.6">0</text>
<text class="k kb m" transform="translate(1974,677.6) scale(1,1.09)" y="6.6">−0.2</text>
<text class="k kb m" transform="translate(1974,778.4) scale(1,1.09)" y="6.6">−0.4</text>
<text class="k kb m" transform="translate(1974,879.3) scale(1,1.09)" y="6.6">−0.6</text>
<text class="k kb m" transform="translate(1974,980.1) scale(1,1.09)" y="6.6">−0.8</text>
<text class="k kb m" transform="translate(1974,1080.9) scale(1,1.09)" y="6.6">−1</text>
<path d="M1930.2 72.7h6.8M1930.2 173.5h6.8M1930.2 274.3h6.8M1930.2 375.2h6.8M1930.2 476h6.8M1930.2 576.8h6.8M1930.2 677.6h6.8M1930.2 778.4h6.8M1930.2 879.3h6.8M1930.2 980.1h6.8M1930.2 1080.9h6.8" stroke="#333" stroke-width="1.4"/>
</g>
</svg>
</body></html>
